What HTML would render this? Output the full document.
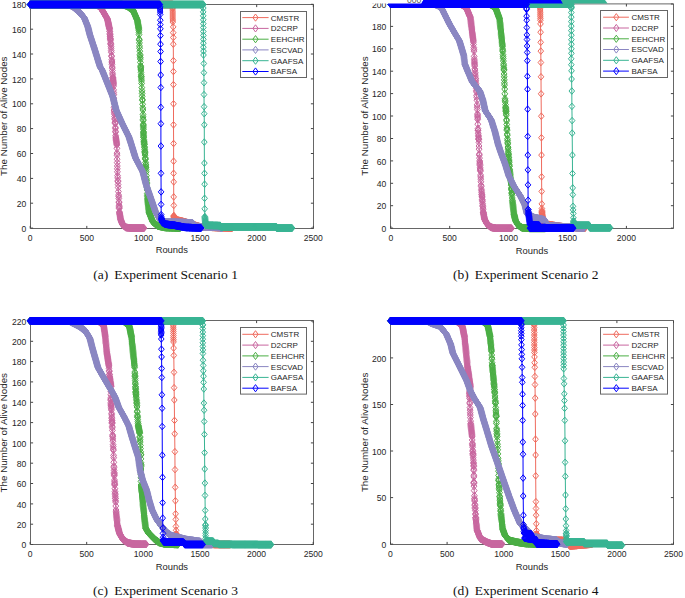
<!DOCTYPE html><html><head><meta charset="utf-8"><style>html,body{margin:0;padding:0;background:#fff;overflow:hidden}svg{display:block}</style></head><body>
<svg width="685" height="598" viewBox="0 0 685 598">
<defs>
<marker id="d0" markerUnits="userSpaceOnUse" markerWidth="12" markerHeight="12" refX="0" refY="0" overflow="visible"><path d="M0 -3.7 L2.9 0 L0 3.7 L-2.9 0Z" fill="none" stroke="#ef6b5e" stroke-width="1.0"/></marker>
<marker id="s0" markerUnits="userSpaceOnUse" markerWidth="12" markerHeight="12" refX="0" refY="0" overflow="visible"><path d="M0 -3.3 L2.8 0 L0 3.3 L-2.8 0Z" fill="none" stroke="#ef6b5e" stroke-width="1.0"/></marker>
<marker id="d1" markerUnits="userSpaceOnUse" markerWidth="12" markerHeight="12" refX="0" refY="0" overflow="visible"><path d="M0 -3.7 L2.9 0 L0 3.7 L-2.9 0Z" fill="none" stroke="#c8669f" stroke-width="1.0"/></marker>
<marker id="s1" markerUnits="userSpaceOnUse" markerWidth="12" markerHeight="12" refX="0" refY="0" overflow="visible"><path d="M0 -3.3 L2.8 0 L0 3.3 L-2.8 0Z" fill="none" stroke="#c8669f" stroke-width="1.0"/></marker>
<marker id="d2" markerUnits="userSpaceOnUse" markerWidth="12" markerHeight="12" refX="0" refY="0" overflow="visible"><path d="M0 -3.7 L2.9 0 L0 3.7 L-2.9 0Z" fill="none" stroke="#4aae44" stroke-width="1.0"/></marker>
<marker id="s2" markerUnits="userSpaceOnUse" markerWidth="12" markerHeight="12" refX="0" refY="0" overflow="visible"><path d="M0 -3.3 L2.8 0 L0 3.3 L-2.8 0Z" fill="none" stroke="#4aae44" stroke-width="1.0"/></marker>
<marker id="d3" markerUnits="userSpaceOnUse" markerWidth="12" markerHeight="12" refX="0" refY="0" overflow="visible"><path d="M0 -3.7 L2.9 0 L0 3.7 L-2.9 0Z" fill="none" stroke="#8a86c2" stroke-width="1.0"/></marker>
<marker id="s3" markerUnits="userSpaceOnUse" markerWidth="12" markerHeight="12" refX="0" refY="0" overflow="visible"><path d="M0 -3.3 L2.8 0 L0 3.3 L-2.8 0Z" fill="none" stroke="#8a86c2" stroke-width="1.0"/></marker>
<marker id="d4" markerUnits="userSpaceOnUse" markerWidth="12" markerHeight="12" refX="0" refY="0" overflow="visible"><path d="M0 -3.7 L2.9 0 L0 3.7 L-2.9 0Z" fill="none" stroke="#38b493" stroke-width="1.0"/></marker>
<marker id="s4" markerUnits="userSpaceOnUse" markerWidth="12" markerHeight="12" refX="0" refY="0" overflow="visible"><path d="M0 -3.3 L2.8 0 L0 3.3 L-2.8 0Z" fill="none" stroke="#38b493" stroke-width="1.0"/></marker>
<marker id="d5" markerUnits="userSpaceOnUse" markerWidth="12" markerHeight="12" refX="0" refY="0" overflow="visible"><path d="M0 -3.7 L2.9 0 L0 3.7 L-2.9 0Z" fill="none" stroke="#0000ff" stroke-width="1.0"/></marker>
<marker id="s5" markerUnits="userSpaceOnUse" markerWidth="12" markerHeight="12" refX="0" refY="0" overflow="visible"><path d="M0 -3.3 L2.8 0 L0 3.3 L-2.8 0Z" fill="none" stroke="#0000ff" stroke-width="1.0"/></marker>
</defs>
<rect width="685" height="598" fill="#fff"/>
<g font-family="&quot;Liberation Sans&quot;, sans-serif" font-size="8.6" fill="#262626"><path d="M30.5 4.5H313.5V228.5H30.5Z" fill="none" stroke="#666" stroke-width="1"/><path d="M30.2 228.5v-2.6M30.2 4.5v2.6M86.8 228.5v-2.6M86.8 4.5v2.6M143.5 228.5v-2.6M143.5 4.5v2.6M200.1 228.5v-2.6M200.1 4.5v2.6M256.7 228.5v-2.6M256.7 4.5v2.6M313.3 228.5v-2.6M313.3 4.5v2.6M30.5 228.1h2.6M313.5 228.1h-2.6M30.5 203.2h2.6M313.5 203.2h-2.6M30.5 178.4h2.6M313.5 178.4h-2.6M30.5 153.5h2.6M313.5 153.5h-2.6M30.5 128.6h2.6M313.5 128.6h-2.6M30.5 103.8h2.6M313.5 103.8h-2.6M30.5 78.9h2.6M313.5 78.9h-2.6M30.5 54h2.6M313.5 54h-2.6M30.5 29.2h2.6M313.5 29.2h-2.6M30.5 4.3h2.6M313.5 4.3h-2.6" stroke="#444" stroke-width="1" fill="none"/><polyline points="30.2,4.5 172.6,4.5 172.6,8 172.8,22 173.2,26.9 173.2,32.7 173.3,37.5 173.3,44.2 173.4,60.6 173.4,71.5 173.4,84.6 173.5,103.8 173.5,124.8 173.6,143.5 173.6,161.2 173.6,173.3 173.7,181.9 173.7,196.9 173.8,205.4 173.8,215.6 174.5,219.5 185,222 200,226.9 232,228.1" fill="none" stroke="#ef6b5e" stroke-width="1.0"/><polyline points="30.2,4.5 30.7,4.5 31.2,4.5 31.7,4.5 32.2,4.5 32.7,4.5 33.2,4.5 33.7,4.5 34.2,4.5 34.7,4.5 35.2,4.5 35.7,4.5 36.2,4.5 36.7,4.5 37.2,4.5 37.7,4.5 38.2,4.5 38.7,4.5 39.2,4.5 39.7,4.5 40.2,4.5 40.7,4.5 41.2,4.5 41.7,4.5 42.2,4.5 42.7,4.5 43.2,4.5 43.7,4.5 44.2,4.5 44.7,4.5 45.2,4.5 45.7,4.5 46.2,4.5 46.7,4.5 47.2,4.5 47.7,4.5 48.2,4.5 48.7,4.5 49.2,4.5 49.7,4.5 50.2,4.5 50.7,4.5 51.2,4.5 51.7,4.5 52.2,4.5 52.7,4.5 53.2,4.5 53.7,4.5 54.2,4.5 54.7,4.5 55.2,4.5 55.7,4.5 56.2,4.5 56.7,4.5 57.2,4.5 57.7,4.5 58.2,4.5 58.7,4.5 59.2,4.5 59.7,4.5 60.2,4.5 60.7,4.5 61.2,4.5 61.7,4.5 62.2,4.5 62.7,4.5 63.2,4.5 63.7,4.5 64.2,4.5 64.7,4.5 65.2,4.5 65.7,4.5 66.2,4.5 66.7,4.5 67.2,4.5 67.7,4.5 68.2,4.5 68.7,4.5 69.2,4.5 69.7,4.5 70.2,4.5 70.7,4.5 71.2,4.5 71.7,4.5 72.2,4.5 72.7,4.5 73.2,4.5 73.7,4.5 74.2,4.5 74.7,4.5 75.2,4.5 75.7,4.5 76.2,4.5 76.7,4.5 77.2,4.5 77.7,4.5 78.2,4.5 78.7,4.5 79.2,4.5 79.7,4.5 80.2,4.5 80.7,4.5 81.2,4.5 81.7,4.5 82.2,4.5 82.7,4.5 83.2,4.5 83.7,4.5 84.2,4.5 84.7,4.5 85.2,4.5 85.7,4.5 86.2,4.5 86.7,4.5 87.2,4.5 87.7,4.5 88.2,4.5 88.7,4.5 89.2,4.5 89.7,4.5 90.2,4.5 90.7,4.5 91.2,4.5 91.7,4.5 92.2,4.5 92.7,4.5 93.2,4.5 93.7,4.5 94.2,4.5 94.7,4.5 95.2,4.5 95.7,4.5 96.2,4.5 96.7,4.5 97.2,4.5 97.7,4.5 98.2,4.5 98.7,4.5 99.2,4.5 99.7,4.5 100.2,4.5 100.7,4.5 101.2,4.5 101.6,4.5 102.1,4.5 102.6,4.5 103.1,4.5 103.6,4.5 104.1,4.5 104.6,4.5 105.1,4.5 105.6,4.5 106.1,4.5 106.6,4.5 107.1,4.5 107.6,4.5 108.1,4.5 108.6,4.5 109.1,4.5 109.6,4.5 110.1,4.5 110.6,4.5 111.1,4.5 111.6,4.5 112.1,4.5 112.6,4.5 113.1,4.5 113.6,4.5 114.1,4.5 114.6,4.5 115.1,4.5 115.6,4.5 116.1,4.5 116.6,4.5 117.1,4.5 117.6,4.5 118.1,4.5 118.6,4.5 119.1,4.5 119.6,4.5 120.1,4.5 120.6,4.5 121.1,4.5 121.6,4.5 122.1,4.5 122.6,4.5 123.1,4.5 123.6,4.5 124.1,4.5 124.6,4.5 125.1,4.5 125.6,4.5 126.1,4.5 126.6,4.5 127.1,4.5 127.6,4.5 128.1,4.5 128.6,4.5 129.1,4.5 129.6,4.5 130.1,4.5 130.6,4.5 131.1,4.5 131.6,4.5 132.1,4.5 132.6,4.5 133.1,4.5 133.6,4.5 134.1,4.5 134.6,4.5 135.1,4.5 135.6,4.5 136.1,4.5 136.6,4.5 137.1,4.5 137.6,4.5 138.1,4.5 138.6,4.5 139.1,4.5 139.6,4.5 140.1,4.5 140.6,4.5 141.1,4.5 141.6,4.5 142.1,4.5 142.6,4.5 143.1,4.5 143.6,4.5 144.1,4.5 144.6,4.5 145.1,4.5 145.6,4.5 146.1,4.5 146.6,4.5 147.1,4.5 147.6,4.5 148.1,4.5 148.6,4.5 149.1,4.5 149.6,4.5 150.1,4.5 150.6,4.5 151.1,4.5 151.6,4.5 152.1,4.5 152.6,4.5 153.1,4.5 153.6,4.5 154.1,4.5 154.6,4.5 155.1,4.5 155.6,4.5 156.1,4.5 156.6,4.5 157.1,4.5 157.6,4.5 158.1,4.5 158.6,4.5 159.1,4.5 159.6,4.5 160.1,4.5 160.6,4.5 161.1,4.5 161.6,4.5 162.1,4.5 162.6,4.5 163.1,4.5 163.6,4.5 164.1,4.5 164.6,4.5 165.1,4.5 165.6,4.5 166.1,4.5 166.6,4.5 167.1,4.5 167.6,4.5 168.1,4.5 168.6,4.5 169.1,4.5 169.6,4.5 170.1,4.5 170.6,4.5 171.1,4.5 171.6,4.5 172.1,4.5 172.6,4.5 172.6,6.7 172.6,8 173.9,216.2 174,216.7 174.1,217.3 174.2,217.8 174.3,218.4 174.4,218.9 174.5,219.5 175,219.6 175.5,219.7 175.9,219.8 176.4,220 176.9,220.1 177.4,220.2 177.8,220.3 178.3,220.4 178.8,220.5 179.3,220.6 179.8,220.8 180.2,220.9 180.7,221 181.2,221.1 181.7,221.2 182.1,221.3 182.6,221.4 183.1,221.5 183.6,221.7 184,221.8 184.5,221.9 185,222 185.5,222.2 185.9,222.3 186.4,222.5 186.9,222.6 187.3,222.8 187.8,222.9 188.3,223.1 188.8,223.2 189.2,223.4 189.7,223.5 190.2,223.7 190.6,223.8 191.1,224 191.6,224.1 192,224.3 192.5,224.4 193,224.6 193.4,224.8 193.9,224.9 194.4,225.1 194.8,225.2 195.3,225.4 195.8,225.5 196.2,225.7 196.7,225.8 197.2,226 197.7,226.1 198.1,226.3 198.6,226.4 199.1,226.6 199.5,226.7 200,226.9 200.5,226.9 201,226.9 201.5,227 202,227 202.5,227 203,227 203.4,227 203.9,227 204.4,227.1 204.9,227.1 205.4,227.1 205.9,227.1 206.4,227.1 206.9,227.2 207.4,227.2 207.9,227.2 208.4,227.2 208.9,227.2 209.4,227.3 209.8,227.3 210.3,227.3 210.8,227.3 211.3,227.3 211.8,227.3 212.3,227.4 212.8,227.4 213.3,227.4 213.8,227.4 214.3,227.4 214.8,227.5 215.3,227.5 215.8,227.5 216.2,227.5 216.7,227.5 217.2,227.5 217.7,227.6 218.2,227.6 218.7,227.6 219.2,227.6 219.7,227.6 220.2,227.7 220.7,227.7 221.2,227.7 221.7,227.7 222.2,227.7 222.6,227.7 223.1,227.8 223.6,227.8 224.1,227.8 224.6,227.8 225.1,227.8 225.6,227.9 226.1,227.9 226.6,227.9 227.1,227.9 227.6,227.9 228.1,228 228.6,228 229,228 229.5,228 230,228 230.5,228 231,228.1 231.5,228.1 232,228.1" fill="none" stroke="none" marker-start="url(#d0)" marker-mid="url(#d0)" marker-end="url(#d0)"/><polyline points="172.6,10 172.7,12 172.7,14 172.7,16 172.7,18 172.8,20 172.8,22 173.2,26.9 173.2,32.7 173.3,37.5 173.3,44.2 173.4,60.6 173.4,71.5 173.4,84.6 173.5,103.8 173.5,124.8 173.6,143.5 173.6,161.2 173.6,173.3 173.7,181.9 173.7,196.9 173.8,205.4 173.8,215.6" fill="none" stroke="none" marker-start="url(#s0)" marker-mid="url(#s0)" marker-end="url(#s0)"/><polyline points="30.2,4.5 95,4.5 99,6 102.3,10.2 107.4,19 109.6,29.2 110.4,39.4 111.1,48.2 112.2,67 112.8,77.6 113.5,83.4 114.1,110 115.2,123.5 115.8,137 116.8,145 117.4,171.8 118.8,198.5 119.4,211.9 120.5,219 122.5,224.5 126,227.5 132,228.1 144,228.1" fill="none" stroke="#c8669f" stroke-width="1.0"/><polyline points="30.2,4.5 30.7,4.5 31.2,4.5 31.7,4.5 32.2,4.5 32.7,4.5 33.2,4.5 33.7,4.5 34.2,4.5 34.7,4.5 35.2,4.5 35.7,4.5 36.2,4.5 36.7,4.5 37.2,4.5 37.7,4.5 38.2,4.5 38.7,4.5 39.2,4.5 39.7,4.5 40.2,4.5 40.7,4.5 41.2,4.5 41.7,4.5 42.2,4.5 42.7,4.5 43.2,4.5 43.7,4.5 44.2,4.5 44.7,4.5 45.2,4.5 45.7,4.5 46.2,4.5 46.6,4.5 47.1,4.5 47.6,4.5 48.1,4.5 48.6,4.5 49.1,4.5 49.6,4.5 50.1,4.5 50.6,4.5 51.1,4.5 51.6,4.5 52.1,4.5 52.6,4.5 53.1,4.5 53.6,4.5 54.1,4.5 54.6,4.5 55.1,4.5 55.6,4.5 56.1,4.5 56.6,4.5 57.1,4.5 57.6,4.5 58.1,4.5 58.6,4.5 59.1,4.5 59.6,4.5 60.1,4.5 60.6,4.5 61.1,4.5 61.6,4.5 62.1,4.5 62.6,4.5 63.1,4.5 63.6,4.5 64.1,4.5 64.6,4.5 65.1,4.5 65.6,4.5 66.1,4.5 66.6,4.5 67.1,4.5 67.6,4.5 68.1,4.5 68.6,4.5 69.1,4.5 69.6,4.5 70.1,4.5 70.6,4.5 71.1,4.5 71.6,4.5 72.1,4.5 72.6,4.5 73.1,4.5 73.6,4.5 74.1,4.5 74.6,4.5 75.1,4.5 75.6,4.5 76.1,4.5 76.6,4.5 77.1,4.5 77.6,4.5 78.1,4.5 78.6,4.5 79,4.5 79.5,4.5 80,4.5 80.5,4.5 81,4.5 81.5,4.5 82,4.5 82.5,4.5 83,4.5 83.5,4.5 84,4.5 84.5,4.5 85,4.5 85.5,4.5 86,4.5 86.5,4.5 87,4.5 87.5,4.5 88,4.5 88.5,4.5 89,4.5 89.5,4.5 90,4.5 90.5,4.5 91,4.5 91.5,4.5 92,4.5 92.5,4.5 93,4.5 93.5,4.5 94,4.5 94.5,4.5 95,4.5 95.4,4.7 95.9,4.8 96.3,5 96.8,5.2 97.2,5.3 97.7,5.5 98.1,5.7 98.6,5.8 99,6 99.3,6.4 99.6,6.8 99.9,7.1 100.2,7.5 100.5,7.9 100.8,8.3 101.1,8.7 101.4,9.1 101.7,9.4 102,9.8 102.3,10.2 102.5,10.6 102.8,11 103,11.5 103.3,11.9 103.5,12.3 103.8,12.7 104,13.1 104.2,13.6 104.5,14 104.7,14.4 105,14.8 105.2,15.2 105.5,15.6 105.7,16.1 105.9,16.5 106.2,16.9 106.4,17.3 106.7,17.7 106.9,18.2 107.2,18.6 107.4,19 107.5,19.5 107.6,20 107.7,20.5 107.8,21 108,21.6 108.1,22.1 108.2,22.6 108.3,23.1 108.4,23.6 108.5,24.1 108.6,24.6 108.7,25.1 108.8,25.6 108.9,26.1 109,26.6 109.2,27.2 109.3,27.7 109.4,28.2 109.5,28.7 109.6,29.2 109.7,31.1 109.8,31.6 109.9,33.3 110,34.5 110.1,35 110.2,36.6 110.2,37 110.3,38.4 110.4,39 110.4,39.4 110.5,40.8 110.7,43.1 110.7,43.7 110.8,44.6 111,46.4 111.1,48.2 111.2,50.5 111.3,52.3 111.5,55.9 111.6,56.5 111.8,59.7 111.9,61.1 111.9,62.1 112,63 112,64.4 112.2,67 112.3,68.1 112.4,70.5 112.5,73.1 112.6,74.9 112.8,77.2 112.8,77.6 112.9,78.4 113,79.3 113.1,80.1 113.2,80.9 113.3,81.7 113.4,82.6 113.5,83.4 113.5,84.4 113.6,86 113.6,89.9 113.7,92.5 113.8,94.7 113.8,98.1 113.9,100.9 113.9,103 114,107.3 114.1,110 114.2,110.9 114.3,112.6 114.4,114.1 114.6,116.5 114.8,118.5 114.9,119.5 115.1,122.1 115.1,122.7 115.2,123.5 115.4,127.3 115.4,128.6 115.5,131.3 115.6,132.1 115.7,135.5 115.8,137 115.9,137.9 116,138.8 116.1,139.7 116.2,140.6 116.4,141.4 116.5,142.3 116.6,143.2 116.7,144.1 116.8,145 116.9,148.3 117,153.1 117,155.2 117.1,159.2 117.2,162.6 117.3,166 117.3,168.8 117.4,171.8 117.6,175.7 117.7,177.9 117.9,180.8 117.9,181.6 118.1,184.6 118.2,187.5 118.4,191.6 118.6,195 118.7,196.6 118.8,198.5 119,201.9 119,202.6 119.1,205.2 119.2,206.5 119.2,207.7 119.2,208.5 119.4,211.9 119.5,212.6 119.6,213.3 119.7,214 119.8,214.7 120,215.4 120.1,216.2 120.2,216.9 120.3,217.6 120.4,218.3 120.5,219 120.7,219.5 120.8,219.9 121,220.4 121.2,220.8 121.3,221.3 121.5,221.8 121.7,222.2 121.8,222.7 122,223.1 122.2,223.6 122.3,224 122.5,224.5 122.8,224.8 123.2,225.1 123.5,225.4 123.9,225.7 124.2,226 124.6,226.3 125,226.6 125.3,226.9 125.7,227.2 126,227.5 126.5,227.5 126.9,227.6 127.4,227.6 127.8,227.7 128.3,227.7 128.8,227.8 129.2,227.8 129.7,227.9 130.2,227.9 130.6,228 131.1,228 131.5,228.1 132,228.1 132.5,228.1 133,228.1 133.5,228.1 134,228.1 134.5,228.1 135,228.1 135.5,228.1 136,228.1 136.5,228.1 137,228.1 137.5,228.1 138,228.1 138.5,228.1 139,228.1 139.5,228.1 140,228.1 140.5,228.1 141,228.1 141.5,228.1 142,228.1 142.5,228.1 143,228.1 143.5,228.1 144,228.1" fill="none" stroke="none" marker-start="url(#d1)" marker-mid="url(#d1)" marker-end="url(#d1)"/><polyline points="30.2,4.5 122,4.5 127,6 133,10.2 137.4,20.4 138.8,29.2 139.6,48.2 140.9,70 141.6,83.4 142.9,110 143.6,137 144.6,147.6 146.2,171.8 147.5,198.5 148.9,211.9 152.9,222 158,226 165,227.5 180,228.1" fill="none" stroke="#4aae44" stroke-width="1.0"/><polyline points="30.2,4.5 30.7,4.5 31.2,4.5 31.7,4.5 32.2,4.5 32.7,4.5 33.2,4.5 33.7,4.5 34.2,4.5 34.7,4.5 35.2,4.5 35.7,4.5 36.2,4.5 36.7,4.5 37.2,4.5 37.7,4.5 38.2,4.5 38.7,4.5 39.2,4.5 39.7,4.5 40.2,4.5 40.7,4.5 41.2,4.5 41.7,4.5 42.2,4.5 42.7,4.5 43.2,4.5 43.7,4.5 44.2,4.5 44.7,4.5 45.2,4.5 45.7,4.5 46.2,4.5 46.7,4.5 47.2,4.5 47.7,4.5 48.2,4.5 48.7,4.5 49.2,4.5 49.7,4.5 50.2,4.5 50.7,4.5 51.2,4.5 51.7,4.5 52.2,4.5 52.7,4.5 53.1,4.5 53.6,4.5 54.1,4.5 54.6,4.5 55.1,4.5 55.6,4.5 56.1,4.5 56.6,4.5 57.1,4.5 57.6,4.5 58.1,4.5 58.6,4.5 59.1,4.5 59.6,4.5 60.1,4.5 60.6,4.5 61.1,4.5 61.6,4.5 62.1,4.5 62.6,4.5 63.1,4.5 63.6,4.5 64.1,4.5 64.6,4.5 65.1,4.5 65.6,4.5 66.1,4.5 66.6,4.5 67.1,4.5 67.6,4.5 68.1,4.5 68.6,4.5 69.1,4.5 69.6,4.5 70.1,4.5 70.6,4.5 71.1,4.5 71.6,4.5 72.1,4.5 72.6,4.5 73.1,4.5 73.6,4.5 74.1,4.5 74.6,4.5 75.1,4.5 75.6,4.5 76.1,4.5 76.6,4.5 77.1,4.5 77.6,4.5 78.1,4.5 78.6,4.5 79.1,4.5 79.6,4.5 80.1,4.5 80.6,4.5 81.1,4.5 81.6,4.5 82.1,4.5 82.6,4.5 83.1,4.5 83.6,4.5 84.1,4.5 84.6,4.5 85.1,4.5 85.6,4.5 86.1,4.5 86.6,4.5 87.1,4.5 87.6,4.5 88.1,4.5 88.6,4.5 89.1,4.5 89.6,4.5 90.1,4.5 90.6,4.5 91.1,4.5 91.6,4.5 92.1,4.5 92.6,4.5 93.1,4.5 93.6,4.5 94.1,4.5 94.6,4.5 95.1,4.5 95.6,4.5 96.1,4.5 96.6,4.5 97.1,4.5 97.6,4.5 98.1,4.5 98.6,4.5 99,4.5 99.5,4.5 100,4.5 100.5,4.5 101,4.5 101.5,4.5 102,4.5 102.5,4.5 103,4.5 103.5,4.5 104,4.5 104.5,4.5 105,4.5 105.5,4.5 106,4.5 106.5,4.5 107,4.5 107.5,4.5 108,4.5 108.5,4.5 109,4.5 109.5,4.5 110,4.5 110.5,4.5 111,4.5 111.5,4.5 112,4.5 112.5,4.5 113,4.5 113.5,4.5 114,4.5 114.5,4.5 115,4.5 115.5,4.5 116,4.5 116.5,4.5 117,4.5 117.5,4.5 118,4.5 118.5,4.5 119,4.5 119.5,4.5 120,4.5 120.5,4.5 121,4.5 121.5,4.5 122,4.5 122.5,4.6 122.9,4.8 123.4,4.9 123.8,5 124.3,5.2 124.7,5.3 125.2,5.5 125.6,5.6 126.1,5.7 126.5,5.9 127,6 127.4,6.3 127.8,6.6 128.2,6.8 128.6,7.1 129,7.4 129.4,7.7 129.8,8 130.2,8.2 130.6,8.5 131,8.8 131.4,9.1 131.8,9.4 132.2,9.6 132.6,9.9 133,10.2 133.2,10.6 133.4,11.1 133.6,11.5 133.8,12 134,12.4 134.1,12.9 134.3,13.3 134.5,13.7 134.7,14.2 134.9,14.6 135.1,15.1 135.3,15.5 135.5,16 135.7,16.4 135.9,16.9 136.1,17.3 136.3,17.7 136.4,18.2 136.6,18.6 136.8,19.1 137,19.5 137.2,20 137.4,20.4 137.5,21.1 137.6,21.8 137.7,22.4 137.8,23.1 137.9,23.8 138,24.5 138.2,25.1 138.3,25.8 138.4,26.5 138.5,27.2 138.6,27.8 138.7,28.5 138.8,29.2 138.9,30.4 138.9,32.2 139,34.6 139.2,39.2 139.3,40.2 139.4,42.9 139.5,46 139.6,48.2 139.8,51.2 140,54.4 140.1,55.8 140.2,57.5 140.3,59.1 140.4,62.4 140.7,65.9 140.7,66.8 140.8,67.8 140.8,69 140.9,70 141,72.3 141.2,74.9 141.2,76.4 141.3,77 141.4,79 141.5,80.9 141.6,83.4 141.8,87.6 142,90.8 142.1,93.4 142.2,96.3 142.4,99.5 142.4,100.3 142.6,104.3 142.8,107.9 142.9,110 143,114.4 143.1,116.9 143.1,119.4 143.2,120.6 143.3,124.2 143.3,125.2 143.3,126.2 143.4,127.9 143.4,129.4 143.5,131.6 143.5,132.6 143.5,133.3 143.5,134.7 143.6,135.8 143.6,137 143.6,137.4 143.8,139.4 144,140.9 144,141.5 144.1,142.3 144.2,143.3 144.3,144.3 144.3,144.8 144.5,146.8 144.6,147.6 144.7,149.3 144.8,151.1 144.9,151.8 144.9,152.5 145,153.9 145.1,155.1 145.3,157.9 145.3,158.8 145.4,159.3 145.6,162.4 145.7,164.3 145.8,165.1 145.9,167.1 145.9,167.6 146,169.5 146.2,171.8 146.4,175.7 146.5,178.9 146.6,180.5 146.7,182.5 146.8,183.7 147,187.3 147.1,189.9 147.3,193.5 147.3,195.3 147.4,196.8 147.5,198.5 147.6,199.5 147.7,200.6 147.8,201.6 147.9,202.6 148,203.7 148.1,204.7 148.3,205.7 148.4,206.7 148.5,207.8 148.6,208.8 148.7,209.8 148.8,210.9 148.9,211.9 149.1,212.4 149.3,212.8 149.4,213.3 149.6,213.7 149.8,214.2 150,214.7 150.2,215.1 150.4,215.6 150.5,216 150.7,216.5 150.9,216.9 151.1,217.4 151.3,217.9 151.4,218.3 151.6,218.8 151.8,219.2 152,219.7 152.2,220.2 152.4,220.6 152.5,221.1 152.7,221.5 152.9,222 153.3,222.3 153.7,222.6 154.1,222.9 154.5,223.2 154.9,223.5 155.3,223.8 155.6,224.2 156,224.5 156.4,224.8 156.8,225.1 157.2,225.4 157.6,225.7 158,226 158.5,226.1 158.9,226.2 159.4,226.3 159.9,226.4 160.3,226.5 160.8,226.6 161.3,226.7 161.7,226.8 162.2,226.9 162.7,227 163.1,227.1 163.6,227.2 164.1,227.3 164.5,227.4 165,227.5 165.5,227.5 166,227.5 166.5,227.6 166.9,227.6 167.4,227.6 167.9,227.6 168.4,227.6 168.9,227.7 169.4,227.7 169.8,227.7 170.3,227.7 170.8,227.7 171.3,227.8 171.8,227.8 172.3,227.8 172.7,227.8 173.2,227.8 173.7,227.8 174.2,227.9 174.7,227.9 175.2,227.9 175.6,227.9 176.1,227.9 176.6,228 177.1,228 177.6,228 178.1,228 178.5,228 179,228.1 179.5,228.1 180,228.1" fill="none" stroke="none" marker-start="url(#d2)" marker-mid="url(#d2)" marker-end="url(#d2)"/><polyline points="30.2,4.5 68,4.5 72,6 77.5,10.2 84.1,17.5 87.7,26.3 89.9,35 94.3,48.2 100.1,66.9 102.1,70 107.5,83.4 112.8,96.8 116.2,110.1 122.2,123.5 128.9,136.9 131.5,145 135.5,158 142.8,171.8 146.2,185 150.9,198.5 155.6,211.9 159.6,219 163,222 175,222.3 192,222.8 196,226.5 220,227.5 222,228.1" fill="none" stroke="#8a86c2" stroke-width="1.0"/><polyline points="30.2,4.5 30.7,4.5 31.2,4.5 31.7,4.5 32.2,4.5 32.7,4.5 33.2,4.5 33.7,4.5 34.2,4.5 34.7,4.5 35.2,4.5 35.7,4.5 36.2,4.5 36.7,4.5 37.2,4.5 37.7,4.5 38.2,4.5 38.7,4.5 39.2,4.5 39.6,4.5 40.1,4.5 40.6,4.5 41.1,4.5 41.6,4.5 42.1,4.5 42.6,4.5 43.1,4.5 43.6,4.5 44.1,4.5 44.6,4.5 45.1,4.5 45.6,4.5 46.1,4.5 46.6,4.5 47.1,4.5 47.6,4.5 48.1,4.5 48.6,4.5 49.1,4.5 49.6,4.5 50.1,4.5 50.6,4.5 51.1,4.5 51.6,4.5 52.1,4.5 52.6,4.5 53.1,4.5 53.6,4.5 54.1,4.5 54.6,4.5 55.1,4.5 55.6,4.5 56.1,4.5 56.6,4.5 57.1,4.5 57.6,4.5 58.1,4.5 58.5,4.5 59,4.5 59.5,4.5 60,4.5 60.5,4.5 61,4.5 61.5,4.5 62,4.5 62.5,4.5 63,4.5 63.5,4.5 64,4.5 64.5,4.5 65,4.5 65.5,4.5 66,4.5 66.5,4.5 67,4.5 67.5,4.5 68,4.5 68.4,4.7 68.9,4.8 69.3,5 69.8,5.2 70.2,5.3 70.7,5.5 71.1,5.7 71.6,5.8 72,6 72.4,6.3 72.8,6.6 73.2,6.9 73.6,7.2 74,7.5 74.4,7.8 74.8,8.1 75.1,8.4 75.5,8.7 75.9,9 76.3,9.3 76.7,9.6 77.1,9.9 77.5,10.2 77.8,10.6 78.2,10.9 78.5,11.3 78.8,11.7 79.2,12 79.5,12.4 79.8,12.8 80.1,13.1 80.5,13.5 80.8,13.8 81.1,14.2 81.5,14.6 81.8,14.9 82.1,15.3 82.4,15.7 82.8,16 83.1,16.4 83.4,16.8 83.8,17.1 84.1,17.5 84.3,17.9 84.5,18.4 84.6,18.8 84.8,19.3 85,19.7 85.2,20.1 85.4,20.6 85.5,21 85.7,21.5 85.9,21.9 86.1,22.3 86.3,22.8 86.4,23.2 86.6,23.7 86.8,24.1 87,24.5 87.2,25 87.3,25.4 87.5,25.9 87.7,26.3 87.8,26.8 87.9,27.3 88.1,27.8 88.2,28.2 88.3,28.7 88.4,29.2 88.6,29.7 88.7,30.2 88.8,30.6 88.9,31.1 89,31.6 89.2,32.1 89.3,32.6 89.4,33.1 89.5,33.5 89.7,34 89.8,34.5 89.9,35 90.1,35.5 90.2,35.9 90.4,36.4 90.5,36.9 90.7,37.4 90.8,37.8 91,38.3 91.2,38.8 91.3,39.2 91.5,39.7 91.6,40.2 91.8,40.7 91.9,41.1 92.1,41.6 92.3,42.1 92.4,42.5 92.6,43 92.7,43.5 92.9,44 93,44.4 93.2,44.9 93.4,45.4 93.5,45.8 93.7,46.3 93.8,46.8 94,47.3 94.1,47.7 94.3,48.2 94.4,48.7 94.6,49.1 94.7,49.6 94.9,50.1 95,50.5 95.2,51 95.3,51.5 95.5,51.9 95.6,52.4 95.8,52.9 95.9,53.3 96,53.8 96.2,54.3 96.3,54.7 96.5,55.2 96.6,55.7 96.8,56.1 96.9,56.6 97.1,57.1 97.2,57.6 97.3,58 97.5,58.5 97.6,59 97.8,59.4 97.9,59.9 98.1,60.4 98.2,60.8 98.4,61.3 98.5,61.8 98.6,62.2 98.8,62.7 98.9,63.2 99.1,63.6 99.2,64.1 99.4,64.6 99.5,65 99.7,65.5 99.8,66 100,66.4 100.1,66.9 100.3,67.3 100.6,67.7 100.8,68.1 101.1,68.5 101.3,68.8 101.6,69.2 101.8,69.6 102.1,70 102.3,70.5 102.5,70.9 102.7,71.4 102.8,71.8 103,72.3 103.2,72.8 103.4,73.2 103.6,73.7 103.8,74.2 104,74.6 104.1,75.1 104.3,75.5 104.5,76 104.7,76.5 104.9,76.9 105.1,77.4 105.3,77.9 105.5,78.3 105.6,78.8 105.8,79.2 106,79.7 106.2,80.2 106.4,80.6 106.6,81.1 106.8,81.6 106.9,82 107.1,82.5 107.3,82.9 107.5,83.4 107.7,83.9 107.9,84.3 108,84.8 108.2,85.2 108.4,85.7 108.6,86.2 108.8,86.6 109,87.1 109.1,87.6 109.3,88 109.5,88.5 109.7,88.9 109.9,89.4 110.1,89.9 110.2,90.3 110.4,90.8 110.6,91.3 110.8,91.7 111,92.2 111.2,92.6 111.3,93.1 111.5,93.6 111.7,94 111.9,94.5 112.1,95 112.3,95.4 112.4,95.9 112.6,96.3 112.8,96.8 112.9,97.3 113,97.8 113.2,98.2 113.3,98.7 113.4,99.2 113.5,99.6 113.7,100.1 113.8,100.6 113.9,101.1 114,101.5 114.1,102 114.3,102.5 114.4,103 114.5,103.4 114.6,103.9 114.7,104.4 114.9,104.9 115,105.3 115.1,105.8 115.2,106.3 115.3,106.8 115.5,107.2 115.6,107.7 115.7,108.2 115.8,108.7 116,109.1 116.1,109.6 116.2,110.1 116.4,110.5 116.6,111 116.8,111.4 117,111.9 117.2,112.3 117.4,112.8 117.6,113.2 117.8,113.7 118,114.1 118.2,114.6 118.4,115 118.6,115.5 118.8,115.9 119,116.4 119.2,116.8 119.4,117.2 119.6,117.7 119.8,118.1 120,118.6 120.2,119 120.4,119.5 120.6,119.9 120.8,120.4 121,120.8 121.2,121.3 121.4,121.7 121.6,122.2 121.8,122.6 122,123.1 122.2,123.5 122.4,123.9 122.6,124.4 122.9,124.8 123.1,125.3 123.3,125.7 123.5,126.2 123.8,126.6 124,127.1 124.2,127.5 124.4,128 124.7,128.4 124.9,128.9 125.1,129.3 125.3,129.8 125.6,130.2 125.8,130.6 126,131.1 126.2,131.5 126.4,132 126.7,132.4 126.9,132.9 127.1,133.3 127.3,133.8 127.6,134.2 127.8,134.7 128,135.1 128.2,135.6 128.5,136 128.7,136.5 128.9,136.9 129,137.3 129.2,137.8 129.3,138.2 129.5,138.7 129.6,139.2 129.8,139.6 129.9,140.1 130.1,140.5 130.2,140.9 130.3,141.4 130.5,141.8 130.6,142.3 130.8,142.8 130.9,143.2 131.1,143.7 131.2,144.1 131.4,144.6 131.5,145 131.6,145.5 131.8,145.9 131.9,146.4 132.1,146.9 132.2,147.3 132.4,147.8 132.5,148.2 132.6,148.7 132.8,149.2 132.9,149.6 133.1,150.1 133.2,150.6 133.4,151 133.5,151.5 133.6,152 133.8,152.4 133.9,152.9 134.1,153.4 134.2,153.8 134.4,154.3 134.5,154.8 134.6,155.2 134.8,155.7 134.9,156.1 135.1,156.6 135.2,157.1 135.4,157.5 135.5,158 135.7,158.4 136,158.9 136.2,159.3 136.4,159.7 136.6,160.2 136.9,160.6 137.1,161 137.3,161.4 137.6,161.9 137.8,162.3 138,162.7 138.2,163.2 138.5,163.6 138.7,164 138.9,164.5 139.2,164.9 139.4,165.3 139.6,165.8 139.8,166.2 140.1,166.6 140.3,167.1 140.5,167.5 140.7,167.9 141,168.4 141.2,168.8 141.4,169.2 141.7,169.6 141.9,170.1 142.1,170.5 142.3,170.9 142.6,171.4 142.8,171.8 142.9,172.3 143,172.7 143.2,173.2 143.3,173.7 143.4,174.2 143.5,174.6 143.7,175.1 143.8,175.6 143.9,176 144,176.5 144.1,177 144.3,177.5 144.4,177.9 144.5,178.4 144.6,178.9 144.7,179.3 144.9,179.8 145,180.3 145.1,180.8 145.2,181.2 145.3,181.7 145.5,182.2 145.6,182.6 145.7,183.1 145.8,183.6 146,184.1 146.1,184.5 146.2,185 146.4,185.5 146.5,185.9 146.7,186.4 146.8,186.9 147,187.3 147.2,187.8 147.3,188.3 147.5,188.7 147.7,189.2 147.8,189.7 148,190.1 148.1,190.6 148.3,191.1 148.5,191.5 148.6,192 148.8,192.4 149,192.9 149.1,193.4 149.3,193.8 149.4,194.3 149.6,194.8 149.8,195.2 149.9,195.7 150.1,196.2 150.3,196.6 150.4,197.1 150.6,197.6 150.7,198 150.9,198.5 151.1,199 151.2,199.4 151.4,199.9 151.5,200.3 151.7,200.8 151.9,201.3 152,201.7 152.2,202.2 152.4,202.7 152.5,203.1 152.7,203.6 152.8,204 153,204.5 153.2,205 153.3,205.4 153.5,205.9 153.7,206.4 153.8,206.8 154,207.3 154.1,207.7 154.3,208.2 154.5,208.7 154.6,209.1 154.8,209.6 155,210.1 155.1,210.5 155.3,211 155.4,211.4 155.6,211.9 155.8,212.3 156.1,212.7 156.3,213.2 156.5,213.6 156.8,214 157,214.4 157.2,214.8 157.5,215.2 157.7,215.7 158,216.1 158.2,216.5 158.4,216.9 158.7,217.3 158.9,217.7 159.1,218.2 159.4,218.6 159.6,219 159.9,219.3 160.3,219.6 160.6,219.9 161,220.2 161.3,220.5 161.6,220.8 162,221.1 162.3,221.4 162.7,221.7 163,222 163.5,222 164,222 164.4,222 164.9,222 165.4,222.1 165.9,222.1 166.4,222.1 166.8,222.1 167.3,222.1 167.8,222.1 168.3,222.1 168.8,222.1 169.2,222.2 169.7,222.2 170.2,222.2 170.7,222.2 171.2,222.2 171.6,222.2 172.1,222.2 172.6,222.2 173.1,222.3 173.6,222.3 174,222.3 174.5,222.3 175,222.3 175.5,222.3 176,222.3 176.5,222.3 176.9,222.4 177.4,222.4 177.9,222.4 178.4,222.4 178.9,222.4 179.4,222.4 179.9,222.4 180.3,222.5 180.8,222.5 181.3,222.5 181.8,222.5 182.3,222.5 182.8,222.5 183.3,222.5 183.7,222.6 184.2,222.6 184.7,222.6 185.2,222.6 185.7,222.6 186.2,222.6 186.7,222.6 187.1,222.7 187.6,222.7 188.1,222.7 188.6,222.7 189.1,222.7 189.6,222.7 190.1,222.7 190.5,222.8 191,222.8 191.5,222.8 192,222.8 192.4,223.1 192.7,223.5 193.1,223.8 193.5,224.1 193.8,224.5 194.2,224.8 194.5,225.2 194.9,225.5 195.3,225.8 195.6,226.2 196,226.5 196.5,226.5 197,226.5 197.5,226.6 198,226.6 198.4,226.6 198.9,226.6 199.4,226.6 199.9,226.7 200.4,226.7 200.9,226.7 201.4,226.7 201.9,226.7 202.4,226.8 202.9,226.8 203.3,226.8 203.8,226.8 204.3,226.8 204.8,226.9 205.3,226.9 205.8,226.9 206.3,226.9 206.8,226.9 207.3,227 207.8,227 208.2,227 208.7,227 209.2,227.1 209.7,227.1 210.2,227.1 210.7,227.1 211.2,227.1 211.7,227.2 212.2,227.2 212.7,227.2 213.1,227.2 213.6,227.2 214.1,227.3 214.6,227.3 215.1,227.3 215.6,227.3 216.1,227.3 216.6,227.4 217.1,227.4 217.6,227.4 218,227.4 218.5,227.4 219,227.5 219.5,227.5 220,227.5 220.4,227.6 220.8,227.7 221.2,227.9 221.6,228 222,228.1" fill="none" stroke="none" marker-start="url(#d3)" marker-mid="url(#d3)" marker-end="url(#d3)"/><polyline points="30.2,4.5 203.2,4.5 203.2,8 203.5,55 203.8,63.5 203.9,72.7 204,82.7 204,94.6 204.1,106.7 204.2,113.7 204.3,124.8 204.3,142.1 204.4,163.1 204.5,173.3 204.6,184.2 204.6,198.3 204.7,208.8 204.8,216.5 205.3,221.6 206,225.3 220,225.6 221,226.9 276,226.9 277,228.1 292,228.1" fill="none" stroke="#38b493" stroke-width="1.0"/><polyline points="30.2,4.5 30.7,4.5 31.2,4.5 31.7,4.5 32.2,4.5 32.7,4.5 33.2,4.5 33.7,4.5 34.2,4.5 34.7,4.5 35.2,4.5 35.7,4.5 36.2,4.5 36.7,4.5 37.2,4.5 37.7,4.5 38.2,4.5 38.7,4.5 39.2,4.5 39.7,4.5 40.2,4.5 40.7,4.5 41.2,4.5 41.7,4.5 42.2,4.5 42.7,4.5 43.2,4.5 43.7,4.5 44.2,4.5 44.7,4.5 45.2,4.5 45.7,4.5 46.2,4.5 46.7,4.5 47.2,4.5 47.7,4.5 48.2,4.5 48.7,4.5 49.2,4.5 49.7,4.5 50.2,4.5 50.7,4.5 51.2,4.5 51.7,4.5 52.2,4.5 52.7,4.5 53.2,4.5 53.7,4.5 54.2,4.5 54.7,4.5 55.2,4.5 55.7,4.5 56.2,4.5 56.7,4.5 57.2,4.5 57.7,4.5 58.2,4.5 58.7,4.5 59.2,4.5 59.7,4.5 60.2,4.5 60.7,4.5 61.2,4.5 61.7,4.5 62.2,4.5 62.7,4.5 63.2,4.5 63.7,4.5 64.2,4.5 64.7,4.5 65.2,4.5 65.7,4.5 66.2,4.5 66.7,4.5 67.2,4.5 67.7,4.5 68.2,4.5 68.7,4.5 69.2,4.5 69.7,4.5 70.2,4.5 70.7,4.5 71.2,4.5 71.7,4.5 72.2,4.5 72.7,4.5 73.2,4.5 73.7,4.5 74.2,4.5 74.7,4.5 75.2,4.5 75.7,4.5 76.2,4.5 76.7,4.5 77.2,4.5 77.7,4.5 78.2,4.5 78.7,4.5 79.2,4.5 79.7,4.5 80.2,4.5 80.7,4.5 81.2,4.5 81.7,4.5 82.2,4.5 82.7,4.5 83.2,4.5 83.7,4.5 84.2,4.5 84.7,4.5 85.2,4.5 85.7,4.5 86.2,4.5 86.7,4.5 87.2,4.5 87.7,4.5 88.2,4.5 88.7,4.5 89.2,4.5 89.7,4.5 90.2,4.5 90.7,4.5 91.2,4.5 91.7,4.5 92.2,4.5 92.7,4.5 93.2,4.5 93.7,4.5 94.2,4.5 94.7,4.5 95.2,4.5 95.7,4.5 96.2,4.5 96.7,4.5 97.2,4.5 97.7,4.5 98.2,4.5 98.7,4.5 99.2,4.5 99.7,4.5 100.2,4.5 100.7,4.5 101.2,4.5 101.7,4.5 102.2,4.5 102.7,4.5 103.2,4.5 103.7,4.5 104.2,4.5 104.7,4.5 105.2,4.5 105.7,4.5 106.2,4.5 106.7,4.5 107.2,4.5 107.7,4.5 108.2,4.5 108.7,4.5 109.2,4.5 109.7,4.5 110.2,4.5 110.7,4.5 111.2,4.5 111.7,4.5 112.2,4.5 112.7,4.5 113.2,4.5 113.7,4.5 114.2,4.5 114.7,4.5 115.2,4.5 115.7,4.5 116.2,4.5 116.7,4.5 117.2,4.5 117.7,4.5 118.2,4.5 118.7,4.5 119.2,4.5 119.7,4.5 120.2,4.5 120.7,4.5 121.2,4.5 121.7,4.5 122.2,4.5 122.7,4.5 123.2,4.5 123.7,4.5 124.2,4.5 124.7,4.5 125.2,4.5 125.7,4.5 126.2,4.5 126.7,4.5 127.2,4.5 127.7,4.5 128.2,4.5 128.7,4.5 129.2,4.5 129.7,4.5 130.2,4.5 130.7,4.5 131.2,4.5 131.7,4.5 132.2,4.5 132.7,4.5 133.2,4.5 133.7,4.5 134.2,4.5 134.7,4.5 135.2,4.5 135.7,4.5 136.2,4.5 136.7,4.5 137.2,4.5 137.7,4.5 138.2,4.5 138.7,4.5 139.2,4.5 139.7,4.5 140.2,4.5 140.7,4.5 141.2,4.5 141.7,4.5 142.2,4.5 142.7,4.5 143.2,4.5 143.7,4.5 144.2,4.5 144.7,4.5 145.2,4.5 145.7,4.5 146.2,4.5 146.7,4.5 147.2,4.5 147.7,4.5 148.2,4.5 148.7,4.5 149.2,4.5 149.7,4.5 150.2,4.5 150.7,4.5 151.2,4.5 151.7,4.5 152.2,4.5 152.7,4.5 153.2,4.5 153.7,4.5 154.2,4.5 154.7,4.5 155.2,4.5 155.7,4.5 156.2,4.5 156.7,4.5 157.2,4.5 157.7,4.5 158.2,4.5 158.7,4.5 159.2,4.5 159.7,4.5 160.2,4.5 160.7,4.5 161.2,4.5 161.7,4.5 162.2,4.5 162.7,4.5 163.2,4.5 163.7,4.5 164.2,4.5 164.7,4.5 165.2,4.5 165.7,4.5 166.2,4.5 166.7,4.5 167.2,4.5 167.7,4.5 168.2,4.5 168.7,4.5 169.2,4.5 169.7,4.5 170.2,4.5 170.7,4.5 171.2,4.5 171.7,4.5 172.2,4.5 172.7,4.5 173.2,4.5 173.7,4.5 174.2,4.5 174.7,4.5 175.2,4.5 175.7,4.5 176.2,4.5 176.7,4.5 177.2,4.5 177.7,4.5 178.2,4.5 178.7,4.5 179.2,4.5 179.7,4.5 180.2,4.5 180.7,4.5 181.2,4.5 181.7,4.5 182.2,4.5 182.7,4.5 183.2,4.5 183.7,4.5 184.2,4.5 184.7,4.5 185.2,4.5 185.7,4.5 186.2,4.5 186.7,4.5 187.2,4.5 187.7,4.5 188.2,4.5 188.7,4.5 189.2,4.5 189.7,4.5 190.2,4.5 190.7,4.5 191.2,4.5 191.7,4.5 192.2,4.5 192.7,4.5 193.2,4.5 193.7,4.5 194.2,4.5 194.7,4.5 195.2,4.5 195.7,4.5 196.2,4.5 196.7,4.5 197.2,4.5 197.7,4.5 198.2,4.5 198.7,4.5 199.2,4.5 199.7,4.5 200.2,4.5 200.7,4.5 201.2,4.5 201.7,4.5 202.2,4.5 202.7,4.5 203.2,4.5 203.2,8 204.9,217.5 205,218.5 205.1,219.6 205.2,220.6 205.3,221.6 205.4,222.1 205.5,222.7 205.6,223.2 205.7,223.7 205.8,224.2 205.9,224.8 206,225.3 206.5,225.3 207,225.3 207.4,225.3 207.9,225.3 208.4,225.4 208.9,225.4 209.4,225.4 209.9,225.4 210.3,225.4 210.8,225.4 211.3,225.4 211.8,225.4 212.3,225.4 212.8,225.4 213.2,225.5 213.7,225.5 214.2,225.5 214.7,225.5 215.2,225.5 215.7,225.5 216.1,225.5 216.6,225.5 217.1,225.5 217.6,225.5 218.1,225.6 218.6,225.6 219,225.6 219.5,225.6 220,225.6 220.2,225.9 220.5,226.2 220.8,226.6 221,226.9 221.5,226.9 222,226.9 222.5,226.9 223,226.9 223.5,226.9 224,226.9 224.5,226.9 225,226.9 225.5,226.9 226,226.9 226.5,226.9 227,226.9 227.5,226.9 228,226.9 228.5,226.9 229,226.9 229.5,226.9 230,226.9 230.5,226.9 231,226.9 231.5,226.9 232,226.9 232.5,226.9 233,226.9 233.5,226.9 234,226.9 234.5,226.9 235,226.9 235.5,226.9 236,226.9 236.5,226.9 237,226.9 237.5,226.9 238,226.9 238.5,226.9 239,226.9 239.5,226.9 240,226.9 240.5,226.9 241,226.9 241.5,226.9 242,226.9 242.5,226.9 243,226.9 243.5,226.9 244,226.9 244.5,226.9 245,226.9 245.5,226.9 246,226.9 246.5,226.9 247,226.9 247.5,226.9 248,226.9 248.5,226.9 249,226.9 249.5,226.9 250,226.9 250.5,226.9 251,226.9 251.5,226.9 252,226.9 252.5,226.9 253,226.9 253.5,226.9 254,226.9 254.5,226.9 255,226.9 255.5,226.9 256,226.9 256.5,226.9 257,226.9 257.5,226.9 258,226.9 258.5,226.9 259,226.9 259.5,226.9 260,226.9 260.5,226.9 261,226.9 261.5,226.9 262,226.9 262.5,226.9 263,226.9 263.5,226.9 264,226.9 264.5,226.9 265,226.9 265.5,226.9 266,226.9 266.5,226.9 267,226.9 267.5,226.9 268,226.9 268.5,226.9 269,226.9 269.5,226.9 270,226.9 270.5,226.9 271,226.9 271.5,226.9 272,226.9 272.5,226.9 273,226.9 273.5,226.9 274,226.9 274.5,226.9 275,226.9 275.5,226.9 276,226.9 276.2,227.2 276.5,227.5 276.8,227.8 277,228.1 277.5,228.1 278,228.1 278.5,228.1 279,228.1 279.5,228.1 280,228.1 280.5,228.1 281,228.1 281.5,228.1 282,228.1 282.5,228.1 283,228.1 283.5,228.1 284,228.1 284.5,228.1 285,228.1 285.5,228.1 286,228.1 286.5,228.1 287,228.1 287.5,228.1 288,228.1 288.5,228.1 289,228.1 289.5,228.1 290,228.1 290.5,228.1 291,228.1 291.5,228.1 292,228.1" fill="none" stroke="none" marker-start="url(#d4)" marker-mid="url(#d4)" marker-end="url(#d4)"/><polyline points="203.2,11.9 203.2,15.8 203.3,19.8 203.3,23.7 203.3,27.6 203.3,31.5 203.4,35.4 203.4,39.3 203.4,43.2 203.4,47.2 203.5,51.1 203.5,55 203.8,63.5 203.9,72.7 204,82.7 204,94.6 204.1,106.7 204.2,113.7 204.3,124.8 204.3,142.1 204.4,163.1 204.5,173.3 204.6,184.2 204.6,198.3 204.7,208.8 204.8,216.5" fill="none" stroke="none" marker-start="url(#s4)" marker-mid="url(#s4)" marker-end="url(#s4)"/><polyline points="30.2,4.5 159.7,4.5 160,8 160.2,12 160.2,14.4 160.3,20.2 160.3,24.6 160.4,28.8 160.4,35.6 160.5,44.2 160.6,51.5 160.6,61.5 160.7,75 160.8,87.5 160.8,107.3 160.9,123.7 160.9,146 161,173.3 161.1,191.9 161.1,204.4 161.2,214.6 161.5,218.5 162.5,222.5 165.5,224.2 175,225.4 185,227.4 201,228" fill="none" stroke="#0000ff" stroke-width="1.0"/><polyline points="30.2,4.5 30.7,4.5 31.2,4.5 31.7,4.5 32.2,4.5 32.7,4.5 33.2,4.5 33.7,4.5 34.2,4.5 34.7,4.5 35.2,4.5 35.7,4.5 36.2,4.5 36.7,4.5 37.2,4.5 37.7,4.5 38.2,4.5 38.7,4.5 39.2,4.5 39.7,4.5 40.2,4.5 40.7,4.5 41.2,4.5 41.7,4.5 42.2,4.5 42.7,4.5 43.2,4.5 43.7,4.5 44.2,4.5 44.7,4.5 45.2,4.5 45.7,4.5 46.2,4.5 46.7,4.5 47.2,4.5 47.7,4.5 48.2,4.5 48.7,4.5 49.2,4.5 49.7,4.5 50.2,4.5 50.7,4.5 51.2,4.5 51.7,4.5 52.2,4.5 52.7,4.5 53.2,4.5 53.7,4.5 54.2,4.5 54.7,4.5 55.2,4.5 55.7,4.5 56.2,4.5 56.7,4.5 57.2,4.5 57.7,4.5 58.2,4.5 58.7,4.5 59.2,4.5 59.7,4.5 60.2,4.5 60.7,4.5 61.2,4.5 61.7,4.5 62.2,4.5 62.7,4.5 63.2,4.5 63.7,4.5 64.2,4.5 64.7,4.5 65.2,4.5 65.7,4.5 66.2,4.5 66.7,4.5 67.2,4.5 67.7,4.5 68.2,4.5 68.7,4.5 69.2,4.5 69.7,4.5 70.2,4.5 70.7,4.5 71.2,4.5 71.7,4.5 72.2,4.5 72.7,4.5 73.2,4.5 73.7,4.5 74.2,4.5 74.7,4.5 75.2,4.5 75.7,4.5 76.2,4.5 76.7,4.5 77.2,4.5 77.7,4.5 78.2,4.5 78.7,4.5 79.2,4.5 79.7,4.5 80.2,4.5 80.7,4.5 81.2,4.5 81.7,4.5 82.2,4.5 82.7,4.5 83.2,4.5 83.7,4.5 84.2,4.5 84.7,4.5 85.2,4.5 85.7,4.5 86.2,4.5 86.7,4.5 87.2,4.5 87.7,4.5 88.2,4.5 88.7,4.5 89.2,4.5 89.7,4.5 90.2,4.5 90.7,4.5 91.2,4.5 91.7,4.5 92.2,4.5 92.7,4.5 93.2,4.5 93.7,4.5 94.2,4.5 94.7,4.5 95.2,4.5 95.7,4.5 96.2,4.5 96.7,4.5 97.2,4.5 97.7,4.5 98.2,4.5 98.7,4.5 99.2,4.5 99.7,4.5 100.2,4.5 100.7,4.5 101.2,4.5 101.7,4.5 102.2,4.5 102.7,4.5 103.2,4.5 103.7,4.5 104.2,4.5 104.7,4.5 105.2,4.5 105.7,4.5 106.2,4.5 106.7,4.5 107.2,4.5 107.7,4.5 108.2,4.5 108.7,4.5 109.2,4.5 109.7,4.5 110.2,4.5 110.7,4.5 111.2,4.5 111.7,4.5 112.2,4.5 112.7,4.5 113.2,4.5 113.7,4.5 114.2,4.5 114.7,4.5 115.2,4.5 115.7,4.5 116.2,4.5 116.7,4.5 117.2,4.5 117.7,4.5 118.2,4.5 118.7,4.5 119.2,4.5 119.7,4.5 120.2,4.5 120.7,4.5 121.2,4.5 121.7,4.5 122.2,4.5 122.7,4.5 123.2,4.5 123.7,4.5 124.2,4.5 124.7,4.5 125.2,4.5 125.7,4.5 126.2,4.5 126.7,4.5 127.2,4.5 127.7,4.5 128.2,4.5 128.7,4.5 129.2,4.5 129.7,4.5 130.2,4.5 130.7,4.5 131.2,4.5 131.7,4.5 132.2,4.5 132.7,4.5 133.2,4.5 133.7,4.5 134.2,4.5 134.7,4.5 135.2,4.5 135.7,4.5 136.2,4.5 136.7,4.5 137.2,4.5 137.7,4.5 138.2,4.5 138.7,4.5 139.2,4.5 139.7,4.5 140.2,4.5 140.7,4.5 141.2,4.5 141.7,4.5 142.2,4.5 142.7,4.5 143.2,4.5 143.7,4.5 144.2,4.5 144.7,4.5 145.2,4.5 145.7,4.5 146.2,4.5 146.7,4.5 147.2,4.5 147.7,4.5 148.2,4.5 148.7,4.5 149.2,4.5 149.7,4.5 150.2,4.5 150.7,4.5 151.2,4.5 151.7,4.5 152.2,4.5 152.7,4.5 153.2,4.5 153.7,4.5 154.2,4.5 154.7,4.5 155.2,4.5 155.7,4.5 156.2,4.5 156.7,4.5 157.2,4.5 157.7,4.5 158.2,4.5 158.7,4.5 159.2,4.5 159.7,4.5 159.9,6.7 160,8 161.4,217 161.5,218.5 161.6,218.9 161.7,219.4 161.8,219.8 161.9,220.3 162.1,220.7 162.2,221.2 162.3,221.6 162.4,222.1 162.5,222.5 162.9,222.7 163.4,223 163.8,223.2 164.2,223.5 164.6,223.7 165.1,224 165.5,224.2 166,224.3 166.4,224.3 166.9,224.4 167.4,224.4 167.9,224.5 168.3,224.6 168.8,224.6 169.3,224.7 169.8,224.7 170.2,224.8 170.7,224.9 171.2,224.9 171.7,225 172.2,225 172.6,225.1 173.1,225.2 173.6,225.2 174.1,225.3 174.5,225.3 175,225.4 175.5,225.5 176,225.6 176.4,225.7 176.9,225.8 177.4,225.9 177.9,226 178.3,226.1 178.8,226.2 179.3,226.3 179.8,226.4 180.2,226.4 180.7,226.5 181.2,226.6 181.7,226.7 182.1,226.8 182.6,226.9 183.1,227 183.6,227.1 184,227.2 184.5,227.3 185,227.4 185.5,227.4 186,227.4 186.5,227.5 186.9,227.5 187.4,227.5 187.9,227.5 188.4,227.5 188.9,227.5 189.4,227.6 189.8,227.6 190.3,227.6 190.8,227.6 191.3,227.6 191.8,227.7 192.3,227.7 192.8,227.7 193.2,227.7 193.7,227.7 194.2,227.7 194.7,227.8 195.2,227.8 195.7,227.8 196.2,227.8 196.6,227.8 197.1,227.9 197.6,227.9 198.1,227.9 198.6,227.9 199.1,227.9 199.5,227.9 200,228 200.5,228 201,228" fill="none" stroke="none" marker-start="url(#d5)" marker-mid="url(#d5)" marker-end="url(#d5)"/><polyline points="160.1,10 160.2,12 160.2,14.4 160.3,20.2 160.3,24.6 160.4,28.8 160.4,35.6 160.5,44.2 160.6,51.5 160.6,61.5 160.7,75 160.8,87.5 160.8,107.3 160.9,123.7 160.9,146 161,173.3 161.1,191.9 161.1,204.4 161.2,214.6" fill="none" stroke="none" marker-start="url(#s5)" marker-mid="url(#s5)" marker-end="url(#s5)"/><text x="30.2" y="240.5" text-anchor="middle">0</text><text x="86.8" y="240.5" text-anchor="middle">500</text><text x="143.5" y="240.5" text-anchor="middle">1000</text><text x="200.1" y="240.5" text-anchor="middle">1500</text><text x="256.7" y="240.5" text-anchor="middle">2000</text><text x="313.3" y="240.5" text-anchor="middle">2500</text><text x="26.3" y="231.7" text-anchor="end">0</text><text x="26.3" y="206.8" text-anchor="end">20</text><text x="26.3" y="182" text-anchor="end">40</text><text x="26.3" y="157.1" text-anchor="end">60</text><text x="26.3" y="132.2" text-anchor="end">80</text><text x="26.3" y="107.4" text-anchor="end">100</text><text x="26.3" y="82.5" text-anchor="end">120</text><text x="26.3" y="57.6" text-anchor="end">140</text><text x="26.3" y="32.8" text-anchor="end">160</text><text x="26.3" y="7.9" text-anchor="end">180</text><text x="171.8" y="253.3" text-anchor="middle" font-size="9.4">Rounds</text><text transform="translate(6.9,116.2) rotate(-90) scale(1.04,1)" text-anchor="middle" font-size="9.4">The Number of Alive Nodes</text><rect x="240.5" y="11.5" width="66" height="66" fill="#fff" stroke="#666" stroke-width="1"/><path d="M242.3 17.6H268.6" stroke="#ef6b5e" stroke-width="1.0"/><path d="M255.5 14l2.6 3.6l-2.6 3.6l-2.6 -3.6Z" fill="none" stroke="#ef6b5e" stroke-width="1.0"/><text x="270.8" y="20.5" font-size="8">CMSTR</text><path d="M242.3 28.4H268.6" stroke="#c8669f" stroke-width="1.0"/><path d="M255.5 24.8l2.6 3.6l-2.6 3.6l-2.6 -3.6Z" fill="none" stroke="#c8669f" stroke-width="1.0"/><text x="270.8" y="31.3" font-size="8">D2CRP</text><path d="M242.3 39.2H268.6" stroke="#4aae44" stroke-width="1.0"/><path d="M255.5 35.6l2.6 3.6l-2.6 3.6l-2.6 -3.6Z" fill="none" stroke="#4aae44" stroke-width="1.0"/><text x="270.8" y="42.1" font-size="8">EEHCHR</text><path d="M242.3 49.9H268.6" stroke="#8a86c2" stroke-width="1.0"/><path d="M255.5 46.3l2.6 3.6l-2.6 3.6l-2.6 -3.6Z" fill="none" stroke="#8a86c2" stroke-width="1.0"/><text x="270.8" y="52.8" font-size="8">ESCVAD</text><path d="M242.3 60.7H268.6" stroke="#38b493" stroke-width="1.0"/><path d="M255.5 57.1l2.6 3.6l-2.6 3.6l-2.6 -3.6Z" fill="none" stroke="#38b493" stroke-width="1.0"/><text x="270.8" y="63.6" font-size="8">GAAFSA</text><path d="M242.3 71.5H268.6" stroke="#0000ff" stroke-width="1.0"/><path d="M255.5 67.9l2.6 3.6l-2.6 3.6l-2.6 -3.6Z" fill="none" stroke="#0000ff" stroke-width="1.0"/><text x="270.8" y="74.4" font-size="8">BAFSA</text><text x="93.2" y="279.1" font-family="&quot;Liberation Serif&quot;, serif" font-size="13.5" fill="#111">(a)</text><text x="114.2" y="279.1" font-family="&quot;Liberation Serif&quot;, serif" font-size="13.5" fill="#111">Experiment Scenario 1</text></g>
<g font-family="&quot;Liberation Sans&quot;, sans-serif" font-size="8.6" fill="#262626"><path d="M390.5 3.9H673.5V228.5H390.5Z" fill="none" stroke="#666" stroke-width="1"/><path d="M390.8 228.5v-2.6M390.8 3.9v2.6M449.7 228.5v-2.6M449.7 3.9v2.6M508.6 228.5v-2.6M508.6 3.9v2.6M567.5 228.5v-2.6M567.5 3.9v2.6M626.4 228.5v-2.6M626.4 3.9v2.6M390.5 228.1h2.6M673.5 228.1h-2.6M390.5 205.7h2.6M673.5 205.7h-2.6M390.5 183.3h2.6M673.5 183.3h-2.6M390.5 160.9h2.6M673.5 160.9h-2.6M390.5 138.5h2.6M673.5 138.5h-2.6M390.5 116h2.6M673.5 116h-2.6M390.5 93.6h2.6M673.5 93.6h-2.6M390.5 71.2h2.6M673.5 71.2h-2.6M390.5 48.8h2.6M673.5 48.8h-2.6M390.5 26.4h2.6M673.5 26.4h-2.6M390.5 4h2.6M673.5 4h-2.6" stroke="#444" stroke-width="1" fill="none"/><polyline points="390.8,4.3 540.2,4.3 540.2,8 540.4,20.2 540.5,23.9 540.6,32.2 540.7,42.3 540.8,51.1 540.9,62.5 541,76.8 541.1,93.8 541.3,116.2 541.4,137.7 541.5,155.1 541.6,176.8 541.7,191.4 541.8,203.9 541.9,208.5 542,213 542.5,217 545,224 560,226.5 585,228.1" fill="none" stroke="#ef6b5e" stroke-width="1.0"/><polyline points="390.8,4.3 391.3,4.3 391.8,4.3 392.3,4.3 392.8,4.3 393.3,4.3 393.8,4.3 394.3,4.3 394.8,4.3 395.3,4.3 395.8,4.3 396.3,4.3 396.8,4.3 397.3,4.3 397.8,4.3 398.3,4.3 398.8,4.3 399.3,4.3 399.8,4.3 400.3,4.3 400.8,4.3 401.3,4.3 401.8,4.3 402.3,4.3 402.8,4.3 403.3,4.3 403.8,4.3 404.3,4.3 404.8,4.3 405.3,4.3 405.8,4.3 406.3,4.3 406.8,4.3 407.3,4.3 407.8,4.3 408.3,4.3 408.8,4.3 409.3,4.3 409.8,4.3 410.3,4.3 410.8,4.3 411.3,4.3 411.8,4.3 412.3,4.3 412.8,4.3 413.3,4.3 413.8,4.3 414.3,4.3 414.8,4.3 415.3,4.3 415.8,4.3 416.3,4.3 416.8,4.3 417.3,4.3 417.8,4.3 418.3,4.3 418.8,4.3 419.3,4.3 419.8,4.3 420.3,4.3 420.8,4.3 421.3,4.3 421.8,4.3 422.3,4.3 422.8,4.3 423.3,4.3 423.8,4.3 424.3,4.3 424.8,4.3 425.3,4.3 425.8,4.3 426.3,4.3 426.8,4.3 427.3,4.3 427.8,4.3 428.3,4.3 428.8,4.3 429.3,4.3 429.8,4.3 430.3,4.3 430.8,4.3 431.3,4.3 431.8,4.3 432.3,4.3 432.8,4.3 433.3,4.3 433.8,4.3 434.3,4.3 434.8,4.3 435.3,4.3 435.8,4.3 436.3,4.3 436.8,4.3 437.3,4.3 437.8,4.3 438.3,4.3 438.8,4.3 439.3,4.3 439.8,4.3 440.3,4.3 440.8,4.3 441.3,4.3 441.8,4.3 442.3,4.3 442.8,4.3 443.3,4.3 443.8,4.3 444.3,4.3 444.8,4.3 445.3,4.3 445.8,4.3 446.3,4.3 446.8,4.3 447.3,4.3 447.8,4.3 448.3,4.3 448.8,4.3 449.3,4.3 449.8,4.3 450.3,4.3 450.8,4.3 451.3,4.3 451.8,4.3 452.3,4.3 452.8,4.3 453.3,4.3 453.8,4.3 454.3,4.3 454.8,4.3 455.3,4.3 455.8,4.3 456.3,4.3 456.8,4.3 457.3,4.3 457.8,4.3 458.3,4.3 458.8,4.3 459.3,4.3 459.8,4.3 460.3,4.3 460.8,4.3 461.3,4.3 461.8,4.3 462.3,4.3 462.8,4.3 463.3,4.3 463.8,4.3 464.3,4.3 464.8,4.3 465.3,4.3 465.7,4.3 466.2,4.3 466.7,4.3 467.2,4.3 467.7,4.3 468.2,4.3 468.7,4.3 469.2,4.3 469.7,4.3 470.2,4.3 470.7,4.3 471.2,4.3 471.7,4.3 472.2,4.3 472.7,4.3 473.2,4.3 473.7,4.3 474.2,4.3 474.7,4.3 475.2,4.3 475.7,4.3 476.2,4.3 476.7,4.3 477.2,4.3 477.7,4.3 478.2,4.3 478.7,4.3 479.2,4.3 479.7,4.3 480.2,4.3 480.7,4.3 481.2,4.3 481.7,4.3 482.2,4.3 482.7,4.3 483.2,4.3 483.7,4.3 484.2,4.3 484.7,4.3 485.2,4.3 485.7,4.3 486.2,4.3 486.7,4.3 487.2,4.3 487.7,4.3 488.2,4.3 488.7,4.3 489.2,4.3 489.7,4.3 490.2,4.3 490.7,4.3 491.2,4.3 491.7,4.3 492.2,4.3 492.7,4.3 493.2,4.3 493.7,4.3 494.2,4.3 494.7,4.3 495.2,4.3 495.7,4.3 496.2,4.3 496.7,4.3 497.2,4.3 497.7,4.3 498.2,4.3 498.7,4.3 499.2,4.3 499.7,4.3 500.2,4.3 500.7,4.3 501.2,4.3 501.7,4.3 502.2,4.3 502.7,4.3 503.2,4.3 503.7,4.3 504.2,4.3 504.7,4.3 505.2,4.3 505.7,4.3 506.2,4.3 506.7,4.3 507.2,4.3 507.7,4.3 508.2,4.3 508.7,4.3 509.2,4.3 509.7,4.3 510.2,4.3 510.7,4.3 511.2,4.3 511.7,4.3 512.2,4.3 512.7,4.3 513.2,4.3 513.7,4.3 514.2,4.3 514.7,4.3 515.2,4.3 515.7,4.3 516.2,4.3 516.7,4.3 517.2,4.3 517.7,4.3 518.2,4.3 518.7,4.3 519.2,4.3 519.7,4.3 520.2,4.3 520.7,4.3 521.2,4.3 521.7,4.3 522.2,4.3 522.7,4.3 523.2,4.3 523.7,4.3 524.2,4.3 524.7,4.3 525.2,4.3 525.7,4.3 526.2,4.3 526.7,4.3 527.2,4.3 527.7,4.3 528.2,4.3 528.7,4.3 529.2,4.3 529.7,4.3 530.2,4.3 530.7,4.3 531.2,4.3 531.7,4.3 532.2,4.3 532.7,4.3 533.2,4.3 533.7,4.3 534.2,4.3 534.7,4.3 535.2,4.3 535.7,4.3 536.2,4.3 536.7,4.3 537.2,4.3 537.7,4.3 538.2,4.3 538.7,4.3 539.2,4.3 539.7,4.3 540.2,4.3 540.2,6 540.2,8 542,210.8 542,211.7 542,212.5 542,213 542.1,213.8 542.2,214.6 542.3,215.4 542.4,216.2 542.5,217 542.7,217.5 542.8,217.9 543,218.4 543.2,218.9 543.3,219.3 543.5,219.8 543.7,220.3 543.8,220.7 544,221.2 544.2,221.7 544.3,222.1 544.5,222.6 544.7,223.1 544.8,223.5 545,224 545.5,224.1 546,224.2 546.5,224.2 546.9,224.3 547.4,224.4 547.9,224.5 548.4,224.6 548.9,224.6 549.4,224.7 549.8,224.8 550.3,224.9 550.8,225 551.3,225 551.8,225.1 552.3,225.2 552.7,225.3 553.2,225.4 553.7,225.5 554.2,225.5 554.7,225.6 555.2,225.7 555.6,225.8 556.1,225.9 556.6,225.9 557.1,226 557.6,226.1 558.1,226.2 558.5,226.3 559,226.3 559.5,226.4 560,226.5 560.5,226.5 561,226.6 561.5,226.6 562,226.6 562.5,226.7 562.9,226.7 563.4,226.7 563.9,226.8 564.4,226.8 564.9,226.8 565.4,226.8 565.9,226.9 566.4,226.9 566.9,226.9 567.4,227 567.8,227 568.3,227 568.8,227.1 569.3,227.1 569.8,227.1 570.3,227.2 570.8,227.2 571.3,227.2 571.8,227.3 572.3,227.3 572.7,227.3 573.2,227.3 573.7,227.4 574.2,227.4 574.7,227.4 575.2,227.5 575.7,227.5 576.2,227.5 576.7,227.6 577.2,227.6 577.6,227.6 578.1,227.7 578.6,227.7 579.1,227.7 579.6,227.8 580.1,227.8 580.6,227.8 581.1,227.8 581.6,227.9 582.1,227.9 582.5,227.9 583,228 583.5,228 584,228 584.5,228.1 585,228.1" fill="none" stroke="none" marker-start="url(#d0)" marker-mid="url(#d0)" marker-end="url(#d0)"/><polyline points="540.2,10 540.3,12.1 540.3,14.1 540.3,16.1 540.4,18.2 540.4,20.2 540.5,23.9 540.6,32.2 540.7,42.3 540.8,51.1 540.9,62.5 541,76.8 541.1,93.8 541.3,116.2 541.4,137.7 541.5,155.1 541.6,176.8 541.7,191.4 541.8,203.9 541.9,208.5" fill="none" stroke="none" marker-start="url(#s0)" marker-mid="url(#s0)" marker-end="url(#s0)"/><polyline points="390.8,4.3 461,4.3 464,6 466.7,8.8 470.4,17.5 471.8,29.2 473.3,40.9 474,51.1 474.3,59.1 474.9,70.1 476.1,85.1 476.9,100.2 477.6,115.2 478,130.3 478.9,142.3 479.3,155.1 480.3,170.1 481.1,185.2 482.3,200.2 483.3,212.3 484.5,219 487,224 491,227.3 496,228.3 511.5,228.3" fill="none" stroke="#c8669f" stroke-width="1.0"/><polyline points="390.8,4.3 391.3,4.3 391.8,4.3 392.3,4.3 392.8,4.3 393.3,4.3 393.8,4.3 394.3,4.3 394.8,4.3 395.3,4.3 395.8,4.3 396.3,4.3 396.8,4.3 397.3,4.3 397.8,4.3 398.3,4.3 398.8,4.3 399.3,4.3 399.8,4.3 400.3,4.3 400.8,4.3 401.3,4.3 401.8,4.3 402.3,4.3 402.7,4.3 403.2,4.3 403.7,4.3 404.2,4.3 404.7,4.3 405.2,4.3 405.7,4.3 406.2,4.3 406.7,4.3 407.2,4.3 407.7,4.3 408.2,4.3 408.7,4.3 409.2,4.3 409.7,4.3 410.2,4.3 410.7,4.3 411.2,4.3 411.7,4.3 412.2,4.3 412.7,4.3 413.2,4.3 413.7,4.3 414.2,4.3 414.7,4.3 415.2,4.3 415.7,4.3 416.2,4.3 416.7,4.3 417.2,4.3 417.7,4.3 418.2,4.3 418.7,4.3 419.2,4.3 419.7,4.3 420.2,4.3 420.7,4.3 421.2,4.3 421.7,4.3 422.2,4.3 422.7,4.3 423.2,4.3 423.7,4.3 424.2,4.3 424.7,4.3 425.2,4.3 425.7,4.3 426.1,4.3 426.6,4.3 427.1,4.3 427.6,4.3 428.1,4.3 428.6,4.3 429.1,4.3 429.6,4.3 430.1,4.3 430.6,4.3 431.1,4.3 431.6,4.3 432.1,4.3 432.6,4.3 433.1,4.3 433.6,4.3 434.1,4.3 434.6,4.3 435.1,4.3 435.6,4.3 436.1,4.3 436.6,4.3 437.1,4.3 437.6,4.3 438.1,4.3 438.6,4.3 439.1,4.3 439.6,4.3 440.1,4.3 440.6,4.3 441.1,4.3 441.6,4.3 442.1,4.3 442.6,4.3 443.1,4.3 443.6,4.3 444.1,4.3 444.6,4.3 445.1,4.3 445.6,4.3 446.1,4.3 446.6,4.3 447.1,4.3 447.6,4.3 448.1,4.3 448.6,4.3 449.1,4.3 449.5,4.3 450,4.3 450.5,4.3 451,4.3 451.5,4.3 452,4.3 452.5,4.3 453,4.3 453.5,4.3 454,4.3 454.5,4.3 455,4.3 455.5,4.3 456,4.3 456.5,4.3 457,4.3 457.5,4.3 458,4.3 458.5,4.3 459,4.3 459.5,4.3 460,4.3 460.5,4.3 461,4.3 461.4,4.5 461.9,4.8 462.3,5 462.7,5.3 463.1,5.5 463.6,5.8 464,6 464.3,6.3 464.7,6.7 465,7.1 465.4,7.4 465.7,7.8 466,8.1 466.4,8.5 466.7,8.8 466.9,9.3 467.1,9.7 467.3,10.2 467.5,10.6 467.7,11.1 467.9,11.5 468.1,12 468.3,12.5 468.5,12.9 468.6,13.4 468.8,13.8 469,14.3 469.2,14.8 469.4,15.2 469.6,15.7 469.8,16.1 470,16.6 470.2,17 470.4,17.5 470.5,18.5 470.6,19.4 470.8,20.4 470.9,21.4 471,22.4 471.1,23.4 471.2,24.3 471.3,25.3 471.4,26.3 471.6,27.2 471.7,28.2 471.8,29.2 471.9,30.1 472,31 472.1,31.9 472.3,32.8 472.4,33.7 472.5,34.6 472.6,35.5 472.7,36.4 472.8,37.3 473,38.2 473.1,39.1 473.2,40 473.3,40.9 473.4,42.1 473.5,44.5 473.8,47.6 473.9,49.3 474,51.1 474.2,56.4 474.3,59.1 474.4,60.9 474.5,62.3 474.5,63.6 474.6,64.9 474.7,66.1 474.8,68.9 474.9,70.1 475.1,72.5 475.2,74 475.4,76 475.6,78.3 475.6,78.9 475.8,80.9 476,83.4 476.1,85.1 476.3,88.4 476.4,90.7 476.5,91.9 476.6,95.4 476.7,97.2 476.9,100.2 477.1,104.9 477.2,107.2 477.3,109.5 477.5,114 477.6,115.2 477.6,116.7 477.7,118 477.7,119.4 477.8,124.2 478,128.7 478,130 478,130.3 478.2,133.2 478.4,135.3 478.5,136.6 478.6,138.4 478.7,139.2 478.7,139.6 478.9,142.3 479,146 479.1,149.1 479.3,154.1 479.3,155.1 479.5,158.1 479.7,160.9 479.8,162 479.8,163.2 479.9,164.5 480,165.6 480.1,167.8 480.2,169 480.3,170.1 480.4,171.1 480.6,175 480.7,176.9 480.8,179.1 480.9,181.8 481.1,185.2 481.2,186.6 481.4,189.2 481.5,190.8 481.7,192.4 481.8,194.1 481.8,194.5 482,195.9 482,196.7 482.1,197.1 482.2,199.4 482.3,200.2 482.4,201.7 482.6,203.7 482.7,205.4 482.8,206.5 483,208.1 483.1,209.8 483.3,212 483.3,212.3 483.4,212.9 483.5,213.5 483.6,214.1 483.7,214.7 483.8,215.3 484,216 484.1,216.6 484.2,217.2 484.3,217.8 484.4,218.4 484.5,219 484.7,219.4 484.9,219.8 485.1,220.2 485.3,220.7 485.5,221.1 485.8,221.5 486,221.9 486.2,222.3 486.4,222.8 486.6,223.2 486.8,223.6 487,224 487.4,224.3 487.7,224.6 488.1,224.9 488.5,225.2 488.8,225.5 489.2,225.8 489.5,226.1 489.9,226.4 490.3,226.7 490.6,227 491,227.3 491.5,227.4 491.9,227.5 492.4,227.6 492.8,227.7 493.3,227.8 493.7,227.8 494.2,227.9 494.6,228 495.1,228.1 495.5,228.2 496,228.3 496.5,228.3 497,228.3 497.5,228.3 498,228.3 498.5,228.3 499,228.3 499.5,228.3 500,228.3 500.5,228.3 501,228.3 501.5,228.3 502,228.3 502.5,228.3 503,228.3 503.5,228.3 504,228.3 504.5,228.3 505,228.3 505.5,228.3 506,228.3 506.5,228.3 507,228.3 507.5,228.3 508,228.3 508.5,228.3 509,228.3 509.5,228.3 510,228.3 510.5,228.3 511,228.3 511.5,228.3" fill="none" stroke="none" marker-start="url(#d1)" marker-mid="url(#d1)" marker-end="url(#d1)"/><polyline points="390.8,4.3 490,4.3 493,6 495.9,8.8 499.6,19 501,32.1 502.5,46.7 503.2,58.4 504,70.1 504.5,85.1 505.1,100.2 506.3,115.2 507,130.3 507.8,143.9 508.5,155.1 509.7,170.1 511.2,185.2 512.4,200.2 513.9,213.8 515.5,220.5 518,225 522,227.8 530,228.4 545,228.4" fill="none" stroke="#4aae44" stroke-width="1.0"/><polyline points="390.8,4.3 391.3,4.3 391.8,4.3 392.3,4.3 392.8,4.3 393.3,4.3 393.8,4.3 394.3,4.3 394.8,4.3 395.3,4.3 395.8,4.3 396.3,4.3 396.8,4.3 397.3,4.3 397.8,4.3 398.3,4.3 398.8,4.3 399.3,4.3 399.8,4.3 400.3,4.3 400.8,4.3 401.3,4.3 401.8,4.3 402.3,4.3 402.8,4.3 403.3,4.3 403.8,4.3 404.3,4.3 404.8,4.3 405.3,4.3 405.8,4.3 406.3,4.3 406.8,4.3 407.3,4.3 407.7,4.3 408.2,4.3 408.7,4.3 409.2,4.3 409.7,4.3 410.2,4.3 410.7,4.3 411.2,4.3 411.7,4.3 412.2,4.3 412.7,4.3 413.2,4.3 413.7,4.3 414.2,4.3 414.7,4.3 415.2,4.3 415.7,4.3 416.2,4.3 416.7,4.3 417.2,4.3 417.7,4.3 418.2,4.3 418.7,4.3 419.2,4.3 419.7,4.3 420.2,4.3 420.7,4.3 421.2,4.3 421.7,4.3 422.2,4.3 422.7,4.3 423.2,4.3 423.7,4.3 424.2,4.3 424.7,4.3 425.2,4.3 425.7,4.3 426.2,4.3 426.7,4.3 427.2,4.3 427.7,4.3 428.2,4.3 428.7,4.3 429.2,4.3 429.7,4.3 430.2,4.3 430.7,4.3 431.2,4.3 431.7,4.3 432.2,4.3 432.7,4.3 433.2,4.3 433.7,4.3 434.2,4.3 434.7,4.3 435.2,4.3 435.7,4.3 436.2,4.3 436.7,4.3 437.2,4.3 437.7,4.3 438.2,4.3 438.7,4.3 439.2,4.3 439.7,4.3 440.2,4.3 440.6,4.3 441.1,4.3 441.6,4.3 442.1,4.3 442.6,4.3 443.1,4.3 443.6,4.3 444.1,4.3 444.6,4.3 445.1,4.3 445.6,4.3 446.1,4.3 446.6,4.3 447.1,4.3 447.6,4.3 448.1,4.3 448.6,4.3 449.1,4.3 449.6,4.3 450.1,4.3 450.6,4.3 451.1,4.3 451.6,4.3 452.1,4.3 452.6,4.3 453.1,4.3 453.6,4.3 454.1,4.3 454.6,4.3 455.1,4.3 455.6,4.3 456.1,4.3 456.6,4.3 457.1,4.3 457.6,4.3 458.1,4.3 458.6,4.3 459.1,4.3 459.6,4.3 460.1,4.3 460.6,4.3 461.1,4.3 461.6,4.3 462.1,4.3 462.6,4.3 463.1,4.3 463.6,4.3 464.1,4.3 464.6,4.3 465.1,4.3 465.6,4.3 466.1,4.3 466.6,4.3 467.1,4.3 467.6,4.3 468.1,4.3 468.6,4.3 469.1,4.3 469.6,4.3 470.1,4.3 470.6,4.3 471.1,4.3 471.6,4.3 472.1,4.3 472.6,4.3 473.1,4.3 473.5,4.3 474,4.3 474.5,4.3 475,4.3 475.5,4.3 476,4.3 476.5,4.3 477,4.3 477.5,4.3 478,4.3 478.5,4.3 479,4.3 479.5,4.3 480,4.3 480.5,4.3 481,4.3 481.5,4.3 482,4.3 482.5,4.3 483,4.3 483.5,4.3 484,4.3 484.5,4.3 485,4.3 485.5,4.3 486,4.3 486.5,4.3 487,4.3 487.5,4.3 488,4.3 488.5,4.3 489,4.3 489.5,4.3 490,4.3 490.4,4.5 490.9,4.8 491.3,5 491.7,5.3 492.1,5.5 492.6,5.8 493,6 493.3,6.3 493.6,6.6 494,6.9 494.3,7.2 494.6,7.6 494.9,7.9 495.3,8.2 495.6,8.5 495.9,8.8 496.1,9.3 496.2,9.7 496.4,10.2 496.6,10.7 496.7,11.1 496.9,11.6 497.1,12 497.2,12.5 497.4,13 497.6,13.4 497.8,13.9 497.9,14.4 498.1,14.8 498.3,15.3 498.4,15.8 498.6,16.2 498.8,16.7 498.9,17.1 499.1,17.6 499.3,18.1 499.4,18.5 499.6,19 499.7,20.1 499.8,21.2 500,22.3 500.1,23.4 500.2,24.5 500.3,25.6 500.4,26.6 500.5,27.7 500.6,28.8 500.8,29.9 500.9,31 501,32.1 501.1,33.2 501.2,34.3 501.3,35.5 501.5,36.6 501.6,37.7 501.7,38.8 501.8,40 501.9,41.1 502,42.2 502.2,43.3 502.3,44.5 502.4,45.6 502.5,46.7 502.6,49 502.7,50.3 502.8,51.7 503,54.7 503.1,56.8 503.2,58.4 503.4,61 503.6,64 503.7,65.7 503.8,67.9 504,69.7 504,70.1 504.1,74 504.2,76.8 504.3,79.9 504.4,82.9 504.5,85.1 504.7,89 504.8,93.8 505,98.8 505.1,100.2 505.2,101.9 505.5,104.6 505.6,107 505.7,107.7 505.8,108.4 505.9,109.8 505.9,110.3 506,111.3 506,111.8 506.2,113.8 506.3,115.2 506.5,119.6 506.6,120.9 506.7,124.5 506.9,127.9 506.9,129.2 507,130.3 507.2,134 507.3,135.2 507.5,138.9 507.6,140.7 507.7,142.8 507.8,143.9 508,147 508.1,147.9 508.2,149.7 508.3,151.8 508.4,153.3 508.5,154.4 508.5,155.1 508.7,157.2 508.7,157.6 508.8,159.4 509,160.8 509,161.2 509.1,162.4 509.2,164.3 509.4,165.9 509.4,166.4 509.6,169.2 509.7,170.1 509.8,171.3 509.9,172.4 510,173.6 510.2,174.7 510.3,175.9 510.4,177.1 510.5,178.2 510.6,179.4 510.7,180.6 510.9,181.7 511,182.9 511.1,184 511.2,185.2 511.4,187.9 511.5,188.6 511.5,189.6 511.6,190 511.8,192.3 511.8,193.3 511.9,194 512,195.4 512.2,198 512.4,200.2 512.5,201.2 512.6,202.3 512.7,203.3 512.9,204.4 513,205.4 513.1,206.5 513.2,207.5 513.3,208.6 513.4,209.6 513.6,210.7 513.7,211.7 513.8,212.8 513.9,213.8 514,214.3 514.1,214.8 514.2,215.2 514.4,215.7 514.5,216.2 514.6,216.7 514.7,217.2 514.8,217.6 514.9,218.1 515,218.6 515.2,219.1 515.3,219.5 515.4,220 515.5,220.5 515.7,220.9 516,221.3 516.2,221.7 516.4,222.1 516.6,222.5 516.9,223 517.1,223.4 517.3,223.8 517.5,224.2 517.8,224.6 518,225 518.4,225.3 518.8,225.6 519.2,225.8 519.6,226.1 520,226.4 520.4,226.7 520.8,227 521.2,227.2 521.6,227.5 522,227.8 522.5,227.8 522.9,227.9 523.4,227.9 523.9,227.9 524.4,228 524.8,228 525.3,228 525.8,228.1 526.2,228.1 526.7,228.2 527.2,228.2 527.6,228.2 528.1,228.3 528.6,228.3 529.1,228.3 529.5,228.4 530,228.4 530.5,228.4 531,228.4 531.5,228.4 532,228.4 532.5,228.4 533,228.4 533.5,228.4 534,228.4 534.5,228.4 535,228.4 535.5,228.4 536,228.4 536.5,228.4 537,228.4 537.5,228.4 538,228.4 538.5,228.4 539,228.4 539.5,228.4 540,228.4 540.5,228.4 541,228.4 541.5,228.4 542,228.4 542.5,228.4 543,228.4 543.5,228.4 544,228.4 544.5,228.4 545,228.4" fill="none" stroke="none" marker-start="url(#d2)" marker-mid="url(#d2)" marker-end="url(#d2)"/><polyline points="390.8,4.3 435,4.3 439,6 441.9,8.8 445.5,16.1 449.9,24.8 455,33.6 459.4,40.9 461.6,48.2 463.8,55.5 464.8,64 467.9,71.6 472.4,82.1 479.9,91.1 482.9,100.2 485.2,110.7 491.2,119.8 495,131.8 498,143.9 500.7,152 505.2,164.1 508.9,176.1 514.2,186.7 520.2,195.7 524.8,204.8 527,213.8 533.8,217.5 544.3,219.8 548,225.8 570,227.2 584,228.1" fill="none" stroke="#8a86c2" stroke-width="1.0"/><polyline points="390.8,4.3 391.3,4.3 391.8,4.3 392.3,4.3 392.8,4.3 393.3,4.3 393.8,4.3 394.3,4.3 394.8,4.3 395.3,4.3 395.8,4.3 396.3,4.3 396.8,4.3 397.3,4.3 397.8,4.3 398.2,4.3 398.7,4.3 399.2,4.3 399.7,4.3 400.2,4.3 400.7,4.3 401.2,4.3 401.7,4.3 402.2,4.3 402.7,4.3 403.2,4.3 403.7,4.3 404.2,4.3 404.7,4.3 405.2,4.3 405.7,4.3 406.2,4.3 406.7,4.3 407.2,4.3 407.7,4.3 408.2,4.3 408.7,4.3 409.2,4.3 409.7,4.3 410.2,4.3 410.7,4.3 411.2,4.3 411.7,4.3 412.2,4.3 412.7,4.3 413.1,4.3 413.6,4.3 414.1,4.3 414.6,4.3 415.1,4.3 415.6,4.3 416.1,4.3 416.6,4.3 417.1,4.3 417.6,4.3 418.1,4.3 418.6,4.3 419.1,4.3 419.6,4.3 420.1,4.3 420.6,4.3 421.1,4.3 421.6,4.3 422.1,4.3 422.6,4.3 423.1,4.3 423.6,4.3 424.1,4.3 424.6,4.3 425.1,4.3 425.6,4.3 426.1,4.3 426.6,4.3 427.1,4.3 427.6,4.3 428,4.3 428.5,4.3 429,4.3 429.5,4.3 430,4.3 430.5,4.3 431,4.3 431.5,4.3 432,4.3 432.5,4.3 433,4.3 433.5,4.3 434,4.3 434.5,4.3 435,4.3 435.4,4.5 435.9,4.7 436.3,4.9 436.8,5.1 437.2,5.2 437.7,5.4 438.1,5.6 438.6,5.8 439,6 439.3,6.3 439.6,6.6 440,6.9 440.3,7.2 440.6,7.6 440.9,7.9 441.3,8.2 441.6,8.5 441.9,8.8 442.1,9.2 442.3,9.7 442.5,10.1 442.7,10.5 443,10.9 443.2,11.4 443.4,11.8 443.6,12.2 443.8,12.7 444,13.1 444.2,13.5 444.4,14 444.7,14.4 444.9,14.8 445.1,15.2 445.3,15.7 445.5,16.1 445.7,16.5 445.9,17 446.2,17.4 446.4,17.8 446.6,18.3 446.8,18.7 447,19.1 447.3,19.6 447.5,20 447.7,20.5 447.9,20.9 448.1,21.3 448.4,21.8 448.6,22.2 448.8,22.6 449,23.1 449.2,23.5 449.5,23.9 449.7,24.4 449.9,24.8 450.1,25.2 450.4,25.6 450.6,26.1 450.9,26.5 451.1,26.9 451.4,27.3 451.6,27.7 451.8,28.2 452.1,28.6 452.3,29 452.6,29.4 452.8,29.8 453.1,30.2 453.3,30.7 453.5,31.1 453.8,31.5 454,31.9 454.3,32.3 454.5,32.8 454.8,33.2 455,33.6 455.2,34 455.5,34.4 455.7,34.8 456,35.2 456.2,35.6 456.5,36 456.7,36.4 457,36.8 457.2,37.2 457.4,37.7 457.7,38.1 457.9,38.5 458.2,38.9 458.4,39.3 458.7,39.7 458.9,40.1 459.2,40.5 459.4,40.9 459.5,41.4 459.7,41.8 459.8,42.3 459.9,42.7 460.1,43.2 460.2,43.6 460.4,44.1 460.5,44.5 460.6,45 460.8,45.5 460.9,45.9 461.1,46.4 461.2,46.8 461.3,47.3 461.5,47.7 461.6,48.2 461.7,48.7 461.9,49.1 462,49.6 462.2,50 462.3,50.5 462.4,50.9 462.6,51.4 462.7,51.9 462.8,52.3 463,52.8 463.1,53.2 463.2,53.7 463.4,54.1 463.5,54.6 463.7,55 463.8,55.5 463.9,56.4 464,57.4 464.1,58.3 464.2,59.3 464.4,60.2 464.5,61.2 464.6,62.1 464.7,63.1 464.8,64 465,64.4 465.2,64.9 465.3,65.3 465.5,65.8 465.7,66.2 465.9,66.7 466.1,67.1 466.3,67.6 466.4,68 466.6,68.5 466.8,68.9 467,69.4 467.2,69.8 467.4,70.3 467.5,70.7 467.7,71.2 467.9,71.6 468.1,72.1 468.3,72.5 468.5,73 468.7,73.4 468.9,73.9 469.1,74.3 469.3,74.8 469.5,75.3 469.7,75.7 469.9,76.2 470.1,76.6 470.2,77.1 470.4,77.5 470.6,78 470.8,78.4 471,78.9 471.2,79.4 471.4,79.8 471.6,80.3 471.8,80.7 472,81.2 472.2,81.6 472.4,82.1 472.7,82.5 473,82.8 473.3,83.2 473.6,83.6 474,84 474.3,84.3 474.6,84.7 474.9,85.1 475.2,85.5 475.5,85.8 475.8,86.2 476.1,86.6 476.5,87 476.8,87.3 477.1,87.7 477.4,88.1 477.7,88.5 478,88.8 478.3,89.2 478.6,89.6 479,90 479.3,90.3 479.6,90.7 479.9,91.1 480,91.6 480.2,92 480.3,92.5 480.5,92.9 480.6,93.4 480.8,93.8 480.9,94.3 481.1,94.7 481.2,95.2 481.4,95.7 481.5,96.1 481.7,96.6 481.8,97 482,97.5 482.1,97.9 482.3,98.4 482.4,98.8 482.6,99.3 482.8,99.7 482.9,100.2 483,100.7 483.1,101.2 483.2,101.8 483.4,102.3 483.5,102.8 483.6,103.4 483.7,103.9 483.8,104.4 483.9,104.9 484,105.5 484.2,106 484.3,106.5 484.4,107 484.5,107.5 484.6,108.1 484.7,108.6 484.9,109.1 485,109.7 485.1,110.2 485.2,110.7 485.5,111.1 485.7,111.5 486,111.9 486.3,112.4 486.6,112.8 486.8,113.2 487.1,113.6 487.4,114 487.7,114.4 487.9,114.8 488.2,115.2 488.5,115.7 488.7,116.1 489,116.5 489.3,116.9 489.6,117.3 489.8,117.7 490.1,118.1 490.4,118.6 490.7,119 490.9,119.4 491.2,119.8 491.3,120.3 491.5,120.7 491.6,121.2 491.8,121.6 491.9,122.1 492.1,122.6 492.2,123 492.4,123.5 492.5,124 492.7,124.4 492.8,124.9 493,125.3 493.1,125.8 493.2,126.3 493.4,126.7 493.5,127.2 493.7,127.6 493.8,128.1 494,128.6 494.1,129 494.3,129.5 494.4,130 494.6,130.4 494.7,130.9 494.9,131.3 495,131.8 495.1,132.3 495.2,132.8 495.4,133.3 495.5,133.7 495.6,134.2 495.7,134.7 495.8,135.2 496,135.7 496.1,136.2 496.2,136.6 496.3,137.1 496.4,137.6 496.6,138.1 496.7,138.6 496.8,139.1 496.9,139.5 497,140 497.2,140.5 497.3,141 497.4,141.5 497.5,142 497.6,142.4 497.8,142.9 497.9,143.4 498,143.9 498.1,144.3 498.3,144.8 498.4,145.2 498.6,145.7 498.8,146.2 498.9,146.6 499.1,147.1 499.2,147.5 499.4,147.9 499.5,148.4 499.6,148.8 499.8,149.3 499.9,149.8 500.1,150.2 500.2,150.7 500.4,151.1 500.6,151.6 500.7,152 500.9,152.5 501,152.9 501.2,153.4 501.4,153.9 501.6,154.3 501.7,154.8 501.9,155.3 502.1,155.7 502.3,156.2 502.4,156.7 502.6,157.1 502.8,157.6 502.9,158.1 503.1,158.5 503.3,159 503.5,159.4 503.6,159.9 503.8,160.4 504,160.8 504.2,161.3 504.3,161.8 504.5,162.2 504.7,162.7 504.9,163.2 505,163.6 505.2,164.1 505.3,164.6 505.5,165 505.6,165.5 505.8,165.9 505.9,166.4 506.1,166.9 506.2,167.3 506.3,167.8 506.5,168.3 506.6,168.7 506.8,169.2 506.9,169.6 507,170.1 507.2,170.6 507.3,171 507.5,171.5 507.6,171.9 507.8,172.4 507.9,172.9 508,173.3 508.2,173.8 508.3,174.3 508.5,174.7 508.6,175.2 508.8,175.6 508.9,176.1 509.1,176.5 509.3,177 509.6,177.4 509.8,177.9 510,178.3 510.2,178.8 510.4,179.2 510.7,179.6 510.9,180.1 511.1,180.5 511.3,181 511.6,181.4 511.8,181.8 512,182.3 512.2,182.7 512.4,183.2 512.7,183.6 512.9,184 513.1,184.5 513.3,184.9 513.5,185.4 513.8,185.8 514,186.3 514.2,186.7 514.5,187.1 514.7,187.5 515,187.9 515.3,188.3 515.6,188.7 515.8,189.2 516.1,189.6 516.4,190 516.7,190.4 516.9,190.8 517.2,191.2 517.5,191.6 517.7,192 518,192.4 518.3,192.8 518.6,193.2 518.8,193.7 519.1,194.1 519.4,194.5 519.7,194.9 519.9,195.3 520.2,195.7 520.4,196.1 520.6,196.6 520.9,197 521.1,197.4 521.3,197.9 521.5,198.3 521.7,198.7 522,199.2 522.2,199.6 522.4,200 522.6,200.5 522.8,200.9 523,201.3 523.3,201.8 523.5,202.2 523.7,202.6 523.9,203.1 524.1,203.5 524.4,203.9 524.6,204.4 524.8,204.8 524.9,205.3 525,205.7 525.1,206.2 525.3,206.7 525.4,207.2 525.5,207.6 525.6,208.1 525.7,208.6 525.8,209.1 526,209.5 526.1,210 526.2,210.5 526.3,211 526.4,211.4 526.5,211.9 526.7,212.4 526.8,212.9 526.9,213.3 527,213.8 527.4,214 527.9,214.3 528.3,214.5 528.7,214.7 529.1,215 529.5,215.2 530,215.4 530.4,215.7 530.8,215.9 531.2,216.1 531.7,216.3 532.1,216.6 532.5,216.8 532.9,217 533.4,217.3 533.8,217.5 534.3,217.6 534.8,217.7 535.2,217.8 535.7,217.9 536.2,218 536.7,218.1 537.1,218.2 537.6,218.3 538.1,218.4 538.6,218.5 539,218.7 539.5,218.8 540,218.9 540.5,219 541,219.1 541.4,219.2 541.9,219.3 542.4,219.4 542.9,219.5 543.3,219.6 543.8,219.7 544.3,219.8 544.5,220.2 544.8,220.6 545,221 545.3,221.4 545.5,221.8 545.8,222.2 546,222.6 546.3,223 546.5,223.4 546.8,223.8 547,224.2 547.3,224.6 547.5,225 547.8,225.4 548,225.8 548.5,225.8 549,225.9 549.5,225.9 550,225.9 550.4,226 550.9,226 551.4,226 551.9,226 552.4,226.1 552.9,226.1 553.4,226.1 553.9,226.2 554.4,226.2 554.8,226.2 555.3,226.3 555.8,226.3 556.3,226.3 556.8,226.4 557.3,226.4 557.8,226.4 558.3,226.5 558.8,226.5 559.2,226.5 559.7,226.5 560.2,226.6 560.7,226.6 561.2,226.6 561.7,226.7 562.2,226.7 562.7,226.7 563.2,226.8 563.6,226.8 564.1,226.8 564.6,226.9 565.1,226.9 565.6,226.9 566.1,227 566.6,227 567.1,227 567.6,227 568,227.1 568.5,227.1 569,227.1 569.5,227.2 570,227.2 570.5,227.2 571,227.3 571.4,227.3 571.9,227.3 572.4,227.4 572.9,227.4 573.4,227.4 573.9,227.4 574.3,227.5 574.8,227.5 575.3,227.5 575.8,227.6 576.3,227.6 576.8,227.6 577.2,227.7 577.7,227.7 578.2,227.7 578.7,227.8 579.2,227.8 579.7,227.8 580.1,227.9 580.6,227.9 581.1,227.9 581.6,227.9 582.1,228 582.6,228 583,228 583.5,228.1 584,228.1" fill="none" stroke="none" marker-start="url(#d3)" marker-mid="url(#d3)" marker-end="url(#d3)"/><polyline points="390.8,4.3 571.3,4.3 571.3,8 571.4,53.3 571.2,58.8 571.3,64.7 571.5,70.8 571.6,79 571.8,91 571.9,106.4 572.1,120.6 572.2,133.1 572.4,155.1 572.5,173.5 572.7,187.9 572.8,194.7 573,206.3 573.1,209.9 573.3,213.4 573.4,217.8 573.5,221 574,225.3 589,225.3 590,227.8 610,227.8" fill="none" stroke="#38b493" stroke-width="1.0"/><polyline points="390.8,4.3 391.3,4.3 391.8,4.3 392.3,4.3 392.8,4.3 393.3,4.3 393.8,4.3 394.3,4.3 394.8,4.3 395.3,4.3 395.8,4.3 396.3,4.3 396.8,4.3 397.3,4.3 397.8,4.3 398.3,4.3 398.8,4.3 399.3,4.3 399.8,4.3 400.3,4.3 400.8,4.3 401.3,4.3 401.8,4.3 402.3,4.3 402.8,4.3 403.3,4.3 403.8,4.3 404.3,4.3 404.8,4.3 405.3,4.3 405.8,4.3 406.3,4.3 406.8,4.3 407.3,4.3 407.8,4.3 408.3,4.3 408.8,4.3 409.3,4.3 409.8,4.3 410.3,4.3 410.8,4.3 411.3,4.3 411.8,4.3 412.3,4.3 412.8,4.3 413.3,4.3 413.8,4.3 414.3,4.3 414.8,4.3 415.3,4.3 415.8,4.3 416.3,4.3 416.8,4.3 417.3,4.3 417.8,4.3 418.3,4.3 418.8,4.3 419.3,4.3 419.8,4.3 420.3,4.3 420.8,4.3 421.3,4.3 421.8,4.3 422.3,4.3 422.8,4.3 423.3,4.3 423.8,4.3 424.3,4.3 424.8,4.3 425.3,4.3 425.8,4.3 426.3,4.3 426.8,4.3 427.3,4.3 427.8,4.3 428.3,4.3 428.8,4.3 429.3,4.3 429.8,4.3 430.3,4.3 430.8,4.3 431.3,4.3 431.8,4.3 432.3,4.3 432.8,4.3 433.3,4.3 433.8,4.3 434.3,4.3 434.8,4.3 435.3,4.3 435.8,4.3 436.3,4.3 436.8,4.3 437.3,4.3 437.8,4.3 438.3,4.3 438.8,4.3 439.3,4.3 439.8,4.3 440.3,4.3 440.8,4.3 441.3,4.3 441.8,4.3 442.3,4.3 442.8,4.3 443.3,4.3 443.8,4.3 444.3,4.3 444.8,4.3 445.3,4.3 445.8,4.3 446.3,4.3 446.8,4.3 447.3,4.3 447.8,4.3 448.3,4.3 448.8,4.3 449.3,4.3 449.8,4.3 450.3,4.3 450.8,4.3 451.3,4.3 451.8,4.3 452.3,4.3 452.8,4.3 453.3,4.3 453.8,4.3 454.3,4.3 454.8,4.3 455.3,4.3 455.8,4.3 456.3,4.3 456.8,4.3 457.3,4.3 457.8,4.3 458.3,4.3 458.8,4.3 459.3,4.3 459.8,4.3 460.3,4.3 460.8,4.3 461.3,4.3 461.8,4.3 462.3,4.3 462.8,4.3 463.3,4.3 463.8,4.3 464.3,4.3 464.8,4.3 465.3,4.3 465.8,4.3 466.3,4.3 466.8,4.3 467.3,4.3 467.8,4.3 468.3,4.3 468.8,4.3 469.3,4.3 469.8,4.3 470.3,4.3 470.8,4.3 471.3,4.3 471.8,4.3 472.3,4.3 472.8,4.3 473.3,4.3 473.8,4.3 474.3,4.3 474.8,4.3 475.3,4.3 475.8,4.3 476.3,4.3 476.8,4.3 477.3,4.3 477.8,4.3 478.3,4.3 478.8,4.3 479.3,4.3 479.8,4.3 480.3,4.3 480.8,4.3 481.3,4.3 481.8,4.3 482.3,4.3 482.8,4.3 483.3,4.3 483.8,4.3 484.3,4.3 484.8,4.3 485.3,4.3 485.8,4.3 486.3,4.3 486.8,4.3 487.3,4.3 487.8,4.3 488.3,4.3 488.8,4.3 489.3,4.3 489.8,4.3 490.3,4.3 490.8,4.3 491.3,4.3 491.8,4.3 492.3,4.3 492.8,4.3 493.3,4.3 493.8,4.3 494.3,4.3 494.8,4.3 495.3,4.3 495.8,4.3 496.3,4.3 496.8,4.3 497.3,4.3 497.8,4.3 498.3,4.3 498.8,4.3 499.3,4.3 499.8,4.3 500.3,4.3 500.8,4.3 501.3,4.3 501.8,4.3 502.3,4.3 502.8,4.3 503.3,4.3 503.8,4.3 504.3,4.3 504.8,4.3 505.3,4.3 505.8,4.3 506.3,4.3 506.8,4.3 507.3,4.3 507.8,4.3 508.3,4.3 508.8,4.3 509.3,4.3 509.8,4.3 510.3,4.3 510.8,4.3 511.3,4.3 511.8,4.3 512.3,4.3 512.8,4.3 513.3,4.3 513.8,4.3 514.3,4.3 514.8,4.3 515.3,4.3 515.8,4.3 516.3,4.3 516.8,4.3 517.3,4.3 517.8,4.3 518.3,4.3 518.8,4.3 519.3,4.3 519.8,4.3 520.3,4.3 520.8,4.3 521.3,4.3 521.8,4.3 522.3,4.3 522.8,4.3 523.3,4.3 523.8,4.3 524.3,4.3 524.8,4.3 525.3,4.3 525.8,4.3 526.3,4.3 526.8,4.3 527.3,4.3 527.8,4.3 528.3,4.3 528.8,4.3 529.3,4.3 529.8,4.3 530.3,4.3 530.8,4.3 531.3,4.3 531.8,4.3 532.3,4.3 532.8,4.3 533.3,4.3 533.8,4.3 534.3,4.3 534.8,4.3 535.3,4.3 535.8,4.3 536.3,4.3 536.8,4.3 537.3,4.3 537.8,4.3 538.3,4.3 538.8,4.3 539.3,4.3 539.8,4.3 540.3,4.3 540.8,4.3 541.3,4.3 541.8,4.3 542.3,4.3 542.8,4.3 543.3,4.3 543.8,4.3 544.3,4.3 544.8,4.3 545.3,4.3 545.8,4.3 546.3,4.3 546.8,4.3 547.3,4.3 547.8,4.3 548.3,4.3 548.8,4.3 549.3,4.3 549.8,4.3 550.3,4.3 550.8,4.3 551.3,4.3 551.8,4.3 552.3,4.3 552.8,4.3 553.3,4.3 553.8,4.3 554.3,4.3 554.8,4.3 555.3,4.3 555.8,4.3 556.3,4.3 556.8,4.3 557.3,4.3 557.8,4.3 558.3,4.3 558.8,4.3 559.3,4.3 559.8,4.3 560.3,4.3 560.8,4.3 561.3,4.3 561.8,4.3 562.3,4.3 562.8,4.3 563.3,4.3 563.8,4.3 564.3,4.3 564.8,4.3 565.3,4.3 565.8,4.3 566.3,4.3 566.8,4.3 567.3,4.3 567.8,4.3 568.3,4.3 568.8,4.3 569.3,4.3 569.8,4.3 570.3,4.3 570.8,4.3 571.3,4.3 571.3,6.2 571.3,7.6 571.3,8 573.5,221 573.6,221.9 573.7,222.7 573.8,223.6 573.9,224.4 574,225.3 574.5,225.3 575,225.3 575.5,225.3 576,225.3 576.5,225.3 577,225.3 577.5,225.3 578,225.3 578.5,225.3 579,225.3 579.5,225.3 580,225.3 580.5,225.3 581,225.3 581.5,225.3 582,225.3 582.5,225.3 583,225.3 583.5,225.3 584,225.3 584.5,225.3 585,225.3 585.5,225.3 586,225.3 586.5,225.3 587,225.3 587.5,225.3 588,225.3 588.5,225.3 589,225.3 589.2,225.7 589.3,226.1 589.5,226.6 589.7,227 589.8,227.4 590,227.8 590.5,227.8 591,227.8 591.5,227.8 592,227.8 592.5,227.8 593,227.8 593.5,227.8 594,227.8 594.5,227.8 595,227.8 595.5,227.8 596,227.8 596.5,227.8 597,227.8 597.5,227.8 598,227.8 598.5,227.8 599,227.8 599.5,227.8 600,227.8 600.5,227.8 601,227.8 601.5,227.8 602,227.8 602.5,227.8 603,227.8 603.5,227.8 604,227.8 604.5,227.8 605,227.8 605.5,227.8 606,227.8 606.5,227.8 607,227.8 607.5,227.8 608,227.8 608.5,227.8 609,227.8 609.5,227.8 610,227.8" fill="none" stroke="none" marker-start="url(#d4)" marker-mid="url(#d4)" marker-end="url(#d4)"/><polyline points="571.3,12.5 571.3,17.1 571.3,21.6 571.3,26.1 571.3,30.6 571.4,35.2 571.4,39.7 571.4,44.2 571.4,48.8 571.4,53.3 571.2,58.8 571.3,64.7 571.5,70.8 571.6,79 571.8,91 571.9,106.4 572.1,120.6 572.2,133.1 572.4,155.1 572.5,173.5 572.7,187.9 572.8,194.7 573,206.3 573.1,209.9 573.3,213.4 573.4,217.8" fill="none" stroke="none" marker-start="url(#s4)" marker-mid="url(#s4)" marker-end="url(#s4)"/><polyline points="390.8,4.3 526.6,4.3 526.6,9.2 526.6,16.2 526.7,20.2 526.8,27.6 526.9,34.9 527,39.5 527.1,46 527.2,52.4 527.3,60.7 527.4,76.3 527.5,89.2 527.6,109.2 527.7,136.4 527.8,155.1 527.9,169.9 528,184.9 528.1,200.2 528.2,209.4 528.5,213 530,224.5 539,225.3 540,227.5 555,227.9 556,228.1 573,228.1" fill="none" stroke="#0000ff" stroke-width="1.0"/><polyline points="390.8,4.3 391.3,4.3 391.8,4.3 392.3,4.3 392.8,4.3 393.3,4.3 393.8,4.3 394.3,4.3 394.8,4.3 395.3,4.3 395.8,4.3 396.3,4.3 396.8,4.3 397.3,4.3 397.8,4.3 398.3,4.3 398.8,4.3 399.3,4.3 399.8,4.3 400.3,4.3 400.8,4.3 401.3,4.3 401.8,4.3 402.3,4.3 402.8,4.3 403.3,4.3 403.8,4.3 404.3,4.3 404.8,4.3 405.3,4.3 405.8,4.3 406.3,4.3 406.8,4.3 407.3,4.3 407.8,4.3 408.3,4.3 408.8,4.3 409.3,4.3 409.8,4.3 410.3,4.3 410.8,4.3 411.3,4.3 411.8,4.3 412.3,4.3 412.8,4.3 413.3,4.3 413.8,4.3 414.3,4.3 414.8,4.3 415.3,4.3 415.8,4.3 416.3,4.3 416.8,4.3 417.3,4.3 417.8,4.3 418.3,4.3 418.8,4.3 419.3,4.3 419.8,4.3 420.3,4.3 420.8,4.3 421.3,4.3 421.8,4.3 422.3,4.3 422.8,4.3 423.3,4.3 423.8,4.3 424.3,4.3 424.8,4.3 425.2,4.3 425.7,4.3 426.2,4.3 426.7,4.3 427.2,4.3 427.7,4.3 428.2,4.3 428.7,4.3 429.2,4.3 429.7,4.3 430.2,4.3 430.7,4.3 431.2,4.3 431.7,4.3 432.2,4.3 432.7,4.3 433.2,4.3 433.7,4.3 434.2,4.3 434.7,4.3 435.2,4.3 435.7,4.3 436.2,4.3 436.7,4.3 437.2,4.3 437.7,4.3 438.2,4.3 438.7,4.3 439.2,4.3 439.7,4.3 440.2,4.3 440.7,4.3 441.2,4.3 441.7,4.3 442.2,4.3 442.7,4.3 443.2,4.3 443.7,4.3 444.2,4.3 444.7,4.3 445.2,4.3 445.7,4.3 446.2,4.3 446.7,4.3 447.2,4.3 447.7,4.3 448.2,4.3 448.7,4.3 449.2,4.3 449.7,4.3 450.2,4.3 450.7,4.3 451.2,4.3 451.7,4.3 452.2,4.3 452.7,4.3 453.2,4.3 453.7,4.3 454.2,4.3 454.7,4.3 455.2,4.3 455.7,4.3 456.2,4.3 456.7,4.3 457.2,4.3 457.7,4.3 458.2,4.3 458.7,4.3 459.2,4.3 459.7,4.3 460.2,4.3 460.7,4.3 461.2,4.3 461.7,4.3 462.2,4.3 462.7,4.3 463.2,4.3 463.7,4.3 464.2,4.3 464.7,4.3 465.2,4.3 465.7,4.3 466.2,4.3 466.7,4.3 467.2,4.3 467.7,4.3 468.2,4.3 468.7,4.3 469.2,4.3 469.7,4.3 470.2,4.3 470.7,4.3 471.2,4.3 471.7,4.3 472.2,4.3 472.7,4.3 473.2,4.3 473.7,4.3 474.2,4.3 474.7,4.3 475.2,4.3 475.7,4.3 476.2,4.3 476.7,4.3 477.2,4.3 477.7,4.3 478.2,4.3 478.7,4.3 479.2,4.3 479.7,4.3 480.2,4.3 480.7,4.3 481.2,4.3 481.7,4.3 482.2,4.3 482.7,4.3 483.2,4.3 483.7,4.3 484.2,4.3 484.7,4.3 485.2,4.3 485.7,4.3 486.2,4.3 486.7,4.3 487.2,4.3 487.7,4.3 488.2,4.3 488.7,4.3 489.2,4.3 489.7,4.3 490.2,4.3 490.7,4.3 491.2,4.3 491.7,4.3 492.2,4.3 492.7,4.3 493.1,4.3 493.6,4.3 494.1,4.3 494.6,4.3 495.1,4.3 495.6,4.3 496.1,4.3 496.6,4.3 497.1,4.3 497.6,4.3 498.1,4.3 498.6,4.3 499.1,4.3 499.6,4.3 500.1,4.3 500.6,4.3 501.1,4.3 501.6,4.3 502.1,4.3 502.6,4.3 503.1,4.3 503.6,4.3 504.1,4.3 504.6,4.3 505.1,4.3 505.6,4.3 506.1,4.3 506.6,4.3 507.1,4.3 507.6,4.3 508.1,4.3 508.6,4.3 509.1,4.3 509.6,4.3 510.1,4.3 510.6,4.3 511.1,4.3 511.6,4.3 512.1,4.3 512.6,4.3 513.1,4.3 513.6,4.3 514.1,4.3 514.6,4.3 515.1,4.3 515.6,4.3 516.1,4.3 516.6,4.3 517.1,4.3 517.6,4.3 518.1,4.3 518.6,4.3 519.1,4.3 519.6,4.3 520.1,4.3 520.6,4.3 521.1,4.3 521.6,4.3 522.1,4.3 522.6,4.3 523.1,4.3 523.6,4.3 524.1,4.3 524.6,4.3 525.1,4.3 525.6,4.3 526.1,4.3 526.6,4.3 526.6,8.2 526.6,9.2 528.2,209.9 528.4,211.8 528.5,213 528.6,213.9 528.7,214.8 528.8,215.7 529,216.5 529.1,217.4 529.2,218.3 529.3,219.2 529.4,220.1 529.5,221 529.7,221.8 529.8,222.7 529.9,223.6 530,224.5 530.5,224.5 530.9,224.6 531.4,224.6 531.9,224.7 532.4,224.7 532.8,224.8 533.3,224.8 533.8,224.8 534.3,224.9 534.7,224.9 535.2,225 535.7,225 536.2,225 536.6,225.1 537.1,225.1 537.6,225.2 538.1,225.2 538.5,225.3 539,225.3 539.2,225.7 539.4,226.2 539.6,226.6 539.8,227.1 540,227.5 540.5,227.5 541,227.5 541.5,227.5 541.9,227.6 542.4,227.6 542.9,227.6 543.4,227.6 543.9,227.6 544.4,227.6 544.8,227.6 545.3,227.6 545.8,227.7 546.3,227.7 546.8,227.7 547.3,227.7 547.7,227.7 548.2,227.7 548.7,227.7 549.2,227.7 549.7,227.8 550.2,227.8 550.6,227.8 551.1,227.8 551.6,227.8 552.1,227.8 552.6,227.8 553.1,227.8 553.5,227.9 554,227.9 554.5,227.9 555,227.9 555.3,228 555.7,228 556,228.1 556.5,228.1 557,228.1 557.5,228.1 558,228.1 558.5,228.1 559,228.1 559.5,228.1 560,228.1 560.5,228.1 561,228.1 561.5,228.1 562,228.1 562.5,228.1 563,228.1 563.5,228.1 564,228.1 564.5,228.1 565,228.1 565.5,228.1 566,228.1 566.5,228.1 567,228.1 567.5,228.1 568,228.1 568.5,228.1 569,228.1 569.5,228.1 570,228.1 570.5,228.1 571,228.1 571.5,228.1 572,228.1 572.5,228.1 573,228.1" fill="none" stroke="none" marker-start="url(#d5)" marker-mid="url(#d5)" marker-end="url(#d5)"/><polyline points="526.6,16.2 526.7,20.2 526.8,27.6 526.9,34.9 527,39.5 527.1,46 527.2,52.4 527.3,60.7 527.4,76.3 527.5,89.2 527.6,109.2 527.7,136.4 527.8,155.1 527.9,169.9 528,184.9 528.1,200.2 528.2,209.4" fill="none" stroke="none" marker-start="url(#s5)" marker-mid="url(#s5)" marker-end="url(#s5)"/><polyline points="530,228.1 573,228.1" fill="none" stroke="#0000ff" stroke-width="1.0"/><polyline points="530,228.1 530.5,228.1 531,228.1 531.5,228.1 532,228.1 532.5,228.1 533,228.1 533.5,228.1 534,228.1 534.5,228.1 535,228.1 535.5,228.1 536,228.1 536.5,228.1 537,228.1 537.5,228.1 538,228.1 538.5,228.1 539,228.1 539.5,228.1 540,228.1 540.5,228.1 541,228.1 541.5,228.1 542,228.1 542.5,228.1 543,228.1 543.5,228.1 544,228.1 544.5,228.1 545,228.1 545.5,228.1 546,228.1 546.5,228.1 547,228.1 547.5,228.1 548,228.1 548.5,228.1 549,228.1 549.5,228.1 550,228.1 550.5,228.1 551,228.1 551.5,228.1 552,228.1 552.5,228.1 553,228.1 553.5,228.1 554,228.1 554.5,228.1 555,228.1 555.5,228.1 556,228.1 556.5,228.1 557,228.1 557.5,228.1 558,228.1 558.5,228.1 559,228.1 559.5,228.1 560,228.1 560.5,228.1 561,228.1 561.5,228.1 562,228.1 562.5,228.1 563,228.1 563.5,228.1 564,228.1 564.5,228.1 565,228.1 565.5,228.1 566,228.1 566.5,228.1 567,228.1 567.5,228.1 568,228.1 568.5,228.1 569,228.1 569.5,228.1 570,228.1 570.5,228.1 571,228.1 571.5,228.1 572,228.1 572.5,228.1 573,228.1" fill="none" stroke="none" marker-start="url(#d5)" marker-mid="url(#d5)" marker-end="url(#d5)"/><text x="390.8" y="240.5" text-anchor="middle">0</text><text x="449.7" y="240.5" text-anchor="middle">500</text><text x="508.6" y="240.5" text-anchor="middle">1000</text><text x="567.5" y="240.5" text-anchor="middle">1500</text><text x="626.4" y="240.5" text-anchor="middle">2000</text><text x="386.3" y="231.7" text-anchor="end">0</text><text x="386.3" y="209.3" text-anchor="end">20</text><text x="386.3" y="186.9" text-anchor="end">40</text><text x="386.3" y="164.5" text-anchor="end">60</text><text x="386.3" y="142.1" text-anchor="end">80</text><text x="386.3" y="119.6" text-anchor="end">100</text><text x="386.3" y="97.2" text-anchor="end">120</text><text x="386.3" y="74.8" text-anchor="end">140</text><text x="386.3" y="52.4" text-anchor="end">160</text><text x="386.3" y="30" text-anchor="end">180</text><text x="386.3" y="7.6" text-anchor="end">200</text><path d="M370 0H423.5L421.3 3.5H370Z" fill="#fff"/><path d="M421.3 3.5L423.5 0H561L563 3.5Z" fill="#0000ff"/><path d="M563 3.5L561 0H605L607.6 3.4Z" fill="#38b493"/><text x="407" y="3.2" fill="#555">000</text><text x="532" y="253.5" text-anchor="middle" font-size="9.4">Rounds</text><text transform="translate(367.6,116.1) rotate(-90) scale(1.04,1)" text-anchor="middle" font-size="9.4">The Number of Alive Nodes</text><rect x="600.5" y="10.5" width="67" height="67" fill="#fff" stroke="#666" stroke-width="1"/><path d="M603.1 17.2H628.9" stroke="#ef6b5e" stroke-width="1.0"/><path d="M616.3 13.6l2.6 3.6l-2.6 3.6l-2.6 -3.6Z" fill="none" stroke="#ef6b5e" stroke-width="1.0"/><text x="631.4" y="20.1" font-size="8">CMSTR</text><path d="M603.1 28H628.9" stroke="#c8669f" stroke-width="1.0"/><path d="M616.3 24.4l2.6 3.6l-2.6 3.6l-2.6 -3.6Z" fill="none" stroke="#c8669f" stroke-width="1.0"/><text x="631.4" y="30.9" font-size="8">D2CRP</text><path d="M603.1 38.8H628.9" stroke="#4aae44" stroke-width="1.0"/><path d="M616.3 35.2l2.6 3.6l-2.6 3.6l-2.6 -3.6Z" fill="none" stroke="#4aae44" stroke-width="1.0"/><text x="631.4" y="41.7" font-size="8">EEHCHR</text><path d="M603.1 49.5H628.9" stroke="#8a86c2" stroke-width="1.0"/><path d="M616.3 45.9l2.6 3.6l-2.6 3.6l-2.6 -3.6Z" fill="none" stroke="#8a86c2" stroke-width="1.0"/><text x="631.4" y="52.4" font-size="8">ESCVAD</text><path d="M603.1 60.3H628.9" stroke="#38b493" stroke-width="1.0"/><path d="M616.3 56.7l2.6 3.6l-2.6 3.6l-2.6 -3.6Z" fill="none" stroke="#38b493" stroke-width="1.0"/><text x="631.4" y="63.2" font-size="8">GAAFSA</text><path d="M603.1 71.1H628.9" stroke="#0000ff" stroke-width="1.0"/><path d="M616.3 67.5l2.6 3.6l-2.6 3.6l-2.6 -3.6Z" fill="none" stroke="#0000ff" stroke-width="1.0"/><text x="631.4" y="74" font-size="8">BAFSA</text><text x="452.9" y="278.9" font-family="&quot;Liberation Serif&quot;, serif" font-size="13.5" fill="#111">(b)</text><text x="474.7" y="278.9" font-family="&quot;Liberation Serif&quot;, serif" font-size="13.5" fill="#111">Experiment Scenario 2</text></g>
<g font-family="&quot;Liberation Sans&quot;, sans-serif" font-size="8.6" fill="#262626"><path d="M30.5 320.5H313.5V544.5H30.5Z" fill="none" stroke="#666" stroke-width="1"/><path d="M30.1 544.5v-2.6M30.1 320.5v2.6M86.7 544.5v-2.6M86.7 320.5v2.6M143.4 544.5v-2.6M143.4 320.5v2.6M200 544.5v-2.6M200 320.5v2.6M256.6 544.5v-2.6M256.6 320.5v2.6M313.2 544.5v-2.6M313.2 320.5v2.6M30.5 544.5h2.6M313.5 544.5h-2.6M30.5 524.2h2.6M313.5 524.2h-2.6M30.5 503.9h2.6M313.5 503.9h-2.6M30.5 483.5h2.6M313.5 483.5h-2.6M30.5 463.2h2.6M313.5 463.2h-2.6M30.5 442.9h2.6M313.5 442.9h-2.6M30.5 422.6h2.6M313.5 422.6h-2.6M30.5 402.3h2.6M313.5 402.3h-2.6M30.5 381.9h2.6M313.5 381.9h-2.6M30.5 361.6h2.6M313.5 361.6h-2.6M30.5 341.3h2.6M313.5 341.3h-2.6M30.5 321h2.6M313.5 321h-2.6" stroke="#444" stroke-width="1" fill="none"/><polyline points="30.1,320.9 173.3,320.9 173.3,325 173.5,341.9 173.6,348.1 173.8,355.4 174,372.3 174.1,387.7 174.3,400 174.5,420.4 174.7,433.8 174.9,451.7 175,469.6 175.2,487.3 175.4,500.8 175.6,513.8 175.8,519.4 175.9,526.4 176.1,530.3 176.3,533.8 177,537 180,540 194,542.3 200,543.5 215,544.5 230,544.5" fill="none" stroke="#ef6b5e" stroke-width="1.0"/><polyline points="30.1,320.9 30.6,320.9 31.1,320.9 31.6,320.9 32.1,320.9 32.6,320.9 33.1,320.9 33.6,320.9 34.1,320.9 34.6,320.9 35.1,320.9 35.6,320.9 36.1,320.9 36.6,320.9 37.1,320.9 37.6,320.9 38.1,320.9 38.6,320.9 39.1,320.9 39.6,320.9 40.1,320.9 40.6,320.9 41.1,320.9 41.6,320.9 42.1,320.9 42.6,320.9 43.1,320.9 43.6,320.9 44.1,320.9 44.6,320.9 45.1,320.9 45.6,320.9 46.1,320.9 46.6,320.9 47.1,320.9 47.6,320.9 48.1,320.9 48.6,320.9 49.1,320.9 49.6,320.9 50.1,320.9 50.6,320.9 51.1,320.9 51.6,320.9 52.1,320.9 52.6,320.9 53.1,320.9 53.6,320.9 54,320.9 54.5,320.9 55,320.9 55.5,320.9 56,320.9 56.5,320.9 57,320.9 57.5,320.9 58,320.9 58.5,320.9 59,320.9 59.5,320.9 60,320.9 60.5,320.9 61,320.9 61.5,320.9 62,320.9 62.5,320.9 63,320.9 63.5,320.9 64,320.9 64.5,320.9 65,320.9 65.5,320.9 66,320.9 66.5,320.9 67,320.9 67.5,320.9 68,320.9 68.5,320.9 69,320.9 69.5,320.9 70,320.9 70.5,320.9 71,320.9 71.5,320.9 72,320.9 72.5,320.9 73,320.9 73.5,320.9 74,320.9 74.5,320.9 75,320.9 75.5,320.9 76,320.9 76.5,320.9 77,320.9 77.5,320.9 78,320.9 78.5,320.9 79,320.9 79.5,320.9 80,320.9 80.5,320.9 81,320.9 81.5,320.9 82,320.9 82.5,320.9 83,320.9 83.5,320.9 84,320.9 84.5,320.9 85,320.9 85.5,320.9 86,320.9 86.5,320.9 87,320.9 87.5,320.9 88,320.9 88.5,320.9 89,320.9 89.5,320.9 90,320.9 90.5,320.9 91,320.9 91.5,320.9 92,320.9 92.5,320.9 93,320.9 93.5,320.9 94,320.9 94.5,320.9 95,320.9 95.5,320.9 96,320.9 96.5,320.9 97,320.9 97.5,320.9 98,320.9 98.5,320.9 99,320.9 99.5,320.9 100,320.9 100.5,320.9 101,320.9 101.5,320.9 101.9,320.9 102.4,320.9 102.9,320.9 103.4,320.9 103.9,320.9 104.4,320.9 104.9,320.9 105.4,320.9 105.9,320.9 106.4,320.9 106.9,320.9 107.4,320.9 107.9,320.9 108.4,320.9 108.9,320.9 109.4,320.9 109.9,320.9 110.4,320.9 110.9,320.9 111.4,320.9 111.9,320.9 112.4,320.9 112.9,320.9 113.4,320.9 113.9,320.9 114.4,320.9 114.9,320.9 115.4,320.9 115.9,320.9 116.4,320.9 116.9,320.9 117.4,320.9 117.9,320.9 118.4,320.9 118.9,320.9 119.4,320.9 119.9,320.9 120.4,320.9 120.9,320.9 121.4,320.9 121.9,320.9 122.4,320.9 122.9,320.9 123.4,320.9 123.9,320.9 124.4,320.9 124.9,320.9 125.4,320.9 125.9,320.9 126.4,320.9 126.9,320.9 127.4,320.9 127.9,320.9 128.4,320.9 128.9,320.9 129.4,320.9 129.9,320.9 130.4,320.9 130.9,320.9 131.4,320.9 131.9,320.9 132.4,320.9 132.9,320.9 133.4,320.9 133.9,320.9 134.4,320.9 134.9,320.9 135.4,320.9 135.9,320.9 136.4,320.9 136.9,320.9 137.4,320.9 137.9,320.9 138.4,320.9 138.9,320.9 139.4,320.9 139.9,320.9 140.4,320.9 140.9,320.9 141.4,320.9 141.9,320.9 142.4,320.9 142.9,320.9 143.4,320.9 143.9,320.9 144.4,320.9 144.9,320.9 145.4,320.9 145.9,320.9 146.4,320.9 146.9,320.9 147.4,320.9 147.9,320.9 148.4,320.9 148.9,320.9 149.4,320.9 149.8,320.9 150.3,320.9 150.8,320.9 151.3,320.9 151.8,320.9 152.3,320.9 152.8,320.9 153.3,320.9 153.8,320.9 154.3,320.9 154.8,320.9 155.3,320.9 155.8,320.9 156.3,320.9 156.8,320.9 157.3,320.9 157.8,320.9 158.3,320.9 158.8,320.9 159.3,320.9 159.8,320.9 160.3,320.9 160.8,320.9 161.3,320.9 161.8,320.9 162.3,320.9 162.8,320.9 163.3,320.9 163.8,320.9 164.3,320.9 164.8,320.9 165.3,320.9 165.8,320.9 166.3,320.9 166.8,320.9 167.3,320.9 167.8,320.9 168.3,320.9 168.8,320.9 169.3,320.9 169.8,320.9 170.3,320.9 170.8,320.9 171.3,320.9 171.8,320.9 172.3,320.9 172.8,320.9 173.3,320.9 173.3,321.9 173.3,325 176.4,534.3 176.5,534.7 176.6,535.2 176.7,535.6 176.8,536.1 176.9,536.5 177,537 177.3,537.3 177.7,537.7 178,538 178.3,538.3 178.7,538.7 179,539 179.3,539.3 179.7,539.7 180,540 180.5,540.1 181,540.2 181.4,540.2 181.9,540.3 182.4,540.4 182.9,540.5 183.4,540.6 183.9,540.6 184.3,540.7 184.8,540.8 185.3,540.9 185.8,541 186.3,541 186.8,541.1 187.2,541.2 187.7,541.3 188.2,541.3 188.7,541.4 189.2,541.5 189.7,541.6 190.1,541.7 190.6,541.7 191.1,541.8 191.6,541.9 192.1,542 192.6,542.1 193,542.1 193.5,542.2 194,542.3 194.5,542.4 194.9,542.5 195.4,542.6 195.8,542.7 196.3,542.8 196.8,542.9 197.2,542.9 197.7,543 198.2,543.1 198.6,543.2 199.1,543.3 199.5,543.4 200,543.5 200.5,543.5 201,543.6 201.5,543.6 201.9,543.6 202.4,543.7 202.9,543.7 203.4,543.7 203.9,543.8 204.4,543.8 204.8,543.8 205.3,543.9 205.8,543.9 206.3,543.9 206.8,544 207.3,544 207.7,544 208.2,544 208.7,544.1 209.2,544.1 209.7,544.1 210.2,544.2 210.6,544.2 211.1,544.2 211.6,544.3 212.1,544.3 212.6,544.3 213.1,544.4 213.5,544.4 214,544.4 214.5,544.5 215,544.5 215.5,544.5 216,544.5 216.5,544.5 217,544.5 217.5,544.5 218,544.5 218.5,544.5 219,544.5 219.5,544.5 220,544.5 220.5,544.5 221,544.5 221.5,544.5 222,544.5 222.5,544.5 223,544.5 223.5,544.5 224,544.5 224.5,544.5 225,544.5 225.5,544.5 226,544.5 226.5,544.5 227,544.5 227.5,544.5 228,544.5 228.5,544.5 229,544.5 229.5,544.5 230,544.5" fill="none" stroke="none" marker-start="url(#d0)" marker-mid="url(#d0)" marker-end="url(#d0)"/><polyline points="173.3,327.1 173.4,329.2 173.4,331.3 173.4,333.4 173.4,335.6 173.4,337.7 173.5,339.8 173.5,341.9 173.6,348.1 173.8,355.4 174,372.3 174.1,387.7 174.3,400 174.5,420.4 174.7,433.8 174.9,451.7 175,469.6 175.2,487.3 175.4,500.8 175.6,513.8 175.8,519.4 175.9,526.4 176.1,530.3 176.3,533.8" fill="none" stroke="none" marker-start="url(#s0)" marker-mid="url(#s0)" marker-end="url(#s0)"/><polyline points="30.1,320.9 98,320.9 101,323 103.8,326 105.3,336.9 106.7,351.5 108.9,366.1 109.6,376.3 111.1,386.5 110.7,398 111.4,410.1 112.1,423.4 112.7,436.8 113.4,450.2 114,467.7 114.7,485.1 115.4,498.4 116.1,511.8 117.4,525.2 119.5,533.5 123,539.5 128,543 135,544.2 146,544.3" fill="none" stroke="#c8669f" stroke-width="1.0"/><polyline points="30.1,320.9 30.6,320.9 31.1,320.9 31.6,320.9 32.1,320.9 32.6,320.9 33.1,320.9 33.6,320.9 34.1,320.9 34.6,320.9 35.1,320.9 35.6,320.9 36.1,320.9 36.6,320.9 37.1,320.9 37.6,320.9 38.1,320.9 38.6,320.9 39.1,320.9 39.6,320.9 40.1,320.9 40.6,320.9 41.1,320.9 41.6,320.9 42.1,320.9 42.6,320.9 43.1,320.9 43.6,320.9 44.1,320.9 44.6,320.9 45.1,320.9 45.6,320.9 46.1,320.9 46.6,320.9 47.1,320.9 47.6,320.9 48.1,320.9 48.6,320.9 49.1,320.9 49.6,320.9 50.1,320.9 50.6,320.9 51.1,320.9 51.6,320.9 52.1,320.9 52.6,320.9 53.1,320.9 53.6,320.9 54.1,320.9 54.6,320.9 55.1,320.9 55.6,320.9 56.1,320.9 56.6,320.9 57.1,320.9 57.6,320.9 58.1,320.9 58.6,320.9 59.1,320.9 59.6,320.9 60.1,320.9 60.6,320.9 61.1,320.9 61.6,320.9 62.1,320.9 62.6,320.9 63.1,320.9 63.6,320.9 64.1,320.9 64.5,320.9 65,320.9 65.5,320.9 66,320.9 66.5,320.9 67,320.9 67.5,320.9 68,320.9 68.5,320.9 69,320.9 69.5,320.9 70,320.9 70.5,320.9 71,320.9 71.5,320.9 72,320.9 72.5,320.9 73,320.9 73.5,320.9 74,320.9 74.5,320.9 75,320.9 75.5,320.9 76,320.9 76.5,320.9 77,320.9 77.5,320.9 78,320.9 78.5,320.9 79,320.9 79.5,320.9 80,320.9 80.5,320.9 81,320.9 81.5,320.9 82,320.9 82.5,320.9 83,320.9 83.5,320.9 84,320.9 84.5,320.9 85,320.9 85.5,320.9 86,320.9 86.5,320.9 87,320.9 87.5,320.9 88,320.9 88.5,320.9 89,320.9 89.5,320.9 90,320.9 90.5,320.9 91,320.9 91.5,320.9 92,320.9 92.5,320.9 93,320.9 93.5,320.9 94,320.9 94.5,320.9 95,320.9 95.5,320.9 96,320.9 96.5,320.9 97,320.9 97.5,320.9 98,320.9 98.4,321.2 98.8,321.4 99.1,321.7 99.5,321.9 99.9,322.2 100.2,322.5 100.6,322.7 101,323 101.3,323.3 101.6,323.7 101.9,324 102.2,324.3 102.6,324.7 102.9,325 103.2,325.3 103.5,325.7 103.8,326 103.9,326.8 104,327.6 104.1,328.3 104.2,329.1 104.3,329.9 104.4,330.7 104.5,331.4 104.7,332.2 104.8,333 104.9,333.8 105,334.6 105.1,335.3 105.2,336.1 105.3,336.9 105.4,338 105.5,339.1 105.6,340.3 105.7,341.4 105.8,342.5 105.9,343.6 106.1,344.8 106.2,345.9 106.3,347 106.4,348.1 106.5,349.3 106.6,350.4 106.7,351.5 106.8,352.2 106.9,353 107,353.7 107.1,354.4 107.2,355.1 107.4,355.9 107.5,356.6 107.6,357.3 107.7,358.1 107.8,358.8 107.9,359.5 108,360.3 108.1,361 108.2,361.7 108.4,362.5 108.5,363.2 108.6,363.9 108.7,364.6 108.8,365.4 108.9,366.1 109,368.2 109.2,370.8 109.3,371.5 109.5,374.2 109.5,374.8 109.6,376.3 109.7,377 109.8,377.8 109.9,378.5 110,379.2 110.1,379.9 110.2,380.7 110.3,381.4 110.5,382.1 110.6,382.9 110.7,383.6 110.8,384.3 110.9,385 111,385.8 111.1,386.5 111,389.3 110.9,391.6 110.8,394.8 110.7,398 110.8,399.4 110.8,400.3 111,402.5 111,403.7 111.1,404.6 111.1,405.6 111.2,406.2 111.2,407.4 111.3,408.9 111.4,410.1 111.6,413.3 111.7,414.9 111.8,417.2 111.8,418.4 111.9,420.2 112,420.8 112,422.2 112.1,422.8 112.1,423.4 112.2,426.3 112.3,427.8 112.4,430.4 112.6,434.9 112.7,436 112.7,436.8 112.8,438.9 112.9,441.2 113.1,444.7 113.2,446.7 113.3,449 113.4,450.2 113.6,455.4 113.7,457.7 113.8,462.3 113.9,466.2 114,467.7 114.1,470.3 114.2,472.6 114.2,473.5 114.3,474.8 114.3,475.8 114.5,480 114.6,481.8 114.6,483.3 114.7,484.4 114.7,485.1 114.9,488.7 115,491.6 115.1,493.2 115.2,494.6 115.3,496.2 115.4,498.3 115.4,498.4 115.5,500.5 115.6,502 115.8,506 116,510 116.1,511.8 116.2,512.9 116.3,514 116.4,515.1 116.5,516.3 116.6,517.4 116.8,518.5 116.9,519.6 117,520.7 117.1,521.9 117.2,523 117.3,524.1 117.4,525.2 117.5,525.7 117.6,526.1 117.8,526.6 117.9,527 118,527.5 118.1,528 118.2,528.4 118.3,528.9 118.5,529.4 118.6,529.8 118.7,530.3 118.8,530.7 118.9,531.2 119,531.7 119.2,532.1 119.3,532.6 119.4,533 119.5,533.5 119.8,533.9 120,534.4 120.2,534.8 120.5,535.2 120.8,535.6 121,536.1 121.2,536.5 121.5,536.9 121.8,537.4 122,537.8 122.2,538.2 122.5,538.6 122.8,539.1 123,539.5 123.4,539.8 123.8,540 124.2,540.3 124.5,540.6 124.9,540.8 125.3,541.1 125.7,541.4 126.1,541.7 126.5,541.9 126.8,542.2 127.2,542.5 127.6,542.7 128,543 128.5,543.1 128.9,543.2 129.4,543.2 129.9,543.3 130.3,543.4 130.8,543.5 131.3,543.6 131.7,543.6 132.2,543.7 132.7,543.8 133.1,543.9 133.6,544 134.1,544 134.5,544.1 135,544.2 135.5,544.2 136,544.2 136.4,544.2 136.9,544.2 137.4,544.2 137.9,544.2 138.3,544.2 138.8,544.2 139.3,544.2 139.8,544.2 140.3,544.2 140.7,544.3 141.2,544.3 141.7,544.3 142.2,544.3 142.7,544.3 143.1,544.3 143.6,544.3 144.1,544.3 144.6,544.3 145,544.3 145.5,544.3 146,544.3" fill="none" stroke="none" marker-start="url(#d1)" marker-mid="url(#d1)" marker-end="url(#d1)"/><polyline points="30.1,320.9 123,320.9 126,323 129.3,326 131.5,336.9 133,351.5 134.5,366.1 135.2,380.7 135.9,393.8 136.8,403.4 137.5,416.8 138.2,425 139.7,433.3 140.9,455 141,470 141,485 142.6,500 144.1,515 145.6,528 148.2,532.5 151,535.5 155,539.5 159,542.5 165,544 178,544.5" fill="none" stroke="#4aae44" stroke-width="1.0"/><polyline points="30.1,320.9 30.6,320.9 31.1,320.9 31.6,320.9 32.1,320.9 32.6,320.9 33.1,320.9 33.6,320.9 34.1,320.9 34.6,320.9 35.1,320.9 35.6,320.9 36.1,320.9 36.6,320.9 37.1,320.9 37.6,320.9 38.1,320.9 38.6,320.9 39.1,320.9 39.6,320.9 40.1,320.9 40.6,320.9 41.1,320.9 41.6,320.9 42.1,320.9 42.6,320.9 43.1,320.9 43.6,320.9 44.1,320.9 44.6,320.9 45.1,320.9 45.6,320.9 46.1,320.9 46.6,320.9 47.1,320.9 47.6,320.9 48.1,320.9 48.6,320.9 49.1,320.9 49.6,320.9 50.1,320.9 50.6,320.9 51.1,320.9 51.6,320.9 52.1,320.9 52.6,320.9 53.1,320.9 53.6,320.9 54.1,320.9 54.6,320.9 55.1,320.9 55.6,320.9 56.1,320.9 56.6,320.9 57.1,320.9 57.6,320.9 58.1,320.9 58.6,320.9 59.1,320.9 59.6,320.9 60.1,320.9 60.6,320.9 61.1,320.9 61.6,320.9 62.1,320.9 62.6,320.9 63.1,320.9 63.6,320.9 64.1,320.9 64.6,320.9 65.1,320.9 65.6,320.9 66.1,320.9 66.6,320.9 67.1,320.9 67.6,320.9 68.1,320.9 68.6,320.9 69.1,320.9 69.6,320.9 70.1,320.9 70.6,320.9 71.1,320.9 71.6,320.9 72.1,320.9 72.6,320.9 73.1,320.9 73.6,320.9 74.1,320.9 74.6,320.9 75.1,320.9 75.6,320.9 76.1,320.9 76.6,320.9 77,320.9 77.5,320.9 78,320.9 78.5,320.9 79,320.9 79.5,320.9 80,320.9 80.5,320.9 81,320.9 81.5,320.9 82,320.9 82.5,320.9 83,320.9 83.5,320.9 84,320.9 84.5,320.9 85,320.9 85.5,320.9 86,320.9 86.5,320.9 87,320.9 87.5,320.9 88,320.9 88.5,320.9 89,320.9 89.5,320.9 90,320.9 90.5,320.9 91,320.9 91.5,320.9 92,320.9 92.5,320.9 93,320.9 93.5,320.9 94,320.9 94.5,320.9 95,320.9 95.5,320.9 96,320.9 96.5,320.9 97,320.9 97.5,320.9 98,320.9 98.5,320.9 99,320.9 99.5,320.9 100,320.9 100.5,320.9 101,320.9 101.5,320.9 102,320.9 102.5,320.9 103,320.9 103.5,320.9 104,320.9 104.5,320.9 105,320.9 105.5,320.9 106,320.9 106.5,320.9 107,320.9 107.5,320.9 108,320.9 108.5,320.9 109,320.9 109.5,320.9 110,320.9 110.5,320.9 111,320.9 111.5,320.9 112,320.9 112.5,320.9 113,320.9 113.5,320.9 114,320.9 114.5,320.9 115,320.9 115.5,320.9 116,320.9 116.5,320.9 117,320.9 117.5,320.9 118,320.9 118.5,320.9 119,320.9 119.5,320.9 120,320.9 120.5,320.9 121,320.9 121.5,320.9 122,320.9 122.5,320.9 123,320.9 123.4,321.2 123.8,321.4 124.1,321.7 124.5,321.9 124.9,322.2 125.2,322.5 125.6,322.7 126,323 126.4,323.3 126.7,323.7 127.1,324 127.5,324.3 127.8,324.7 128.2,325 128.6,325.3 128.9,325.7 129.3,326 129.4,326.5 129.5,327.1 129.6,327.6 129.7,328.2 129.9,328.7 130,329.3 130.1,329.8 130.2,330.4 130.3,330.9 130.4,331.4 130.5,332 130.6,332.5 130.7,333.1 130.8,333.6 130.9,334.2 131.1,334.7 131.2,335.3 131.3,335.8 131.4,336.4 131.5,336.9 131.6,337.9 131.7,339 131.8,340 131.9,341.1 132,342.1 132.1,343.2 132.2,344.2 132.4,345.2 132.5,346.3 132.6,347.3 132.7,348.4 132.8,349.4 132.9,350.5 133,351.5 133.1,352.5 133.2,353.6 133.3,354.6 133.4,355.7 133.5,356.7 133.6,357.8 133.8,358.8 133.9,359.8 134,360.9 134.1,361.9 134.2,363 134.3,364 134.4,365.1 134.5,366.1 134.6,367.6 134.8,372 134.9,373.8 135,375.8 135,376.4 135.1,378.4 135.2,380.7 135.3,383 135.4,384.2 135.5,386.5 135.5,387.1 135.6,388.5 135.7,389.4 135.8,391.3 135.8,392 135.8,392.6 135.9,393.8 136,394.6 136.1,396 136.2,397.4 136.4,399.2 136.6,400.8 136.7,402.5 136.8,403.4 136.9,405.3 137,407 137.2,411.1 137.3,412.2 137.4,415.3 137.5,416.8 137.5,417.2 137.7,419.4 137.9,421.7 138.1,423.4 138.2,425 138.3,425.6 138.4,426.2 138.5,426.8 138.6,427.4 138.7,428 138.8,428.6 138.9,429.1 139.1,429.7 139.2,430.3 139.3,430.9 139.4,431.5 139.5,432.1 139.6,432.7 139.7,433.3 139.9,436.6 139.9,437.5 140.1,439.8 140.2,442 140.4,445.4 140.5,448.6 140.7,451.9 140.9,454.4 140.9,455 140.9,458.9 141,462.8 141,464.5 141,465.4 141,466.7 141,469 141,470 141,474.6 141,477.8 141,481.4 141,485 141.1,486 141.2,487 141.3,488 141.4,489 141.5,490 141.6,491 141.7,492 141.9,493 142,494 142.1,495 142.2,496 142.3,497 142.4,498 142.5,499 142.6,500 142.7,501.1 142.8,502.1 142.9,503.2 143,504.3 143.1,505.4 143.2,506.4 143.3,507.5 143.5,508.6 143.6,509.6 143.7,510.7 143.8,511.8 143.9,512.9 144,513.9 144.1,515 144.2,515.9 144.3,516.9 144.4,517.8 144.5,518.7 144.6,519.6 144.7,520.6 144.8,521.5 145,522.4 145.1,523.4 145.2,524.3 145.3,525.2 145.4,526.1 145.5,527.1 145.6,528 145.8,528.4 146.1,528.8 146.3,529.2 146.5,529.6 146.8,530 147,530.5 147.3,530.9 147.5,531.3 147.7,531.7 148,532.1 148.2,532.5 148.5,532.8 148.8,533.2 149.1,533.5 149.4,533.8 149.8,534.2 150.1,534.5 150.4,534.8 150.7,535.2 151,535.5 151.3,535.8 151.7,536.2 152,536.5 152.3,536.8 152.7,537.2 153,537.5 153.3,537.8 153.7,538.2 154,538.5 154.3,538.8 154.7,539.2 155,539.5 155.4,539.8 155.8,540.1 156.2,540.4 156.6,540.7 157,541 157.4,541.3 157.8,541.6 158.2,541.9 158.6,542.2 159,542.5 159.5,542.6 159.9,542.7 160.4,542.8 160.8,543 161.3,543.1 161.8,543.2 162.2,543.3 162.7,543.4 163.2,543.5 163.6,543.7 164.1,543.8 164.5,543.9 165,544 165.5,544 166,544 166.4,544.1 166.9,544.1 167.4,544.1 167.9,544.1 168.4,544.1 168.9,544.1 169.3,544.2 169.8,544.2 170.3,544.2 170.8,544.2 171.3,544.2 171.7,544.3 172.2,544.3 172.7,544.3 173.2,544.3 173.7,544.3 174.1,544.4 174.6,544.4 175.1,544.4 175.6,544.4 176.1,544.4 176.6,544.4 177,544.5 177.5,544.5 178,544.5" fill="none" stroke="none" marker-start="url(#d2)" marker-mid="url(#d2)" marker-end="url(#d2)"/><polyline points="30.1,320.9 69,320.9 73,323 79,326 85.5,331.1 89.9,338.4 92.1,347.1 95,357.3 98,367.6 103.8,377.8 108.9,386.5 113.3,393.8 115.4,398 118.8,407.4 124.1,416.8 128.8,426.1 131.5,435.5 134.8,446.2 138.2,456.9 140,470 142.6,480 146.6,490 149.1,500 152.1,510 157.1,520.2 163.1,528.2 167,532.5 171,535.5 176,537 186,539.5 200,541.5 203,544.5 212,544.5" fill="none" stroke="#8a86c2" stroke-width="1.0"/><polyline points="30.1,320.9 30.6,320.9 31.1,320.9 31.6,320.9 32.1,320.9 32.6,320.9 33.1,320.9 33.6,320.9 34.1,320.9 34.6,320.9 35.1,320.9 35.6,320.9 36.1,320.9 36.6,320.9 37.1,320.9 37.6,320.9 38.1,320.9 38.6,320.9 39.1,320.9 39.6,320.9 40.1,320.9 40.6,320.9 41.1,320.9 41.6,320.9 42.1,320.9 42.6,320.9 43.1,320.9 43.6,320.9 44.1,320.9 44.6,320.9 45.1,320.9 45.6,320.9 46.1,320.9 46.6,320.9 47.1,320.9 47.6,320.9 48.1,320.9 48.6,320.9 49.1,320.9 49.5,320.9 50,320.9 50.5,320.9 51,320.9 51.5,320.9 52,320.9 52.5,320.9 53,320.9 53.5,320.9 54,320.9 54.5,320.9 55,320.9 55.5,320.9 56,320.9 56.5,320.9 57,320.9 57.5,320.9 58,320.9 58.5,320.9 59,320.9 59.5,320.9 60,320.9 60.5,320.9 61,320.9 61.5,320.9 62,320.9 62.5,320.9 63,320.9 63.5,320.9 64,320.9 64.5,320.9 65,320.9 65.5,320.9 66,320.9 66.5,320.9 67,320.9 67.5,320.9 68,320.9 68.5,320.9 69,320.9 69.4,321.1 69.8,321.3 70.2,321.5 70.6,321.7 71,321.9 71.4,322.2 71.8,322.4 72.2,322.6 72.6,322.8 73,323 73.4,323.2 73.9,323.4 74.3,323.6 74.7,323.9 75.1,324.1 75.6,324.3 76,324.5 76.4,324.7 76.9,324.9 77.3,325.1 77.7,325.4 78.1,325.6 78.6,325.8 79,326 79.4,326.3 79.8,326.6 80.1,326.9 80.5,327.2 80.9,327.5 81.3,327.8 81.7,328.1 82.1,328.4 82.4,328.7 82.8,329 83.2,329.3 83.6,329.6 84,329.9 84.4,330.2 84.7,330.5 85.1,330.8 85.5,331.1 85.7,331.5 86,331.9 86.2,332.3 86.5,332.7 86.7,333.1 87,333.5 87.2,333.9 87.5,334.3 87.7,334.8 87.9,335.2 88.2,335.6 88.4,336 88.7,336.4 88.9,336.8 89.2,337.2 89.4,337.6 89.7,338 89.9,338.4 90,338.9 90.1,339.4 90.3,339.8 90.4,340.3 90.5,340.8 90.6,341.3 90.8,341.8 90.9,342.3 91,342.8 91.1,343.2 91.2,343.7 91.4,344.2 91.5,344.7 91.6,345.2 91.7,345.7 91.9,346.1 92,346.6 92.1,347.1 92.2,347.6 92.4,348 92.5,348.5 92.6,349 92.8,349.4 92.9,349.9 93,350.3 93.2,350.8 93.3,351.3 93.4,351.7 93.5,352.2 93.7,352.7 93.8,353.1 93.9,353.6 94.1,354.1 94.2,354.5 94.3,355 94.5,355.4 94.6,355.9 94.7,356.4 94.9,356.8 95,357.3 95.1,357.8 95.3,358.2 95.4,358.7 95.5,359.2 95.7,359.6 95.8,360.1 96,360.6 96.1,361 96.2,361.5 96.4,362 96.5,362.5 96.6,362.9 96.8,363.4 96.9,363.9 97,364.3 97.2,364.8 97.3,365.3 97.5,365.7 97.6,366.2 97.7,366.7 97.9,367.1 98,367.6 98.2,368 98.5,368.5 98.7,368.9 99,369.3 99.2,369.7 99.5,370.2 99.7,370.6 99.9,371 100.2,371.4 100.4,371.9 100.7,372.3 100.9,372.7 101.1,373.1 101.4,373.6 101.6,374 101.9,374.4 102.1,374.8 102.3,375.2 102.6,375.7 102.8,376.1 103.1,376.5 103.3,376.9 103.6,377.4 103.8,377.8 104,378.2 104.3,378.6 104.5,379 104.8,379.5 105,379.9 105.3,380.3 105.5,380.7 105.7,381.1 106,381.5 106.2,381.9 106.5,382.4 106.7,382.8 107,383.2 107.2,383.6 107.4,384 107.7,384.4 107.9,384.8 108.2,385.3 108.4,385.7 108.7,386.1 108.9,386.5 109.1,386.9 109.4,387.3 109.6,387.7 109.9,388.1 110.1,388.5 110.4,388.9 110.6,389.3 110.9,389.7 111.1,390.1 111.3,390.6 111.6,391 111.8,391.4 112.1,391.8 112.3,392.2 112.6,392.6 112.8,393 113.1,393.4 113.3,393.8 113.5,394.2 113.7,394.6 113.9,395.1 114.1,395.5 114.3,395.9 114.6,396.3 114.8,396.7 115,397.2 115.2,397.6 115.4,398 115.6,398.5 115.7,398.9 115.9,399.4 116.1,399.9 116.2,400.4 116.4,400.8 116.6,401.3 116.8,401.8 116.9,402.2 117.1,402.7 117.3,403.2 117.4,403.6 117.6,404.1 117.8,404.6 118,405 118.1,405.5 118.3,406 118.5,406.5 118.6,406.9 118.8,407.4 119,407.8 119.3,408.3 119.5,408.7 119.8,409.1 120,409.5 120.2,410 120.5,410.4 120.7,410.8 121,411.2 121.2,411.7 121.4,412.1 121.7,412.5 121.9,413 122.2,413.4 122.4,413.8 122.7,414.2 122.9,414.7 123.1,415.1 123.4,415.5 123.6,415.9 123.9,416.4 124.1,416.8 124.3,417.2 124.5,417.7 124.8,418.1 125,418.6 125.2,419 125.4,419.5 125.7,419.9 125.9,420.3 126.1,420.8 126.3,421.2 126.6,421.7 126.8,422.1 127,422.6 127.2,423 127.5,423.4 127.7,423.9 127.9,424.3 128.1,424.8 128.4,425.2 128.6,425.7 128.8,426.1 128.9,426.6 129.1,427 129.2,427.5 129.3,428 129.5,428.5 129.6,428.9 129.7,429.4 129.9,429.9 130,430.3 130.2,430.8 130.3,431.3 130.4,431.7 130.6,432.2 130.7,432.7 130.8,433.1 131,433.6 131.1,434.1 131.2,434.6 131.4,435 131.5,435.5 131.6,436 131.8,436.4 131.9,436.9 132.1,437.4 132.2,437.8 132.4,438.3 132.5,438.8 132.6,439.2 132.8,439.7 132.9,440.2 133.1,440.6 133.2,441.1 133.4,441.5 133.5,442 133.7,442.5 133.8,442.9 133.9,443.4 134.1,443.9 134.2,444.3 134.4,444.8 134.5,445.3 134.7,445.7 134.8,446.2 134.9,446.7 135.1,447.1 135.2,447.6 135.4,448.1 135.5,448.5 135.7,449 135.8,449.5 136,449.9 136.1,450.4 136.3,450.9 136.4,451.3 136.6,451.8 136.7,452.2 136.9,452.7 137,453.2 137.2,453.6 137.3,454.1 137.5,454.6 137.6,455 137.8,455.5 137.9,456 138.1,456.4 138.2,456.9 138.3,457.7 138.4,458.5 138.5,459.4 138.6,460.2 138.8,461 138.9,461.8 139,462.6 139.1,463.4 139.2,464.3 139.3,465.1 139.4,465.9 139.6,466.7 139.7,467.5 139.8,468.4 139.9,469.2 140,470 140.1,470.5 140.2,471 140.4,471.4 140.5,471.9 140.6,472.4 140.7,472.9 140.9,473.3 141,473.8 141.1,474.3 141.2,474.8 141.4,475.2 141.5,475.7 141.6,476.2 141.7,476.7 141.9,477.1 142,477.6 142.1,478.1 142.2,478.6 142.4,479 142.5,479.5 142.6,480 142.8,480.5 143,480.9 143.1,481.4 143.3,481.8 143.5,482.3 143.7,482.7 143.9,483.2 144.1,483.6 144.2,484.1 144.4,484.5 144.6,485 144.8,485.5 145,485.9 145.1,486.4 145.3,486.8 145.5,487.3 145.7,487.7 145.9,488.2 146.1,488.6 146.2,489.1 146.4,489.5 146.6,490 146.7,490.5 146.8,491 147,491.4 147.1,491.9 147.2,492.4 147.3,492.9 147.4,493.3 147.6,493.8 147.7,494.3 147.8,494.8 147.9,495.2 148,495.7 148.1,496.2 148.3,496.7 148.4,497.1 148.5,497.6 148.6,498.1 148.7,498.6 148.9,499 149,499.5 149.1,500 149.2,500.5 149.4,501 149.5,501.4 149.7,501.9 149.8,502.4 150,502.9 150.1,503.3 150.2,503.8 150.4,504.3 150.5,504.8 150.7,505.2 150.8,505.7 151,506.2 151.1,506.7 151.2,507.1 151.4,507.6 151.5,508.1 151.7,508.6 151.8,509 152,509.5 152.1,510 152.3,510.4 152.5,510.9 152.8,511.3 153,511.8 153.2,512.2 153.4,512.7 153.6,513.1 153.8,513.5 154.1,514 154.3,514.4 154.5,514.9 154.7,515.3 154.9,515.8 155.1,516.2 155.4,516.7 155.6,517.1 155.8,517.5 156,518 156.2,518.4 156.4,518.9 156.7,519.3 156.9,519.8 157.1,520.2 157.4,520.6 157.7,521 158,521.4 158.3,521.8 158.6,522.2 158.9,522.6 159.2,523 159.5,523.4 159.8,523.8 160.1,524.2 160.4,524.6 160.7,525 161,525.4 161.3,525.8 161.6,526.2 161.9,526.6 162.2,527 162.5,527.4 162.8,527.8 163.1,528.2 163.4,528.6 163.8,528.9 164.1,529.3 164.4,529.6 164.7,530 165.1,530.4 165.4,530.7 165.7,531.1 166,531.4 166.3,531.8 166.7,532.1 167,532.5 167.4,532.8 167.8,533.1 168.2,533.4 168.6,533.7 169,534 169.4,534.3 169.8,534.6 170.2,534.9 170.6,535.2 171,535.5 171.5,535.6 171.9,535.8 172.4,535.9 172.8,536 173.3,536.2 173.7,536.3 174.2,536.5 174.6,536.6 175.1,536.7 175.5,536.9 176,537 176.5,537.1 177,537.2 177.4,537.4 177.9,537.5 178.4,537.6 178.9,537.7 179.3,537.8 179.8,538 180.3,538.1 180.8,538.2 181.2,538.3 181.7,538.4 182.2,538.5 182.7,538.7 183.1,538.8 183.6,538.9 184.1,539 184.6,539.1 185,539.3 185.5,539.4 186,539.5 186.5,539.6 187,539.6 187.4,539.7 187.9,539.8 188.4,539.8 188.9,539.9 189.4,540 189.9,540.1 190.3,540.1 190.8,540.2 191.3,540.3 191.8,540.3 192.3,540.4 192.8,540.5 193.2,540.5 193.7,540.6 194.2,540.7 194.7,540.7 195.2,540.8 195.7,540.9 196.1,540.9 196.6,541 197.1,541.1 197.6,541.2 198.1,541.2 198.6,541.3 199,541.4 199.5,541.4 200,541.5 200.3,541.8 200.7,542.2 201,542.5 201.3,542.8 201.7,543.2 202,543.5 202.3,543.8 202.7,544.2 203,544.5 203.5,544.5 204,544.5 204.5,544.5 205,544.5 205.5,544.5 206,544.5 206.5,544.5 207,544.5 207.5,544.5 208,544.5 208.5,544.5 209,544.5 209.5,544.5 210,544.5 210.5,544.5 211,544.5 211.5,544.5 212,544.5" fill="none" stroke="none" marker-start="url(#d3)" marker-mid="url(#d3)" marker-end="url(#d3)"/><polyline points="30.1,320.9 202.7,320.9 202.7,325 202.9,353.5 203,360.2 203.2,365.4 203.3,370.8 203.5,376.2 203.6,382.3 203.8,389 203.9,403.1 204.1,410.2 204.2,421.5 204.4,434.4 204.6,452.7 204.7,469 204.9,483.1 205,495.4 205.2,510.4 205.3,519 205.5,524.8 205.6,528 205.6,541 213,541.3 214,543.5 218,543.5 219,544.4 271,544.6" fill="none" stroke="#38b493" stroke-width="1.0"/><polyline points="30.1,320.9 30.6,320.9 31.1,320.9 31.6,320.9 32.1,320.9 32.6,320.9 33.1,320.9 33.6,320.9 34.1,320.9 34.6,320.9 35.1,320.9 35.6,320.9 36.1,320.9 36.6,320.9 37.1,320.9 37.6,320.9 38.1,320.9 38.6,320.9 39.1,320.9 39.6,320.9 40.1,320.9 40.6,320.9 41.1,320.9 41.6,320.9 42.1,320.9 42.6,320.9 43.1,320.9 43.6,320.9 44.1,320.9 44.6,320.9 45.1,320.9 45.6,320.9 46.1,320.9 46.6,320.9 47.1,320.9 47.6,320.9 48.1,320.9 48.6,320.9 49.1,320.9 49.6,320.9 50.1,320.9 50.6,320.9 51.1,320.9 51.6,320.9 52,320.9 52.5,320.9 53,320.9 53.5,320.9 54,320.9 54.5,320.9 55,320.9 55.5,320.9 56,320.9 56.5,320.9 57,320.9 57.5,320.9 58,320.9 58.5,320.9 59,320.9 59.5,320.9 60,320.9 60.5,320.9 61,320.9 61.5,320.9 62,320.9 62.5,320.9 63,320.9 63.5,320.9 64,320.9 64.5,320.9 65,320.9 65.5,320.9 66,320.9 66.5,320.9 67,320.9 67.5,320.9 68,320.9 68.5,320.9 69,320.9 69.5,320.9 70,320.9 70.5,320.9 71,320.9 71.5,320.9 72,320.9 72.5,320.9 73,320.9 73.5,320.9 74,320.9 74.5,320.9 75,320.9 75.5,320.9 76,320.9 76.5,320.9 77,320.9 77.5,320.9 78,320.9 78.5,320.9 79,320.9 79.5,320.9 80,320.9 80.5,320.9 81,320.9 81.5,320.9 82,320.9 82.5,320.9 83,320.9 83.5,320.9 84,320.9 84.5,320.9 85,320.9 85.5,320.9 86,320.9 86.5,320.9 87,320.9 87.5,320.9 88,320.9 88.5,320.9 89,320.9 89.5,320.9 90,320.9 90.5,320.9 91,320.9 91.5,320.9 92,320.9 92.5,320.9 93,320.9 93.5,320.9 94,320.9 94.5,320.9 94.9,320.9 95.4,320.9 95.9,320.9 96.4,320.9 96.9,320.9 97.4,320.9 97.9,320.9 98.4,320.9 98.9,320.9 99.4,320.9 99.9,320.9 100.4,320.9 100.9,320.9 101.4,320.9 101.9,320.9 102.4,320.9 102.9,320.9 103.4,320.9 103.9,320.9 104.4,320.9 104.9,320.9 105.4,320.9 105.9,320.9 106.4,320.9 106.9,320.9 107.4,320.9 107.9,320.9 108.4,320.9 108.9,320.9 109.4,320.9 109.9,320.9 110.4,320.9 110.9,320.9 111.4,320.9 111.9,320.9 112.4,320.9 112.9,320.9 113.4,320.9 113.9,320.9 114.4,320.9 114.9,320.9 115.4,320.9 115.9,320.9 116.4,320.9 116.9,320.9 117.4,320.9 117.9,320.9 118.4,320.9 118.9,320.9 119.4,320.9 119.9,320.9 120.4,320.9 120.9,320.9 121.4,320.9 121.9,320.9 122.4,320.9 122.9,320.9 123.4,320.9 123.9,320.9 124.4,320.9 124.9,320.9 125.4,320.9 125.9,320.9 126.4,320.9 126.9,320.9 127.4,320.9 127.9,320.9 128.4,320.9 128.9,320.9 129.4,320.9 129.9,320.9 130.4,320.9 130.9,320.9 131.4,320.9 131.9,320.9 132.4,320.9 132.9,320.9 133.4,320.9 133.9,320.9 134.4,320.9 134.9,320.9 135.4,320.9 135.9,320.9 136.4,320.9 136.9,320.9 137.4,320.9 137.9,320.9 138.3,320.9 138.8,320.9 139.3,320.9 139.8,320.9 140.3,320.9 140.8,320.9 141.3,320.9 141.8,320.9 142.3,320.9 142.8,320.9 143.3,320.9 143.8,320.9 144.3,320.9 144.8,320.9 145.3,320.9 145.8,320.9 146.3,320.9 146.8,320.9 147.3,320.9 147.8,320.9 148.3,320.9 148.8,320.9 149.3,320.9 149.8,320.9 150.3,320.9 150.8,320.9 151.3,320.9 151.8,320.9 152.3,320.9 152.8,320.9 153.3,320.9 153.8,320.9 154.3,320.9 154.8,320.9 155.3,320.9 155.8,320.9 156.3,320.9 156.8,320.9 157.3,320.9 157.8,320.9 158.3,320.9 158.8,320.9 159.3,320.9 159.8,320.9 160.3,320.9 160.8,320.9 161.3,320.9 161.8,320.9 162.3,320.9 162.8,320.9 163.3,320.9 163.8,320.9 164.3,320.9 164.8,320.9 165.3,320.9 165.8,320.9 166.3,320.9 166.8,320.9 167.3,320.9 167.8,320.9 168.3,320.9 168.8,320.9 169.3,320.9 169.8,320.9 170.3,320.9 170.8,320.9 171.3,320.9 171.8,320.9 172.3,320.9 172.8,320.9 173.3,320.9 173.8,320.9 174.3,320.9 174.8,320.9 175.3,320.9 175.8,320.9 176.3,320.9 176.8,320.9 177.3,320.9 177.8,320.9 178.3,320.9 178.8,320.9 179.3,320.9 179.8,320.9 180.3,320.9 180.8,320.9 181.2,320.9 181.7,320.9 182.2,320.9 182.7,320.9 183.2,320.9 183.7,320.9 184.2,320.9 184.7,320.9 185.2,320.9 185.7,320.9 186.2,320.9 186.7,320.9 187.2,320.9 187.7,320.9 188.2,320.9 188.7,320.9 189.2,320.9 189.7,320.9 190.2,320.9 190.7,320.9 191.2,320.9 191.7,320.9 192.2,320.9 192.7,320.9 193.2,320.9 193.7,320.9 194.2,320.9 194.7,320.9 195.2,320.9 195.7,320.9 196.2,320.9 196.7,320.9 197.2,320.9 197.7,320.9 198.2,320.9 198.7,320.9 199.2,320.9 199.7,320.9 200.2,320.9 200.7,320.9 201.2,320.9 201.7,320.9 202.2,320.9 202.7,320.9 202.7,324.7 202.7,325 205.5,525.5 205.6,528 206.1,541 206.6,541 207.1,541.1 207.6,541.1 208.1,541.1 208.6,541.1 209.1,541.1 209.5,541.2 210,541.2 210.5,541.2 211,541.2 211.5,541.2 212,541.3 212.5,541.3 213,541.3 213.2,541.7 213.4,542.2 213.6,542.6 213.8,543.1 214,543.5 214.5,543.5 215,543.5 215.5,543.5 216,543.5 216.5,543.5 217,543.5 217.5,543.5 218,543.5 218.3,543.8 218.7,544.1 219,544.4 219.5,544.4 220,544.4 220.5,544.4 221,544.4 221.5,544.4 222,544.4 222.5,544.4 223,544.4 223.5,544.4 224,544.4 224.4,544.4 224.9,544.4 225.4,544.4 225.9,544.4 226.4,544.4 226.9,544.4 227.4,544.4 227.9,544.4 228.4,544.4 228.9,544.4 229.4,544.4 229.9,544.4 230.4,544.4 230.9,544.4 231.4,544.4 231.9,544.4 232.4,544.5 232.9,544.5 233.4,544.5 233.9,544.5 234.4,544.5 234.8,544.5 235.3,544.5 235.8,544.5 236.3,544.5 236.8,544.5 237.3,544.5 237.8,544.5 238.3,544.5 238.8,544.5 239.3,544.5 239.8,544.5 240.3,544.5 240.8,544.5 241.3,544.5 241.8,544.5 242.3,544.5 242.8,544.5 243.3,544.5 243.8,544.5 244.3,544.5 244.8,544.5 245.2,544.5 245.7,544.5 246.2,544.5 246.7,544.5 247.2,544.5 247.7,544.5 248.2,544.5 248.7,544.5 249.2,544.5 249.7,544.5 250.2,544.5 250.7,544.5 251.2,544.5 251.7,544.5 252.2,544.5 252.7,544.5 253.2,544.5 253.7,544.5 254.2,544.5 254.7,544.5 255.2,544.5 255.6,544.5 256.1,544.5 256.6,544.5 257.1,544.5 257.6,544.5 258.1,544.6 258.6,544.6 259.1,544.6 259.6,544.6 260.1,544.6 260.6,544.6 261.1,544.6 261.6,544.6 262.1,544.6 262.6,544.6 263.1,544.6 263.6,544.6 264.1,544.6 264.6,544.6 265.1,544.6 265.6,544.6 266,544.6 266.5,544.6 267,544.6 267.5,544.6 268,544.6 268.5,544.6 269,544.6 269.5,544.6 270,544.6 270.5,544.6 271,544.6" fill="none" stroke="none" marker-start="url(#d4)" marker-mid="url(#d4)" marker-end="url(#d4)"/><polyline points="202.7,328.6 202.8,332.1 202.8,335.7 202.8,339.2 202.8,342.8 202.8,346.4 202.9,349.9 202.9,353.5 203,360.2 203.2,365.4 203.3,370.8 203.5,376.2 203.6,382.3 203.8,389 203.9,403.1 204.1,410.2 204.2,421.5 204.4,434.4 204.6,452.7 204.7,469 204.9,483.1 205,495.4 205.2,510.4 205.3,519 205.5,524.8 205.6,530.6 205.6,533.2 205.6,535.8 205.6,538.4 205.6,541" fill="none" stroke="none" marker-start="url(#s4)" marker-mid="url(#s4)" marker-end="url(#s4)"/><polyline points="30.1,320.9 161.2,320.9 161.2,325 161.2,335 161.3,339 161.4,349.2 161.6,356.9 161.7,368.5 161.8,377.5 161.9,394.8 162.1,408.3 162.2,426.5 162.3,455.2 162.5,477.3 162.6,502.7 162.7,518.1 162.8,528.1 163,533.4 163.1,537.3 163.1,540 164,542 183,542 185,544.5 202.5,544.5" fill="none" stroke="#0000ff" stroke-width="1.0"/><polyline points="30.1,320.9 30.6,320.9 31.1,320.9 31.6,320.9 32.1,320.9 32.6,320.9 33.1,320.9 33.6,320.9 34.1,320.9 34.6,320.9 35.1,320.9 35.6,320.9 36.1,320.9 36.6,320.9 37.1,320.9 37.6,320.9 38.1,320.9 38.6,320.9 39.1,320.9 39.6,320.9 40.1,320.9 40.6,320.9 41.1,320.9 41.6,320.9 42.1,320.9 42.6,320.9 43.1,320.9 43.6,320.9 44.1,320.9 44.6,320.9 45.1,320.9 45.6,320.9 46.1,320.9 46.5,320.9 47,320.9 47.5,320.9 48,320.9 48.5,320.9 49,320.9 49.5,320.9 50,320.9 50.5,320.9 51,320.9 51.5,320.9 52,320.9 52.5,320.9 53,320.9 53.5,320.9 54,320.9 54.5,320.9 55,320.9 55.5,320.9 56,320.9 56.5,320.9 57,320.9 57.5,320.9 58,320.9 58.5,320.9 59,320.9 59.5,320.9 60,320.9 60.5,320.9 61,320.9 61.5,320.9 62,320.9 62.5,320.9 63,320.9 63.5,320.9 64,320.9 64.5,320.9 65,320.9 65.5,320.9 66,320.9 66.5,320.9 67,320.9 67.5,320.9 68,320.9 68.5,320.9 69,320.9 69.5,320.9 70,320.9 70.5,320.9 71,320.9 71.5,320.9 72,320.9 72.5,320.9 73,320.9 73.5,320.9 74,320.9 74.5,320.9 75,320.9 75.5,320.9 76,320.9 76.5,320.9 77,320.9 77.5,320.9 78,320.9 78.5,320.9 79,320.9 79.4,320.9 79.9,320.9 80.4,320.9 80.9,320.9 81.4,320.9 81.9,320.9 82.4,320.9 82.9,320.9 83.4,320.9 83.9,320.9 84.4,320.9 84.9,320.9 85.4,320.9 85.9,320.9 86.4,320.9 86.9,320.9 87.4,320.9 87.9,320.9 88.4,320.9 88.9,320.9 89.4,320.9 89.9,320.9 90.4,320.9 90.9,320.9 91.4,320.9 91.9,320.9 92.4,320.9 92.9,320.9 93.4,320.9 93.9,320.9 94.4,320.9 94.9,320.9 95.4,320.9 95.9,320.9 96.4,320.9 96.9,320.9 97.4,320.9 97.9,320.9 98.4,320.9 98.9,320.9 99.4,320.9 99.9,320.9 100.4,320.9 100.9,320.9 101.4,320.9 101.9,320.9 102.4,320.9 102.9,320.9 103.4,320.9 103.9,320.9 104.4,320.9 104.9,320.9 105.4,320.9 105.9,320.9 106.4,320.9 106.9,320.9 107.4,320.9 107.9,320.9 108.4,320.9 108.9,320.9 109.4,320.9 109.9,320.9 110.4,320.9 110.9,320.9 111.4,320.9 111.9,320.9 112.3,320.9 112.8,320.9 113.3,320.9 113.8,320.9 114.3,320.9 114.8,320.9 115.3,320.9 115.8,320.9 116.3,320.9 116.8,320.9 117.3,320.9 117.8,320.9 118.3,320.9 118.8,320.9 119.3,320.9 119.8,320.9 120.3,320.9 120.8,320.9 121.3,320.9 121.8,320.9 122.3,320.9 122.8,320.9 123.3,320.9 123.8,320.9 124.3,320.9 124.8,320.9 125.3,320.9 125.8,320.9 126.3,320.9 126.8,320.9 127.3,320.9 127.8,320.9 128.3,320.9 128.8,320.9 129.3,320.9 129.8,320.9 130.3,320.9 130.8,320.9 131.3,320.9 131.8,320.9 132.3,320.9 132.8,320.9 133.3,320.9 133.8,320.9 134.3,320.9 134.8,320.9 135.3,320.9 135.8,320.9 136.3,320.9 136.8,320.9 137.3,320.9 137.8,320.9 138.3,320.9 138.8,320.9 139.3,320.9 139.8,320.9 140.3,320.9 140.8,320.9 141.3,320.9 141.8,320.9 142.3,320.9 142.8,320.9 143.3,320.9 143.8,320.9 144.3,320.9 144.8,320.9 145.2,320.9 145.7,320.9 146.2,320.9 146.7,320.9 147.2,320.9 147.7,320.9 148.2,320.9 148.7,320.9 149.2,320.9 149.7,320.9 150.2,320.9 150.7,320.9 151.2,320.9 151.7,320.9 152.2,320.9 152.7,320.9 153.2,320.9 153.7,320.9 154.2,320.9 154.7,320.9 155.2,320.9 155.7,320.9 156.2,320.9 156.7,320.9 157.2,320.9 157.7,320.9 158.2,320.9 158.7,320.9 159.2,320.9 159.7,320.9 160.2,320.9 160.7,320.9 161.2,320.9 161.2,325 163.1,540 163.3,540.4 163.5,540.8 163.6,541.2 163.8,541.6 164,542 164.5,542 165,542 165.5,542 166,542 166.5,542 167,542 167.5,542 168,542 168.5,542 169,542 169.5,542 170,542 170.5,542 171,542 171.5,542 172,542 172.5,542 173,542 173.5,542 174,542 174.5,542 175,542 175.5,542 176,542 176.5,542 177,542 177.5,542 178,542 178.5,542 179,542 179.5,542 180,542 180.5,542 181,542 181.5,542 182,542 182.5,542 183,542 183.3,542.4 183.6,542.7 183.9,543.1 184.1,543.4 184.4,543.8 184.7,544.1 185,544.5 185.5,544.5 186,544.5 186.5,544.5 187,544.5 187.5,544.5 188,544.5 188.5,544.5 189,544.5 189.5,544.5 190,544.5 190.5,544.5 191,544.5 191.5,544.5 192,544.5 192.5,544.5 193,544.5 193.5,544.5 194,544.5 194.5,544.5 195,544.5 195.5,544.5 196,544.5 196.5,544.5 197,544.5 197.5,544.5 198,544.5 198.5,544.5 199,544.5 199.5,544.5 200,544.5 200.5,544.5 201,544.5 201.5,544.5 202,544.5 202.5,544.5" fill="none" stroke="none" marker-start="url(#d5)" marker-mid="url(#d5)" marker-end="url(#d5)"/><polyline points="161.2,326.2 161.2,327.5 161.2,328.8 161.2,330 161.2,331.2 161.2,332.5 161.2,333.8 161.2,335 161.3,339 161.4,349.2 161.6,356.9 161.7,368.5 161.8,377.5 161.9,394.8 162.1,408.3 162.2,426.5 162.3,455.2 162.5,477.3 162.6,502.7 162.7,518.1 162.8,528.1 163,533.4 163.1,537.3" fill="none" stroke="none" marker-start="url(#s5)" marker-mid="url(#s5)" marker-end="url(#s5)"/><text x="30.1" y="556.5" text-anchor="middle">0</text><text x="86.7" y="556.5" text-anchor="middle">500</text><text x="143.4" y="556.5" text-anchor="middle">1000</text><text x="200" y="556.5" text-anchor="middle">1500</text><text x="256.6" y="556.5" text-anchor="middle">2000</text><text x="313.2" y="556.5" text-anchor="middle">2500</text><text x="26.3" y="548.1" text-anchor="end">0</text><text x="26.3" y="527.8" text-anchor="end">20</text><text x="26.3" y="507.5" text-anchor="end">40</text><text x="26.3" y="487.1" text-anchor="end">60</text><text x="26.3" y="466.8" text-anchor="end">80</text><text x="26.3" y="446.5" text-anchor="end">100</text><text x="26.3" y="426.2" text-anchor="end">120</text><text x="26.3" y="405.9" text-anchor="end">140</text><text x="26.3" y="385.5" text-anchor="end">160</text><text x="26.3" y="365.2" text-anchor="end">180</text><text x="26.3" y="344.9" text-anchor="end">200</text><text x="26.3" y="324.6" text-anchor="end">220</text><text x="171.9" y="569.8" text-anchor="middle" font-size="9.4">Rounds</text><text transform="translate(6.9,432.7) rotate(-90) scale(1.04,1)" text-anchor="middle" font-size="9.4">The Number of Alive Nodes</text><rect x="240.5" y="327.5" width="66" height="66.6" fill="#fff" stroke="#666" stroke-width="1"/><path d="M242.3 334.3H268.6" stroke="#ef6b5e" stroke-width="1.0"/><path d="M255.5 330.7l2.6 3.6l-2.6 3.6l-2.6 -3.6Z" fill="none" stroke="#ef6b5e" stroke-width="1.0"/><text x="270.8" y="337.2" font-size="8">CMSTR</text><path d="M242.3 345.1H268.6" stroke="#c8669f" stroke-width="1.0"/><path d="M255.5 341.5l2.6 3.6l-2.6 3.6l-2.6 -3.6Z" fill="none" stroke="#c8669f" stroke-width="1.0"/><text x="270.8" y="348" font-size="8">D2CRP</text><path d="M242.3 355.9H268.6" stroke="#4aae44" stroke-width="1.0"/><path d="M255.5 352.3l2.6 3.6l-2.6 3.6l-2.6 -3.6Z" fill="none" stroke="#4aae44" stroke-width="1.0"/><text x="270.8" y="358.8" font-size="8">EEHCHR</text><path d="M242.3 366.6H268.6" stroke="#8a86c2" stroke-width="1.0"/><path d="M255.5 363l2.6 3.6l-2.6 3.6l-2.6 -3.6Z" fill="none" stroke="#8a86c2" stroke-width="1.0"/><text x="270.8" y="369.5" font-size="8">ESCVAD</text><path d="M242.3 377.4H268.6" stroke="#38b493" stroke-width="1.0"/><path d="M255.5 373.8l2.6 3.6l-2.6 3.6l-2.6 -3.6Z" fill="none" stroke="#38b493" stroke-width="1.0"/><text x="270.8" y="380.3" font-size="8">GAAFSA</text><path d="M242.3 388.2H268.6" stroke="#0000ff" stroke-width="1.0"/><path d="M255.5 384.6l2.6 3.6l-2.6 3.6l-2.6 -3.6Z" fill="none" stroke="#0000ff" stroke-width="1.0"/><text x="270.8" y="391.1" font-size="8">BAFSA</text><text x="92.9" y="594.6" font-family="&quot;Liberation Serif&quot;, serif" font-size="13.5" fill="#111">(c)</text><text x="114.2" y="594.6" font-family="&quot;Liberation Serif&quot;, serif" font-size="13.5" fill="#111">Experiment Scenario 3</text></g>
<g font-family="&quot;Liberation Sans&quot;, sans-serif" font-size="8.6" fill="#262626"><path d="M390.5 320.5H673.5V544.5H390.5Z" fill="none" stroke="#666" stroke-width="1"/><path d="M390.5 544.5v-2.6M390.5 320.5v2.6M447.1 544.5v-2.6M447.1 320.5v2.6M503.7 544.5v-2.6M503.7 320.5v2.6M560.3 544.5v-2.6M560.3 320.5v2.6M616.9 544.5v-2.6M616.9 320.5v2.6M673.5 544.5v-2.6M673.5 320.5v2.6M390.5 544.1h2.6M673.5 544.1h-2.6M390.5 497.6h2.6M673.5 497.6h-2.6M390.5 451h2.6M673.5 451h-2.6M390.5 404.5h2.6M673.5 404.5h-2.6M390.5 357.9h2.6M673.5 357.9h-2.6" stroke="#444" stroke-width="1" fill="none"/><polyline points="390.5,320.8 534.2,320.8 534.2,325 534.4,352.5 534.5,356.9 534.6,362.7 534.8,367.3 534.9,376.5 535,384.6 535.2,398.1 535.3,414 535.5,439.2 535.6,455 535.7,475.8 535.9,501.7 536,508.5 536.1,515.2 536.3,523.8 536.4,530.6 536.6,535 540,538.5 550,540.3 566,540.5 570,546 592,544.1" fill="none" stroke="#ef6b5e" stroke-width="1.0"/><polyline points="390.5,320.8 391,320.8 391.5,320.8 392,320.8 392.5,320.8 393,320.8 393.5,320.8 394,320.8 394.5,320.8 395,320.8 395.5,320.8 396,320.8 396.5,320.8 397,320.8 397.5,320.8 398,320.8 398.5,320.8 399,320.8 399.5,320.8 400,320.8 400.5,320.8 401,320.8 401.5,320.8 402,320.8 402.5,320.8 403,320.8 403.5,320.8 404,320.8 404.5,320.8 405,320.8 405.5,320.8 406,320.8 406.5,320.8 407,320.8 407.5,320.8 408,320.8 408.5,320.8 409,320.8 409.5,320.8 410,320.8 410.5,320.8 411,320.8 411.5,320.8 412,320.8 412.5,320.8 413,320.8 413.5,320.8 414,320.8 414.4,320.8 414.9,320.8 415.4,320.8 415.9,320.8 416.4,320.8 416.9,320.8 417.4,320.8 417.9,320.8 418.4,320.8 418.9,320.8 419.4,320.8 419.9,320.8 420.4,320.8 420.9,320.8 421.4,320.8 421.9,320.8 422.4,320.8 422.9,320.8 423.4,320.8 423.9,320.8 424.4,320.8 424.9,320.8 425.4,320.8 425.9,320.8 426.4,320.8 426.9,320.8 427.4,320.8 427.9,320.8 428.4,320.8 428.9,320.8 429.4,320.8 429.9,320.8 430.4,320.8 430.9,320.8 431.4,320.8 431.9,320.8 432.4,320.8 432.9,320.8 433.4,320.8 433.9,320.8 434.4,320.8 434.9,320.8 435.4,320.8 435.9,320.8 436.4,320.8 436.9,320.8 437.4,320.8 437.9,320.8 438.4,320.8 438.9,320.8 439.4,320.8 439.9,320.8 440.4,320.8 440.9,320.8 441.4,320.8 441.9,320.8 442.4,320.8 442.9,320.8 443.4,320.8 443.9,320.8 444.4,320.8 444.9,320.8 445.4,320.8 445.9,320.8 446.4,320.8 446.9,320.8 447.4,320.8 447.9,320.8 448.4,320.8 448.9,320.8 449.4,320.8 449.9,320.8 450.4,320.8 450.9,320.8 451.4,320.8 451.9,320.8 452.4,320.8 452.9,320.8 453.4,320.8 453.9,320.8 454.4,320.8 454.9,320.8 455.4,320.8 455.9,320.8 456.4,320.8 456.9,320.8 457.4,320.8 457.9,320.8 458.4,320.8 458.9,320.8 459.4,320.8 459.9,320.8 460.4,320.8 460.9,320.8 461.4,320.8 461.9,320.8 462.4,320.8 462.8,320.8 463.3,320.8 463.8,320.8 464.3,320.8 464.8,320.8 465.3,320.8 465.8,320.8 466.3,320.8 466.8,320.8 467.3,320.8 467.8,320.8 468.3,320.8 468.8,320.8 469.3,320.8 469.8,320.8 470.3,320.8 470.8,320.8 471.3,320.8 471.8,320.8 472.3,320.8 472.8,320.8 473.3,320.8 473.8,320.8 474.3,320.8 474.8,320.8 475.3,320.8 475.8,320.8 476.3,320.8 476.8,320.8 477.3,320.8 477.8,320.8 478.3,320.8 478.8,320.8 479.3,320.8 479.8,320.8 480.3,320.8 480.8,320.8 481.3,320.8 481.8,320.8 482.3,320.8 482.8,320.8 483.3,320.8 483.8,320.8 484.3,320.8 484.8,320.8 485.3,320.8 485.8,320.8 486.3,320.8 486.8,320.8 487.3,320.8 487.8,320.8 488.3,320.8 488.8,320.8 489.3,320.8 489.8,320.8 490.3,320.8 490.8,320.8 491.3,320.8 491.8,320.8 492.3,320.8 492.8,320.8 493.3,320.8 493.8,320.8 494.3,320.8 494.8,320.8 495.3,320.8 495.8,320.8 496.3,320.8 496.8,320.8 497.3,320.8 497.8,320.8 498.3,320.8 498.8,320.8 499.3,320.8 499.8,320.8 500.3,320.8 500.8,320.8 501.3,320.8 501.8,320.8 502.3,320.8 502.8,320.8 503.3,320.8 503.8,320.8 504.3,320.8 504.8,320.8 505.3,320.8 505.8,320.8 506.3,320.8 506.8,320.8 507.3,320.8 507.8,320.8 508.3,320.8 508.8,320.8 509.3,320.8 509.8,320.8 510.3,320.8 510.7,320.8 511.2,320.8 511.7,320.8 512.2,320.8 512.7,320.8 513.2,320.8 513.7,320.8 514.2,320.8 514.7,320.8 515.2,320.8 515.7,320.8 516.2,320.8 516.7,320.8 517.2,320.8 517.7,320.8 518.2,320.8 518.7,320.8 519.2,320.8 519.7,320.8 520.2,320.8 520.7,320.8 521.2,320.8 521.7,320.8 522.2,320.8 522.7,320.8 523.2,320.8 523.7,320.8 524.2,320.8 524.7,320.8 525.2,320.8 525.7,320.8 526.2,320.8 526.7,320.8 527.2,320.8 527.7,320.8 528.2,320.8 528.7,320.8 529.2,320.8 529.7,320.8 530.2,320.8 530.7,320.8 531.2,320.8 531.7,320.8 532.2,320.8 532.7,320.8 533.2,320.8 533.7,320.8 534.2,320.8 534.2,323.8 534.2,325 536.6,533.9 536.6,534.8 536.6,535 536.9,535.4 537.3,535.7 537.6,536 538,536.4 538.3,536.8 538.6,537.1 539,537.5 539.3,537.8 539.7,538.1 540,538.5 540.5,538.6 541,538.7 541.4,538.8 541.9,538.8 542.4,538.9 542.9,539 543.3,539.1 543.8,539.2 544.3,539.3 544.8,539.4 545.2,539.4 545.7,539.5 546.2,539.6 546.7,539.7 547.1,539.8 547.6,539.9 548.1,540 548.6,540 549,540.1 549.5,540.2 550,540.3 550.5,540.3 551,540.3 551.5,540.3 551.9,540.3 552.4,540.3 552.9,540.3 553.4,540.3 553.9,540.3 554.4,540.4 554.8,540.4 555.3,540.4 555.8,540.4 556.3,540.4 556.8,540.4 557.3,540.4 557.8,540.4 558.2,540.4 558.7,540.4 559.2,540.4 559.7,540.4 560.2,540.4 560.7,540.4 561.2,540.4 561.6,540.4 562.1,540.5 562.6,540.5 563.1,540.5 563.6,540.5 564.1,540.5 564.5,540.5 565,540.5 565.5,540.5 566,540.5 566.3,540.9 566.6,541.3 566.9,541.7 567.1,542.1 567.4,542.5 567.7,542.9 568,543.2 568.3,543.6 568.6,544 568.9,544.4 569.1,544.8 569.4,545.2 569.7,545.6 570,546 570.5,546 571,545.9 571.5,545.9 572,545.8 572.4,545.8 572.9,545.7 573.4,545.7 573.9,545.7 574.4,545.6 574.9,545.6 575.4,545.5 575.9,545.5 576.4,545.5 576.8,545.4 577.3,545.4 577.8,545.3 578.3,545.3 578.8,545.2 579.3,545.2 579.8,545.2 580.3,545.1 580.8,545.1 581.2,545 581.7,545 582.2,544.9 582.7,544.9 583.2,544.9 583.7,544.8 584.2,544.8 584.7,544.7 585.2,544.7 585.6,544.6 586.1,544.6 586.6,544.6 587.1,544.5 587.6,544.5 588.1,544.4 588.6,544.4 589.1,544.4 589.6,544.3 590,544.3 590.5,544.2 591,544.2 591.5,544.1 592,544.1" fill="none" stroke="none" marker-start="url(#d0)" marker-mid="url(#d0)" marker-end="url(#d0)"/><polyline points="534.2,327.5 534.2,330 534.3,332.5 534.3,335 534.3,337.5 534.3,340 534.3,342.5 534.3,345 534.4,347.5 534.4,350 534.4,352.5 534.5,356.9 534.6,362.7 534.8,367.3 534.9,376.5 535,384.6 535.2,398.1 535.3,414 535.5,439.2 535.6,455 535.7,475.8 535.9,501.7 536,508.5 536.1,515.2 536.3,523.8 536.4,530.6" fill="none" stroke="none" marker-start="url(#s0)" marker-mid="url(#s0)" marker-end="url(#s0)"/><polyline points="390.5,320.8 456,320.8 459,323 462.3,326 464.5,336.9 466,351.5 467.4,366.1 468.9,376.3 470.4,386.5 469.4,394 470.1,410.1 470.7,423.4 472.1,436.8 472.7,450.2 473.8,466.3 473.9,482.5 474.6,500 475.7,517.5 476.9,529.8 480.4,538.6 486.5,542.1 492,544.1 502,544.1" fill="none" stroke="#c8669f" stroke-width="1.0"/><polyline points="390.5,320.8 391,320.8 391.5,320.8 392,320.8 392.5,320.8 393,320.8 393.5,320.8 394,320.8 394.5,320.8 395,320.8 395.5,320.8 396,320.8 396.5,320.8 397,320.8 397.5,320.8 398,320.8 398.5,320.8 399,320.8 399.5,320.8 400,320.8 400.5,320.8 401,320.8 401.5,320.8 402,320.8 402.5,320.8 403,320.8 403.5,320.8 404,320.8 404.5,320.8 405,320.8 405.5,320.8 406,320.8 406.5,320.8 407,320.8 407.5,320.8 408,320.8 408.5,320.8 409,320.8 409.5,320.8 410,320.8 410.5,320.8 411,320.8 411.5,320.8 412,320.8 412.5,320.8 413,320.8 413.5,320.8 414,320.8 414.5,320.8 415,320.8 415.5,320.8 416,320.8 416.5,320.8 417,320.8 417.5,320.8 418,320.8 418.5,320.8 419,320.8 419.5,320.8 420,320.8 420.5,320.8 421,320.8 421.5,320.8 422,320.8 422.5,320.8 423,320.8 423.5,320.8 424,320.8 424.5,320.8 425,320.8 425.5,320.8 426,320.8 426.5,320.8 427,320.8 427.5,320.8 428,320.8 428.5,320.8 429,320.8 429.5,320.8 430,320.8 430.5,320.8 431,320.8 431.5,320.8 432,320.8 432.5,320.8 433,320.8 433.5,320.8 434,320.8 434.5,320.8 435,320.8 435.5,320.8 436,320.8 436.5,320.8 437,320.8 437.5,320.8 438,320.8 438.5,320.8 439,320.8 439.5,320.8 440,320.8 440.5,320.8 441,320.8 441.5,320.8 442,320.8 442.5,320.8 443,320.8 443.5,320.8 444,320.8 444.5,320.8 445,320.8 445.5,320.8 446,320.8 446.5,320.8 447,320.8 447.5,320.8 448,320.8 448.5,320.8 449,320.8 449.5,320.8 450,320.8 450.5,320.8 451,320.8 451.5,320.8 452,320.8 452.5,320.8 453,320.8 453.5,320.8 454,320.8 454.5,320.8 455,320.8 455.5,320.8 456,320.8 456.4,321.1 456.8,321.4 457.1,321.6 457.5,321.9 457.9,322.2 458.2,322.4 458.6,322.7 459,323 459.4,323.3 459.7,323.7 460.1,324 460.5,324.3 460.8,324.7 461.2,325 461.6,325.3 461.9,325.7 462.3,326 462.4,326.5 462.5,327.1 462.6,327.6 462.7,328.2 462.9,328.7 463,329.3 463.1,329.8 463.2,330.4 463.3,330.9 463.4,331.4 463.5,332 463.6,332.5 463.7,333.1 463.8,333.6 463.9,334.2 464.1,334.7 464.2,335.3 464.3,335.8 464.4,336.4 464.5,336.9 464.6,337.9 464.7,339 464.8,340 464.9,341.1 465,342.1 465.1,343.2 465.2,344.2 465.4,345.2 465.5,346.3 465.6,347.3 465.7,348.4 465.8,349.4 465.9,350.5 466,351.5 466.1,352.6 466.2,353.7 466.3,354.9 466.4,356 466.5,357.1 466.6,358.2 466.8,359.4 466.9,360.5 467,361.6 467.1,362.7 467.2,363.9 467.3,365 467.4,366.1 467.5,366.8 467.6,367.6 467.7,368.3 467.8,369 467.9,369.7 468,370.5 468.1,371.2 468.3,371.9 468.4,372.7 468.5,373.4 468.6,374.1 468.7,374.8 468.8,375.6 468.9,376.3 469,377 469.1,377.8 469.2,378.5 469.3,379.2 469.4,379.9 469.5,380.7 469.6,381.4 469.8,382.1 469.9,382.9 470,383.6 470.1,384.3 470.2,385 470.3,385.8 470.4,386.5 470.3,387.3 470.2,388.2 470.1,389 470,389.8 469.8,390.7 469.7,391.5 469.6,392.3 469.5,393.2 469.4,394 469.5,395.7 469.5,396.7 469.6,398.5 469.8,402.3 469.8,403.8 470,407.6 470.1,410.1 470.2,412.8 470.3,415 470.4,417.6 470.6,421.1 470.7,423.4 470.8,424.4 470.9,425.5 471,426.5 471.1,427.5 471.2,428.6 471.3,429.6 471.5,430.6 471.6,431.6 471.7,432.7 471.8,433.7 471.9,434.7 472,435.8 472.1,436.8 472.2,440 472.4,443.3 472.4,444.3 472.5,445.5 472.6,447.2 472.7,450.2 472.8,451.4 472.9,453.4 473,453.9 473,454.4 473.1,455.6 473.2,457.8 473.4,460.1 473.5,462.4 473.6,463.6 473.7,465.4 473.8,466.3 473.8,469.2 473.8,470.4 473.9,475.2 473.9,476.9 473.9,482.1 473.9,482.5 473.9,483.3 474,486.1 474.2,490.6 474.4,495.8 474.5,498.5 474.6,500 474.7,501.1 474.9,504.3 474.9,505.4 475.1,507.6 475.1,508.5 475.3,510.5 475.5,513.7 475.5,514.6 475.7,517.5 475.7,517.5 475.8,518.6 475.9,519.7 476,520.9 476.1,522 476.2,523.1 476.4,524.2 476.5,525.3 476.6,526.4 476.7,527.6 476.8,528.7 476.9,529.8 477.1,530.3 477.3,530.7 477.5,531.2 477.6,531.7 477.8,532.1 478,532.6 478.2,533 478.4,533.5 478.6,534 478.7,534.4 478.9,534.9 479.1,535.4 479.3,535.8 479.5,536.3 479.7,536.7 479.8,537.2 480,537.7 480.2,538.1 480.4,538.6 480.8,538.8 481.2,539.1 481.6,539.3 482,539.5 482.4,539.8 482.8,540 483.2,540.2 483.7,540.5 484.1,540.7 484.5,540.9 484.9,541.2 485.3,541.4 485.7,541.6 486.1,541.9 486.5,542.1 487,542.3 487.4,542.4 487.9,542.6 488.3,542.8 488.8,542.9 489.2,543.1 489.7,543.3 490.2,543.4 490.6,543.6 491.1,543.8 491.5,543.9 492,544.1 492.5,544.1 493,544.1 493.5,544.1 494,544.1 494.5,544.1 495,544.1 495.5,544.1 496,544.1 496.5,544.1 497,544.1 497.5,544.1 498,544.1 498.5,544.1 499,544.1 499.5,544.1 500,544.1 500.5,544.1 501,544.1 501.5,544.1 502,544.1" fill="none" stroke="none" marker-start="url(#d1)" marker-mid="url(#d1)" marker-end="url(#d1)"/><polyline points="390.5,320.8 482,320.8 485,323 487.9,326 490.1,336.9 491.5,351.5 492.3,366.1 493.7,380.7 494.7,392.4 495.5,403.4 496.2,416.8 496.7,430 497.6,446.7 498.4,463.4 498.7,480.2 499.7,496.9 500.9,513.6 502.6,528.7 505,535.5 509.3,540.3 516.3,542.1 525,543.5 537,544.1" fill="none" stroke="#4aae44" stroke-width="1.0"/><polyline points="390.5,320.8 391,320.8 391.5,320.8 392,320.8 392.5,320.8 393,320.8 393.5,320.8 394,320.8 394.5,320.8 395,320.8 395.5,320.8 396,320.8 396.5,320.8 397,320.8 397.5,320.8 398,320.8 398.5,320.8 399,320.8 399.5,320.8 400,320.8 400.5,320.8 401,320.8 401.5,320.8 402,320.8 402.5,320.8 403,320.8 403.5,320.8 404,320.8 404.5,320.8 405,320.8 405.5,320.8 406,320.8 406.5,320.8 407,320.8 407.5,320.8 408,320.8 408.5,320.8 409,320.8 409.5,320.8 410,320.8 410.5,320.8 411,320.8 411.5,320.8 412,320.8 412.5,320.8 413,320.8 413.5,320.8 414,320.8 414.5,320.8 415,320.8 415.5,320.8 416,320.8 416.5,320.8 417,320.8 417.5,320.8 418,320.8 418.5,320.8 419,320.8 419.5,320.8 420,320.8 420.5,320.8 421,320.8 421.5,320.8 422,320.8 422.5,320.8 423,320.8 423.5,320.8 424,320.8 424.5,320.8 425,320.8 425.5,320.8 426,320.8 426.5,320.8 427,320.8 427.5,320.8 428,320.8 428.5,320.8 429,320.8 429.5,320.8 430,320.8 430.5,320.8 431,320.8 431.5,320.8 432,320.8 432.5,320.8 433,320.8 433.5,320.8 434,320.8 434.5,320.8 435,320.8 435.5,320.8 436,320.8 436.5,320.8 437,320.8 437.5,320.8 438,320.8 438.5,320.8 439,320.8 439.5,320.8 440,320.8 440.5,320.8 441,320.8 441.5,320.8 442,320.8 442.5,320.8 443,320.8 443.5,320.8 444,320.8 444.5,320.8 445,320.8 445.5,320.8 446,320.8 446.5,320.8 447,320.8 447.5,320.8 448,320.8 448.5,320.8 449,320.8 449.5,320.8 450,320.8 450.5,320.8 451,320.8 451.5,320.8 452,320.8 452.5,320.8 453,320.8 453.5,320.8 454,320.8 454.5,320.8 455,320.8 455.5,320.8 456,320.8 456.5,320.8 457,320.8 457.5,320.8 458,320.8 458.5,320.8 459,320.8 459.5,320.8 460,320.8 460.5,320.8 461,320.8 461.5,320.8 462,320.8 462.5,320.8 463,320.8 463.5,320.8 464,320.8 464.5,320.8 465,320.8 465.5,320.8 466,320.8 466.5,320.8 467,320.8 467.5,320.8 468,320.8 468.5,320.8 469,320.8 469.5,320.8 470,320.8 470.5,320.8 471,320.8 471.5,320.8 472,320.8 472.5,320.8 473,320.8 473.5,320.8 474,320.8 474.5,320.8 475,320.8 475.5,320.8 476,320.8 476.5,320.8 477,320.8 477.5,320.8 478,320.8 478.5,320.8 479,320.8 479.5,320.8 480,320.8 480.5,320.8 481,320.8 481.5,320.8 482,320.8 482.4,321.1 482.8,321.4 483.1,321.6 483.5,321.9 483.9,322.2 484.2,322.4 484.6,322.7 485,323 485.3,323.3 485.6,323.7 486,324 486.3,324.3 486.6,324.7 486.9,325 487.3,325.3 487.6,325.7 487.9,326 488,326.5 488.1,327.1 488.2,327.6 488.3,328.2 488.4,328.7 488.6,329.3 488.7,329.8 488.8,330.4 488.9,330.9 489,331.4 489.1,332 489.2,332.5 489.3,333.1 489.4,333.6 489.6,334.2 489.7,334.7 489.8,335.3 489.9,335.8 490,336.4 490.1,336.9 490.2,338 490.3,339.1 490.4,340.3 490.5,341.4 490.6,342.5 490.7,343.6 490.9,344.8 491,345.9 491.1,347 491.2,348.1 491.3,349.3 491.4,350.4 491.5,351.5 491.7,355 491.9,358 491.9,359.3 492.1,362.8 492.2,365 492.3,365.6 492.3,366.1 492.4,367.2 492.5,368.3 492.6,369.5 492.7,370.6 492.8,371.7 492.9,372.8 493.1,374 493.2,375.1 493.3,376.2 493.4,377.3 493.5,378.5 493.6,379.6 493.7,380.7 493.8,382.1 493.9,383.4 494,384.4 494.1,385.1 494.2,386.1 494.3,387.2 494.4,389.3 494.5,389.7 494.6,391.6 494.7,392.4 494.8,393.1 495,395.9 495.1,398.1 495.3,400.8 495.4,401.9 495.5,403.3 495.5,403.4 495.7,407.5 495.9,410.2 495.9,412 496.1,414.1 496.1,415.6 496.2,416.3 496.2,416.8 496.4,421.4 496.4,423.4 496.6,428.4 496.7,430 496.8,431.4 496.9,433.7 497,434.9 497.1,436.7 497.3,440.6 497.5,444.2 497.6,446.7 497.7,449.8 497.9,453.9 498.1,458.2 498.3,460.9 498.4,463.4 498.4,464.3 498.5,468.4 498.5,471.2 498.6,475.4 498.7,479 498.7,480.2 498.7,480.8 498.9,484.2 499,485.1 499.1,487 499.2,488.5 499.3,489.9 499.5,492.7 499.7,496.2 499.7,496.9 499.9,499 499.9,500.2 500.1,502 500.2,503.4 500.2,504.3 500.3,505.1 500.4,506 500.6,508.8 500.7,510.4 500.7,511.4 500.9,513.6 501,514.5 501.1,515.5 501.2,516.4 501.3,517.4 501.4,518.3 501.5,519.3 501.6,520.2 501.8,521.2 501.9,522.1 502,523 502.1,524 502.2,524.9 502.3,525.9 502.4,526.8 502.5,527.8 502.6,528.7 502.8,529.2 502.9,529.6 503.1,530.1 503.2,530.5 503.4,531 503.6,531.4 503.7,531.9 503.9,532.3 504,532.8 504.2,533.2 504.4,533.7 504.5,534.1 504.7,534.6 504.8,535 505,535.5 505.3,535.9 505.7,536.2 506,536.6 506.3,537 506.7,537.3 507,537.7 507.3,538.1 507.6,538.5 508,538.8 508.3,539.2 508.6,539.6 509,539.9 509.3,540.3 509.8,540.4 510.2,540.5 510.7,540.7 511.2,540.8 511.6,540.9 512.1,541 512.6,541.1 513,541.3 513.5,541.4 514,541.5 514.4,541.6 514.9,541.7 515.4,541.9 515.8,542 516.3,542.1 516.8,542.2 517.3,542.3 517.8,542.3 518.2,542.4 518.7,542.5 519.2,542.6 519.7,542.6 520.2,542.7 520.6,542.8 521.1,542.9 521.6,543 522.1,543 522.6,543.1 523.1,543.2 523.5,543.3 524,543.3 524.5,543.4 525,543.5 525.5,543.5 526,543.5 526.4,543.6 526.9,543.6 527.4,543.6 527.9,543.6 528.4,543.7 528.8,543.7 529.3,543.7 529.8,543.7 530.3,543.8 530.8,543.8 531.2,543.8 531.7,543.8 532.2,543.9 532.7,543.9 533.2,543.9 533.6,543.9 534.1,544 534.6,544 535.1,544 535.6,544 536,544.1 536.5,544.1 537,544.1" fill="none" stroke="none" marker-start="url(#d2)" marker-mid="url(#d2)" marker-end="url(#d2)"/><polyline points="390.5,320.8 427,320.8 431,323 439.7,326 446.3,334 450.7,344.2 452.8,353 457.2,361.7 462.3,371.9 466.7,380.7 470.4,390.9 474.1,398 480.1,407.4 483.4,419.4 486.7,430 491.7,446.7 497.6,463.4 503.4,480.2 509.3,496.9 514.3,510.3 520.1,523.6 528.6,531.5 533.8,536.8 545,539 556,540 560,543 567,544.1" fill="none" stroke="#8a86c2" stroke-width="1.0"/><polyline points="390.5,320.8 391,320.8 391.5,320.8 392,320.8 392.5,320.8 393,320.8 393.5,320.8 394,320.8 394.5,320.8 395,320.8 395.5,320.8 396,320.8 396.5,320.8 397,320.8 397.5,320.8 398,320.8 398.5,320.8 399,320.8 399.5,320.8 400,320.8 400.5,320.8 401,320.8 401.5,320.8 402,320.8 402.5,320.8 403,320.8 403.5,320.8 404,320.8 404.5,320.8 405,320.8 405.5,320.8 406,320.8 406.5,320.8 407,320.8 407.5,320.8 408,320.8 408.5,320.8 409,320.8 409.5,320.8 410,320.8 410.5,320.8 411,320.8 411.5,320.8 412,320.8 412.5,320.8 413,320.8 413.5,320.8 414,320.8 414.5,320.8 415,320.8 415.5,320.8 416,320.8 416.5,320.8 417,320.8 417.5,320.8 418,320.8 418.5,320.8 419,320.8 419.5,320.8 420,320.8 420.5,320.8 421,320.8 421.5,320.8 422,320.8 422.5,320.8 423,320.8 423.5,320.8 424,320.8 424.5,320.8 425,320.8 425.5,320.8 426,320.8 426.5,320.8 427,320.8 427.4,321 427.8,321.2 428.2,321.5 428.6,321.7 429,321.9 429.4,322.1 429.8,322.3 430.2,322.6 430.6,322.8 431,323 431.5,323.2 431.9,323.3 432.4,323.5 432.8,323.6 433.3,323.8 433.7,323.9 434.2,324.1 434.7,324.3 435.1,324.4 435.6,324.6 436,324.7 436.5,324.9 437,325.1 437.4,325.2 437.9,325.4 438.3,325.5 438.8,325.7 439.2,325.8 439.7,326 440,326.4 440.3,326.8 440.6,327.1 441,327.5 441.3,327.9 441.6,328.3 441.9,328.7 442.2,329 442.5,329.4 442.8,329.8 443.2,330.2 443.5,330.6 443.8,331 444.1,331.3 444.4,331.7 444.7,332.1 445,332.5 445.4,332.9 445.7,333.2 446,333.6 446.3,334 446.5,334.4 446.7,334.9 446.9,335.3 447.1,335.8 447.3,336.2 447.4,336.7 447.6,337.1 447.8,337.5 448,338 448.2,338.4 448.4,338.9 448.6,339.3 448.8,339.8 449,340.2 449.2,340.7 449.4,341.1 449.6,341.5 449.7,342 449.9,342.4 450.1,342.9 450.3,343.3 450.5,343.8 450.7,344.2 450.8,344.7 450.9,345.1 451,345.6 451.1,346.1 451.3,346.5 451.4,347 451.5,347.4 451.6,347.9 451.7,348.4 451.8,348.8 451.9,349.3 452,349.8 452.1,350.2 452.2,350.7 452.4,351.1 452.5,351.6 452.6,352.1 452.7,352.5 452.8,353 453,353.4 453.2,353.9 453.5,354.3 453.7,354.7 453.9,355.2 454.1,355.6 454.3,356 454.6,356.5 454.8,356.9 455,357.4 455.2,357.8 455.4,358.2 455.7,358.7 455.9,359.1 456.1,359.5 456.3,360 456.5,360.4 456.8,360.8 457,361.3 457.2,361.7 457.4,362.1 457.6,362.6 457.9,363 458.1,363.5 458.3,363.9 458.5,364.4 458.8,364.8 459,365.2 459.2,365.7 459.4,366.1 459.6,366.6 459.9,367 460.1,367.5 460.3,367.9 460.5,368.4 460.7,368.8 461,369.2 461.2,369.7 461.4,370.1 461.6,370.6 461.9,371 462.1,371.5 462.3,371.9 462.5,372.3 462.7,372.8 463,373.2 463.2,373.7 463.4,374.1 463.6,374.5 463.8,375 464.1,375.4 464.3,375.9 464.5,376.3 464.7,376.7 464.9,377.2 465.2,377.6 465.4,378.1 465.6,378.5 465.8,378.9 466,379.4 466.3,379.8 466.5,380.3 466.7,380.7 466.9,381.2 467,381.6 467.2,382.1 467.4,382.6 467.5,383 467.7,383.5 467.9,383.9 468,384.4 468.2,384.9 468.4,385.3 468.5,385.8 468.7,386.3 468.9,386.7 469.1,387.2 469.2,387.7 469.4,388.1 469.6,388.6 469.7,389 469.9,389.5 470.1,390 470.2,390.4 470.4,390.9 470.6,391.3 470.8,391.7 471.1,392.2 471.3,392.6 471.5,393 471.7,393.4 471.9,393.8 472.1,394.2 472.4,394.7 472.6,395.1 472.8,395.5 473,395.9 473.2,396.3 473.4,396.7 473.7,397.2 473.9,397.6 474.1,398 474.4,398.4 474.6,398.8 474.9,399.2 475.1,399.6 475.4,400 475.7,400.5 475.9,400.9 476.2,401.3 476.4,401.7 476.7,402.1 477,402.5 477.2,402.9 477.5,403.3 477.8,403.7 478,404.1 478.3,404.5 478.5,404.9 478.8,405.4 479.1,405.8 479.3,406.2 479.6,406.6 479.8,407 480.1,407.4 480.2,407.9 480.4,408.4 480.5,408.8 480.6,409.3 480.8,409.8 480.9,410.3 481,410.8 481.2,411.2 481.3,411.7 481.4,412.2 481.6,412.7 481.7,413.2 481.8,413.6 481.9,414.1 482.1,414.6 482.2,415.1 482.3,415.6 482.5,416 482.6,416.5 482.7,417 482.9,417.5 483,418 483.1,418.4 483.3,418.9 483.4,419.4 483.5,419.9 483.7,420.3 483.8,420.8 484,421.2 484.1,421.7 484.3,422.2 484.4,422.6 484.5,423.1 484.7,423.5 484.8,424 485,424.5 485.1,424.9 485.3,425.4 485.4,425.9 485.6,426.3 485.7,426.8 485.8,427.2 486,427.7 486.1,428.2 486.3,428.6 486.4,429.1 486.6,429.5 486.7,430 486.8,430.5 487,431 487.1,431.4 487.3,431.9 487.4,432.4 487.6,432.9 487.7,433.3 487.8,433.8 488,434.3 488.1,434.8 488.3,435.2 488.4,435.7 488.6,436.2 488.7,436.7 488.8,437.2 489,437.6 489.1,438.1 489.3,438.6 489.4,439.1 489.6,439.5 489.7,440 489.8,440.5 490,441 490.1,441.5 490.3,441.9 490.4,442.4 490.6,442.9 490.7,443.4 490.8,443.8 491,444.3 491.1,444.8 491.3,445.3 491.4,445.7 491.6,446.2 491.7,446.7 491.9,447.2 492,447.6 492.2,448.1 492.4,448.6 492.5,449 492.7,449.5 492.8,449.9 493,450.4 493.2,450.9 493.3,451.3 493.5,451.8 493.7,452.3 493.8,452.7 494,453.2 494.2,453.7 494.3,454.1 494.5,454.6 494.6,455 494.8,455.5 495,456 495.1,456.4 495.3,456.9 495.5,457.4 495.6,457.8 495.8,458.3 496,458.8 496.1,459.2 496.3,459.7 496.5,460.2 496.6,460.6 496.8,461.1 496.9,461.5 497.1,462 497.3,462.5 497.4,462.9 497.6,463.4 497.8,463.9 497.9,464.3 498.1,464.8 498.2,465.3 498.4,465.7 498.6,466.2 498.7,466.7 498.9,467.1 499.1,467.6 499.2,468.1 499.4,468.5 499.5,469 499.7,469.5 499.9,469.9 500,470.4 500.2,470.9 500.3,471.3 500.5,471.8 500.7,472.3 500.8,472.7 501,473.2 501.1,473.7 501.3,474.1 501.5,474.6 501.6,475.1 501.8,475.5 501.9,476 502.1,476.5 502.3,476.9 502.4,477.4 502.6,477.9 502.8,478.3 502.9,478.8 503.1,479.3 503.2,479.7 503.4,480.2 503.6,480.7 503.7,481.1 503.9,481.6 504.1,482.1 504.2,482.5 504.4,483 504.5,483.4 504.7,483.9 504.9,484.4 505,484.8 505.2,485.3 505.4,485.8 505.5,486.2 505.7,486.7 505.9,487.2 506,487.6 506.2,488.1 506.4,488.5 506.5,489 506.7,489.5 506.8,489.9 507,490.4 507.2,490.9 507.3,491.3 507.5,491.8 507.7,492.3 507.8,492.7 508,493.2 508.2,493.7 508.3,494.1 508.5,494.6 508.6,495 508.8,495.5 509,496 509.1,496.4 509.3,496.9 509.5,497.4 509.6,497.8 509.8,498.3 510,498.7 510.2,499.2 510.3,499.7 510.5,500.1 510.7,500.6 510.9,501.1 511,501.5 511.2,502 511.4,502.4 511.5,502.9 511.7,503.4 511.9,503.8 512.1,504.3 512.2,504.8 512.4,505.2 512.6,505.7 512.7,506.1 512.9,506.6 513.1,507.1 513.3,507.5 513.4,508 513.6,508.5 513.8,508.9 514,509.4 514.1,509.8 514.3,510.3 514.5,510.7 514.7,511.2 514.9,511.6 515.1,512.1 515.3,512.5 515.5,513 515.7,513.4 515.8,513.8 516,514.3 516.2,514.7 516.4,515.2 516.6,515.6 516.8,516.1 517,516.5 517.2,517 517.4,517.4 517.6,517.8 517.8,518.3 518,518.7 518.2,519.2 518.4,519.6 518.6,520.1 518.7,520.5 518.9,520.9 519.1,521.4 519.3,521.8 519.5,522.3 519.7,522.7 519.9,523.2 520.1,523.6 520.5,523.9 520.8,524.3 521.2,524.6 521.5,524.9 521.9,525.2 522.2,525.6 522.6,525.9 522.9,526.2 523.3,526.6 523.6,526.9 524,527.2 524.4,527.5 524.7,527.9 525.1,528.2 525.4,528.5 525.8,528.9 526.1,529.2 526.5,529.5 526.8,529.9 527.2,530.2 527.5,530.5 527.9,530.8 528.2,531.2 528.6,531.5 528.9,531.9 529.3,532.2 529.6,532.6 530,532.9 530.3,533.3 530.7,533.6 531,534 531.4,534.3 531.7,534.7 532.1,535 532.4,535.4 532.8,535.7 533.1,536.1 533.5,536.4 533.8,536.8 534.3,536.9 534.8,537 535.3,537.1 535.7,537.2 536.2,537.3 536.7,537.4 537.2,537.5 537.7,537.6 538.2,537.7 538.7,537.8 539.2,537.9 539.6,537.9 540.1,538 540.6,538.1 541.1,538.2 541.6,538.3 542.1,538.4 542.6,538.5 543.1,538.6 543.5,538.7 544,538.8 544.5,538.9 545,539 545.5,539 546,539.1 546.4,539.1 546.9,539.2 547.4,539.2 547.9,539.3 548.3,539.3 548.8,539.3 549.3,539.4 549.8,539.4 550.3,539.5 550.7,539.5 551.2,539.6 551.7,539.6 552.2,539.7 552.7,539.7 553.1,539.7 553.6,539.8 554.1,539.8 554.6,539.9 555,539.9 555.5,540 556,540 556.4,540.3 556.8,540.6 557.2,540.9 557.6,541.2 558,541.5 558.4,541.8 558.8,542.1 559.2,542.4 559.6,542.7 560,543 560.5,543.1 560.9,543.1 561.4,543.2 561.9,543.3 562.3,543.4 562.8,543.4 563.3,543.5 563.7,543.6 564.2,543.7 564.7,543.7 565.1,543.8 565.6,543.9 566.1,544 566.5,544 567,544.1" fill="none" stroke="none" marker-start="url(#d3)" marker-mid="url(#d3)" marker-end="url(#d3)"/><polyline points="390.5,320.8 563.5,320.8 563.5,325 563.7,368.8 563.9,378.5 564.1,383.8 564.3,393.8 564.4,400.6 564.6,408.3 564.8,420.4 565,440.8 565.1,462.3 565.3,476.3 565.5,495 565.7,508.8 565.8,519 566,525.8 566.2,530.6 566.3,533.8 566.5,541.8 583.8,541.8 584.5,543.5 607,543.5 608,545.3 622,545.3" fill="none" stroke="#38b493" stroke-width="1.0"/><polyline points="390.5,320.8 391,320.8 391.5,320.8 392,320.8 392.5,320.8 393,320.8 393.5,320.8 394,320.8 394.5,320.8 395,320.8 395.5,320.8 396,320.8 396.5,320.8 397,320.8 397.5,320.8 398,320.8 398.5,320.8 399,320.8 399.5,320.8 400,320.8 400.5,320.8 401,320.8 401.5,320.8 402,320.8 402.5,320.8 403,320.8 403.5,320.8 404,320.8 404.5,320.8 405,320.8 405.5,320.8 406,320.8 406.5,320.8 407,320.8 407.5,320.8 408,320.8 408.5,320.8 409,320.8 409.5,320.8 410,320.8 410.5,320.8 411,320.8 411.5,320.8 412,320.8 412.5,320.8 413,320.8 413.5,320.8 414,320.8 414.5,320.8 415,320.8 415.5,320.8 416,320.8 416.5,320.8 417,320.8 417.5,320.8 418,320.8 418.5,320.8 419,320.8 419.5,320.8 420,320.8 420.5,320.8 421,320.8 421.5,320.8 422,320.8 422.5,320.8 423,320.8 423.5,320.8 424,320.8 424.5,320.8 425,320.8 425.5,320.8 426,320.8 426.5,320.8 427,320.8 427.5,320.8 428,320.8 428.5,320.8 429,320.8 429.5,320.8 430,320.8 430.5,320.8 431,320.8 431.5,320.8 432,320.8 432.5,320.8 433,320.8 433.5,320.8 434,320.8 434.5,320.8 435,320.8 435.5,320.8 436,320.8 436.5,320.8 437,320.8 437.5,320.8 438,320.8 438.5,320.8 439,320.8 439.5,320.8 440,320.8 440.5,320.8 441,320.8 441.5,320.8 442,320.8 442.5,320.8 443,320.8 443.5,320.8 444,320.8 444.5,320.8 445,320.8 445.5,320.8 446,320.8 446.5,320.8 447,320.8 447.5,320.8 448,320.8 448.5,320.8 449,320.8 449.5,320.8 450,320.8 450.5,320.8 451,320.8 451.5,320.8 452,320.8 452.5,320.8 453,320.8 453.5,320.8 454,320.8 454.5,320.8 455,320.8 455.5,320.8 456,320.8 456.5,320.8 457,320.8 457.5,320.8 458,320.8 458.5,320.8 459,320.8 459.5,320.8 460,320.8 460.5,320.8 461,320.8 461.5,320.8 462,320.8 462.5,320.8 463,320.8 463.5,320.8 464,320.8 464.5,320.8 465,320.8 465.5,320.8 466,320.8 466.5,320.8 467,320.8 467.5,320.8 468,320.8 468.5,320.8 469,320.8 469.5,320.8 470,320.8 470.5,320.8 471,320.8 471.5,320.8 472,320.8 472.5,320.8 473,320.8 473.5,320.8 474,320.8 474.5,320.8 475,320.8 475.5,320.8 476,320.8 476.5,320.8 477,320.8 477.5,320.8 478,320.8 478.5,320.8 479,320.8 479.5,320.8 480,320.8 480.5,320.8 481,320.8 481.5,320.8 482,320.8 482.5,320.8 483,320.8 483.5,320.8 484,320.8 484.5,320.8 485,320.8 485.5,320.8 486,320.8 486.5,320.8 487,320.8 487.5,320.8 488,320.8 488.5,320.8 489,320.8 489.5,320.8 490,320.8 490.5,320.8 491,320.8 491.5,320.8 492,320.8 492.5,320.8 493,320.8 493.5,320.8 494,320.8 494.5,320.8 495,320.8 495.5,320.8 496,320.8 496.5,320.8 497,320.8 497.5,320.8 498,320.8 498.5,320.8 499,320.8 499.5,320.8 500,320.8 500.5,320.8 501,320.8 501.5,320.8 502,320.8 502.5,320.8 503,320.8 503.5,320.8 504,320.8 504.5,320.8 505,320.8 505.5,320.8 506,320.8 506.5,320.8 507,320.8 507.5,320.8 508,320.8 508.5,320.8 509,320.8 509.5,320.8 510,320.8 510.5,320.8 511,320.8 511.5,320.8 512,320.8 512.5,320.8 513,320.8 513.5,320.8 514,320.8 514.5,320.8 515,320.8 515.5,320.8 516,320.8 516.5,320.8 517,320.8 517.5,320.8 518,320.8 518.5,320.8 519,320.8 519.5,320.8 520,320.8 520.5,320.8 521,320.8 521.5,320.8 522,320.8 522.5,320.8 523,320.8 523.5,320.8 524,320.8 524.5,320.8 525,320.8 525.5,320.8 526,320.8 526.5,320.8 527,320.8 527.5,320.8 528,320.8 528.5,320.8 529,320.8 529.5,320.8 530,320.8 530.5,320.8 531,320.8 531.5,320.8 532,320.8 532.5,320.8 533,320.8 533.5,320.8 534,320.8 534.5,320.8 535,320.8 535.5,320.8 536,320.8 536.5,320.8 537,320.8 537.5,320.8 538,320.8 538.5,320.8 539,320.8 539.5,320.8 540,320.8 540.5,320.8 541,320.8 541.5,320.8 542,320.8 542.5,320.8 543,320.8 543.5,320.8 544,320.8 544.5,320.8 545,320.8 545.5,320.8 546,320.8 546.5,320.8 547,320.8 547.5,320.8 548,320.8 548.5,320.8 549,320.8 549.5,320.8 550,320.8 550.5,320.8 551,320.8 551.5,320.8 552,320.8 552.5,320.8 553,320.8 553.5,320.8 554,320.8 554.5,320.8 555,320.8 555.5,320.8 556,320.8 556.5,320.8 557,320.8 557.5,320.8 558,320.8 558.5,320.8 559,320.8 559.5,320.8 560,320.8 560.5,320.8 561,320.8 561.5,320.8 562,320.8 562.5,320.8 563,320.8 563.5,320.8 563.5,325 566.3,533.4 566.3,533.8 566.3,535.4 566.4,536.5 566.4,538.8 566.5,539.9 566.5,541.7 566.5,541.8 567,541.8 567.5,541.8 568,541.8 568.5,541.8 569,541.8 569.5,541.8 570,541.8 570.5,541.8 570.9,541.8 571.4,541.8 571.9,541.8 572.4,541.8 572.9,541.8 573.4,541.8 573.9,541.8 574.4,541.8 574.9,541.8 575.4,541.8 575.9,541.8 576.4,541.8 576.9,541.8 577.4,541.8 577.9,541.8 578.4,541.8 578.9,541.8 579.4,541.8 579.8,541.8 580.3,541.8 580.8,541.8 581.3,541.8 581.8,541.8 582.3,541.8 582.8,541.8 583.3,541.8 583.8,541.8 584,542.2 584.1,542.6 584.3,543.1 584.5,543.5 585,543.5 585.5,543.5 586,543.5 586.5,543.5 587,543.5 587.5,543.5 588,543.5 588.5,543.5 589,543.5 589.5,543.5 590,543.5 590.5,543.5 591,543.5 591.5,543.5 592,543.5 592.5,543.5 593,543.5 593.5,543.5 594,543.5 594.5,543.5 595,543.5 595.5,543.5 596,543.5 596.5,543.5 597,543.5 597.5,543.5 598,543.5 598.5,543.5 599,543.5 599.5,543.5 600,543.5 600.5,543.5 601,543.5 601.5,543.5 602,543.5 602.5,543.5 603,543.5 603.5,543.5 604,543.5 604.5,543.5 605,543.5 605.5,543.5 606,543.5 606.5,543.5 607,543.5 607.2,543.9 607.4,544.2 607.6,544.6 607.8,544.9 608,545.3 608.5,545.3 609,545.3 609.5,545.3 610,545.3 610.5,545.3 611,545.3 611.5,545.3 612,545.3 612.5,545.3 613,545.3 613.5,545.3 614,545.3 614.5,545.3 615,545.3 615.5,545.3 616,545.3 616.5,545.3 617,545.3 617.5,545.3 618,545.3 618.5,545.3 619,545.3 619.5,545.3 620,545.3 620.5,545.3 621,545.3 621.5,545.3 622,545.3" fill="none" stroke="none" marker-start="url(#d4)" marker-mid="url(#d4)" marker-end="url(#d4)"/><polyline points="563.5,328.4 563.5,331.7 563.5,335.1 563.6,338.5 563.6,341.8 563.6,345.2 563.6,348.6 563.6,352 563.6,355.3 563.7,358.7 563.7,362.1 563.7,365.4 563.7,368.8 563.9,378.5 564.1,383.8 564.3,393.8 564.4,400.6 564.6,408.3 564.8,420.4 565,440.8 565.1,462.3 565.3,476.3 565.5,495 565.7,508.8 565.8,519 566,525.8 566.2,530.6" fill="none" stroke="none" marker-start="url(#s4)" marker-mid="url(#s4)" marker-end="url(#s4)"/><polyline points="390.5,320.8 521.3,320.8 521.3,325 521.3,336.2 521.4,339.6 521.5,344.8 521.7,349.6 521.8,354.4 521.9,358.8 522.1,367.3 522.2,377.5 522.3,382.3 522.5,394.2 522.6,405.4 522.7,420.4 522.8,442.1 523,454.2 523.1,478.1 523.2,496 523.4,515.2 523.5,524.6 523.8,529 524,533 531,534 532,538.5 536,540 537,543 557,544.1" fill="none" stroke="#0000ff" stroke-width="1.0"/><polyline points="390.5,320.8 391,320.8 391.5,320.8 392,320.8 392.5,320.8 393,320.8 393.5,320.8 394,320.8 394.5,320.8 395,320.8 395.5,320.8 396,320.8 396.5,320.8 397,320.8 397.5,320.8 398,320.8 398.5,320.8 399,320.8 399.5,320.8 400,320.8 400.5,320.8 401,320.8 401.5,320.8 402,320.8 402.5,320.8 403,320.8 403.5,320.8 404,320.8 404.5,320.8 405,320.8 405.5,320.8 406,320.8 406.5,320.8 407,320.8 407.5,320.8 408,320.8 408.5,320.8 409,320.8 409.5,320.8 410,320.8 410.5,320.8 411,320.8 411.5,320.8 412,320.8 412.5,320.8 413,320.8 413.5,320.8 414,320.8 414.5,320.8 415,320.8 415.5,320.8 416,320.8 416.5,320.8 417,320.8 417.5,320.8 418,320.8 418.5,320.8 419,320.8 419.5,320.8 420,320.8 420.5,320.8 421,320.8 421.5,320.8 422,320.8 422.5,320.8 423,320.8 423.4,320.8 423.9,320.8 424.4,320.8 424.9,320.8 425.4,320.8 425.9,320.8 426.4,320.8 426.9,320.8 427.4,320.8 427.9,320.8 428.4,320.8 428.9,320.8 429.4,320.8 429.9,320.8 430.4,320.8 430.9,320.8 431.4,320.8 431.9,320.8 432.4,320.8 432.9,320.8 433.4,320.8 433.9,320.8 434.4,320.8 434.9,320.8 435.4,320.8 435.9,320.8 436.4,320.8 436.9,320.8 437.4,320.8 437.9,320.8 438.4,320.8 438.9,320.8 439.4,320.8 439.9,320.8 440.4,320.8 440.9,320.8 441.4,320.8 441.9,320.8 442.4,320.8 442.9,320.8 443.4,320.8 443.9,320.8 444.4,320.8 444.9,320.8 445.4,320.8 445.9,320.8 446.4,320.8 446.9,320.8 447.4,320.8 447.9,320.8 448.4,320.8 448.9,320.8 449.4,320.8 449.9,320.8 450.4,320.8 450.9,320.8 451.4,320.8 451.9,320.8 452.4,320.8 452.9,320.8 453.4,320.8 453.9,320.8 454.4,320.8 454.9,320.8 455.4,320.8 455.9,320.8 456.4,320.8 456.9,320.8 457.4,320.8 457.9,320.8 458.4,320.8 458.9,320.8 459.4,320.8 459.9,320.8 460.4,320.8 460.9,320.8 461.4,320.8 461.9,320.8 462.4,320.8 462.9,320.8 463.4,320.8 463.9,320.8 464.4,320.8 464.9,320.8 465.4,320.8 465.9,320.8 466.4,320.8 466.9,320.8 467.4,320.8 467.9,320.8 468.4,320.8 468.9,320.8 469.4,320.8 469.9,320.8 470.4,320.8 470.9,320.8 471.4,320.8 471.9,320.8 472.4,320.8 472.9,320.8 473.4,320.8 473.9,320.8 474.4,320.8 474.9,320.8 475.4,320.8 475.9,320.8 476.4,320.8 476.9,320.8 477.4,320.8 477.9,320.8 478.4,320.8 478.9,320.8 479.4,320.8 479.9,320.8 480.4,320.8 480.9,320.8 481.4,320.8 481.9,320.8 482.4,320.8 482.9,320.8 483.4,320.8 483.9,320.8 484.4,320.8 484.9,320.8 485.4,320.8 485.9,320.8 486.4,320.8 486.9,320.8 487.4,320.8 487.9,320.8 488.4,320.8 488.8,320.8 489.3,320.8 489.8,320.8 490.3,320.8 490.8,320.8 491.3,320.8 491.8,320.8 492.3,320.8 492.8,320.8 493.3,320.8 493.8,320.8 494.3,320.8 494.8,320.8 495.3,320.8 495.8,320.8 496.3,320.8 496.8,320.8 497.3,320.8 497.8,320.8 498.3,320.8 498.8,320.8 499.3,320.8 499.8,320.8 500.3,320.8 500.8,320.8 501.3,320.8 501.8,320.8 502.3,320.8 502.8,320.8 503.3,320.8 503.8,320.8 504.3,320.8 504.8,320.8 505.3,320.8 505.8,320.8 506.3,320.8 506.8,320.8 507.3,320.8 507.8,320.8 508.3,320.8 508.8,320.8 509.3,320.8 509.8,320.8 510.3,320.8 510.8,320.8 511.3,320.8 511.8,320.8 512.3,320.8 512.8,320.8 513.3,320.8 513.8,320.8 514.3,320.8 514.8,320.8 515.3,320.8 515.8,320.8 516.3,320.8 516.8,320.8 517.3,320.8 517.8,320.8 518.3,320.8 518.8,320.8 519.3,320.8 519.8,320.8 520.3,320.8 520.8,320.8 521.3,320.8 521.3,324.1 521.3,325 523.7,527.1 523.8,528.6 523.8,529 523.9,531.5 524,533 524.5,533.1 524.9,533.1 525.4,533.2 525.9,533.3 526.3,533.3 526.8,533.4 527.3,533.5 527.7,533.5 528.2,533.6 528.7,533.7 529.1,533.7 529.6,533.8 530.1,533.9 530.5,533.9 531,534 531.1,534.5 531.2,535 531.3,535.5 531.4,536 531.6,536.5 531.7,537 531.8,537.5 531.9,538 532,538.5 532.4,538.7 532.9,538.8 533.3,539 533.8,539.2 534.2,539.3 534.7,539.5 535.1,539.7 535.6,539.8 536,540 536.1,540.4 536.3,540.9 536.4,541.3 536.6,541.7 536.7,542.1 536.9,542.6 537,543 537.5,543 538,543.1 538.5,543.1 539,543.1 539.4,543.1 539.9,543.2 540.4,543.2 540.9,543.2 541.4,543.2 541.9,543.3 542.4,543.3 542.9,543.3 543.3,543.3 543.8,543.4 544.3,543.4 544.8,543.4 545.3,543.5 545.8,543.5 546.3,543.5 546.8,543.5 547.2,543.6 547.7,543.6 548.2,543.6 548.7,543.6 549.2,543.7 549.7,543.7 550.2,543.7 550.7,543.8 551.1,543.8 551.6,543.8 552.1,543.8 552.6,543.9 553.1,543.9 553.6,543.9 554.1,543.9 554.6,544 555,544 555.5,544 556,544 556.5,544.1 557,544.1" fill="none" stroke="none" marker-start="url(#d5)" marker-mid="url(#d5)" marker-end="url(#d5)"/><polyline points="521.3,327.8 521.3,330.6 521.3,333.4 521.3,336.2 521.4,339.6 521.5,344.8 521.7,349.6 521.8,354.4 521.9,358.8 522.1,367.3 522.2,377.5 522.3,382.3 522.5,394.2 522.6,405.4 522.7,420.4 522.8,442.1 523,454.2 523.1,478.1 523.2,496 523.4,515.2 523.5,524.6" fill="none" stroke="none" marker-start="url(#s5)" marker-mid="url(#s5)" marker-end="url(#s5)"/><polyline points="524.5,538 536,540 537,544.1 557,544.1" fill="none" stroke="#0000ff" stroke-width="1.0"/><polyline points="524.5,538 525,538.1 525.5,538.2 525.9,538.2 526.4,538.3 526.9,538.4 527.4,538.5 527.9,538.6 528.3,538.7 528.8,538.8 529.3,538.8 529.8,538.9 530.2,539 530.7,539.1 531.2,539.2 531.7,539.2 532.2,539.3 532.6,539.4 533.1,539.5 533.6,539.6 534.1,539.7 534.6,539.8 535,539.8 535.5,539.9 536,540 536.1,540.5 536.2,540.9 536.3,541.4 536.4,541.8 536.6,542.3 536.7,542.7 536.8,543.2 536.9,543.6 537,544.1 537.5,544.1 538,544.1 538.5,544.1 539,544.1 539.5,544.1 540,544.1 540.5,544.1 541,544.1 541.5,544.1 542,544.1 542.5,544.1 543,544.1 543.5,544.1 544,544.1 544.5,544.1 545,544.1 545.5,544.1 546,544.1 546.5,544.1 547,544.1 547.5,544.1 548,544.1 548.5,544.1 549,544.1 549.5,544.1 550,544.1 550.5,544.1 551,544.1 551.5,544.1 552,544.1 552.5,544.1 553,544.1 553.5,544.1 554,544.1 554.5,544.1 555,544.1 555.5,544.1 556,544.1 556.5,544.1 557,544.1" fill="none" stroke="none" marker-start="url(#d5)" marker-mid="url(#d5)" marker-end="url(#d5)"/><text x="390.5" y="556.5" text-anchor="middle">0</text><text x="447.1" y="556.5" text-anchor="middle">500</text><text x="503.7" y="556.5" text-anchor="middle">1000</text><text x="560.3" y="556.5" text-anchor="middle">1500</text><text x="616.9" y="556.5" text-anchor="middle">2000</text><text x="673.5" y="556.5" text-anchor="middle">2500</text><text x="386.3" y="547.7" text-anchor="end">0</text><text x="386.3" y="501.2" text-anchor="end">50</text><text x="386.3" y="454.6" text-anchor="end">100</text><text x="386.3" y="408.1" text-anchor="end">150</text><text x="386.3" y="361.5" text-anchor="end">200</text><text x="532" y="569.8" text-anchor="middle" font-size="9.4">Rounds</text><text transform="translate(367.5,432.4) rotate(-90) scale(1.04,1)" text-anchor="middle" font-size="9.4">The Number of Alive Nodes</text><rect x="600.5" y="327.5" width="67" height="66.6" fill="#fff" stroke="#666" stroke-width="1"/><path d="M603.1 334.3H628.9" stroke="#ef6b5e" stroke-width="1.0"/><path d="M616.3 330.7l2.6 3.6l-2.6 3.6l-2.6 -3.6Z" fill="none" stroke="#ef6b5e" stroke-width="1.0"/><text x="631.4" y="337.2" font-size="8">CMSTR</text><path d="M603.1 345.1H628.9" stroke="#c8669f" stroke-width="1.0"/><path d="M616.3 341.5l2.6 3.6l-2.6 3.6l-2.6 -3.6Z" fill="none" stroke="#c8669f" stroke-width="1.0"/><text x="631.4" y="348" font-size="8">D2CRP</text><path d="M603.1 355.9H628.9" stroke="#4aae44" stroke-width="1.0"/><path d="M616.3 352.3l2.6 3.6l-2.6 3.6l-2.6 -3.6Z" fill="none" stroke="#4aae44" stroke-width="1.0"/><text x="631.4" y="358.8" font-size="8">EEHCHR</text><path d="M603.1 366.6H628.9" stroke="#8a86c2" stroke-width="1.0"/><path d="M616.3 363l2.6 3.6l-2.6 3.6l-2.6 -3.6Z" fill="none" stroke="#8a86c2" stroke-width="1.0"/><text x="631.4" y="369.5" font-size="8">ESCVAD</text><path d="M603.1 377.4H628.9" stroke="#38b493" stroke-width="1.0"/><path d="M616.3 373.8l2.6 3.6l-2.6 3.6l-2.6 -3.6Z" fill="none" stroke="#38b493" stroke-width="1.0"/><text x="631.4" y="380.3" font-size="8">GAAFSA</text><path d="M603.1 388.2H628.9" stroke="#0000ff" stroke-width="1.0"/><path d="M616.3 384.6l2.6 3.6l-2.6 3.6l-2.6 -3.6Z" fill="none" stroke="#0000ff" stroke-width="1.0"/><text x="631.4" y="391.1" font-size="8">BAFSA</text><text x="452.9" y="594.6" font-family="&quot;Liberation Serif&quot;, serif" font-size="13.5" fill="#111">(d)</text><text x="474.7" y="594.6" font-family="&quot;Liberation Serif&quot;, serif" font-size="13.5" fill="#111">Experiment Scenario 4</text></g>
</svg></body></html>
